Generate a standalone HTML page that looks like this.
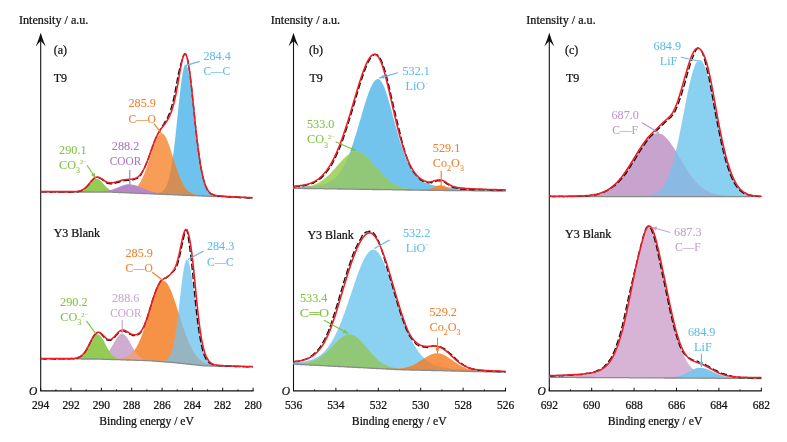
<!DOCTYPE html>
<html><head><meta charset="utf-8"><title>XPS spectra</title>
<style>
html,body{margin:0;padding:0;background:#fff;}
body{width:787px;height:442px;overflow:hidden;font-family:"Liberation Serif",serif;}
svg{display:block;}
svg text{filter:url(#gs);font-family:"Liberation Serif",serif;paint-order:stroke;stroke-linejoin:round;}
</style></head><body>
<svg width="787" height="442" viewBox="0 0 787 442">
<defs><filter id="gs" x="-20%" y="-60%" width="140%" height="220%"><feOffset dx="0" dy="0"/></filter></defs>
<rect width="787" height="442" fill="#fff"/>
<path d="M40.7 391.0 V36" stroke="#111" stroke-width="1.1" fill="none"/>
<path d="M40.7 32.7 Q42.9 40 45.7 46.6 Q43.1 43 40.7 40.9 Q38.3 43 35.7 46.6 Q38.5 40 40.7 32.7 Z" fill="#111"/>
<path d="M40.2 390.9 H253.6" stroke="#111" stroke-width="1.25" fill="none"/>
<path d="M40.7 391.0 v-3.3" stroke="#111" stroke-width="1"/>
<text x="40.7" y="408.6" fill="#111" stroke="#111" stroke-width="0.24" font-size="11.5" text-anchor="middle" >294</text>
<path d="M55.9 391.0 v-1.6" stroke="#111" stroke-width="1"/>
<path d="M71.0 391.0 v-3.3" stroke="#111" stroke-width="1"/>
<text x="71.0" y="408.6" fill="#111" stroke="#111" stroke-width="0.24" font-size="11.5" text-anchor="middle" >292</text>
<path d="M86.2 391.0 v-1.6" stroke="#111" stroke-width="1"/>
<path d="M101.4 391.0 v-3.3" stroke="#111" stroke-width="1"/>
<text x="101.4" y="408.6" fill="#111" stroke="#111" stroke-width="0.24" font-size="11.5" text-anchor="middle" >290</text>
<path d="M116.5 391.0 v-1.6" stroke="#111" stroke-width="1"/>
<path d="M131.7 391.0 v-3.3" stroke="#111" stroke-width="1"/>
<text x="131.7" y="408.6" fill="#111" stroke="#111" stroke-width="0.24" font-size="11.5" text-anchor="middle" >288</text>
<path d="M146.9 391.0 v-1.6" stroke="#111" stroke-width="1"/>
<path d="M162.1 391.0 v-3.3" stroke="#111" stroke-width="1"/>
<text x="162.1" y="408.6" fill="#111" stroke="#111" stroke-width="0.24" font-size="11.5" text-anchor="middle" >286</text>
<path d="M177.2 391.0 v-1.6" stroke="#111" stroke-width="1"/>
<path d="M192.4 391.0 v-3.3" stroke="#111" stroke-width="1"/>
<text x="192.4" y="408.6" fill="#111" stroke="#111" stroke-width="0.24" font-size="11.5" text-anchor="middle" >284</text>
<path d="M207.6 391.0 v-1.6" stroke="#111" stroke-width="1"/>
<path d="M222.7 391.0 v-3.3" stroke="#111" stroke-width="1"/>
<text x="222.7" y="408.6" fill="#111" stroke="#111" stroke-width="0.24" font-size="11.5" text-anchor="middle" >282</text>
<path d="M237.9 391.0 v-1.6" stroke="#111" stroke-width="1"/>
<path d="M253.1 391.0 v-3.3" stroke="#111" stroke-width="1"/>
<text x="253.1" y="408.6" fill="#111" stroke="#111" stroke-width="0.24" font-size="11.5" text-anchor="middle" >280</text>
<text x="37.2" y="395.3" fill="#111" stroke="#111" stroke-width="0.24" font-size="11.5" text-anchor="end" font-style="italic">O</text>
<text transform="translate(146.6 425.3) scale(1.015 1)" fill="#111" stroke="#111" stroke-width="0.24" font-size="11.5" text-anchor="middle" >Binding energy / eV</text>
<text transform="translate(19.0 23.5) scale(1.056 1)" fill="#111" stroke="#111" stroke-width="0.24" font-size="11.5" text-anchor="start" >Intensity / a.u.</text>
<path d="M124.7 192.3 L125.7 192.3 L126.7 192.4 L127.7 192.4 L128.7 192.4 L129.7 192.5 L130.7 192.5 L131.7 192.6 L132.7 192.6 L133.7 192.6 L134.7 192.7 L135.7 192.7 L136.7 192.7 L137.7 192.8 L138.7 192.8 L139.7 192.8 L140.7 192.9 L141.7 192.9 L142.7 192.9 L143.7 193.0 L144.7 193.0 L145.7 193.0 L146.7 193.0 L147.7 193.1 L148.7 193.1 L149.7 193.1 L150.7 193.1 L151.7 193.2 L152.7 193.2 L153.7 193.2 L154.7 193.2 L155.7 193.1 L156.7 193.1 L157.7 193.0 L158.7 192.8 L159.7 192.6 L160.7 192.3 L161.7 191.8 L162.7 191.2 L163.7 190.3 L164.7 189.1 L165.7 187.5 L166.7 185.4 L167.7 182.8 L168.7 179.6 L169.7 175.5 L170.7 170.7 L171.7 165.0 L172.7 158.4 L173.7 151.0 L174.7 142.7 L175.7 133.7 L176.7 124.3 L177.7 114.5 L178.7 104.8 L179.7 95.4 L180.7 86.7 L181.7 79.0 L182.7 72.6 L183.7 67.9 L184.7 65.1 L185.7 64.3 L186.7 65.4 L187.7 68.2 L188.7 72.6 L189.7 78.4 L190.7 85.4 L191.7 93.3 L192.7 101.8 L193.7 110.8 L194.7 119.8 L195.7 128.8 L196.7 137.4 L197.7 145.6 L198.7 153.2 L199.7 160.0 L200.7 166.1 L201.7 171.5 L202.7 176.1 L203.7 180.1 L204.7 183.3 L205.7 186.0 L206.7 188.2 L207.7 190.0 L208.7 191.4 L209.7 192.5 L210.7 193.3 L211.7 194.0 L212.7 194.5 L213.7 194.9 L214.7 195.2 L215.7 195.4 L216.7 195.6 L217.7 195.7 L218.7 195.8 L219.7 195.9 L220.7 196.0 L221.7 196.1 L222.7 196.1 L223.7 196.2 L224.7 196.3 L225.7 196.3 L226.7 196.4 L227.7 196.4 L228.7 196.5 L229.7 196.6 L230.7 196.6 L231.7 196.7 L232.7 196.7 L233.7 196.8 L234.7 196.8 L235.7 196.9 L236.7 196.9 L237.7 197.0 L238.7 197.0 L239.7 197.1 L240.7 197.1 L241.7 197.2 L242.7 197.2 L243.7 197.3 L244.7 197.3 L245.7 197.3 L245.7 197.8 L244.7 197.8 L243.7 197.7 L242.7 197.7 L241.7 197.6 L240.7 197.6 L239.7 197.5 L238.7 197.5 L237.7 197.5 L236.7 197.4 L235.7 197.4 L234.7 197.3 L233.7 197.3 L232.7 197.2 L231.7 197.2 L230.7 197.2 L229.7 197.1 L228.7 197.1 L227.7 197.0 L226.7 197.0 L225.7 197.0 L224.7 196.9 L223.7 196.9 L222.7 196.8 L221.7 196.8 L220.7 196.7 L219.7 196.7 L218.7 196.7 L217.7 196.6 L216.7 196.6 L215.7 196.5 L214.7 196.5 L213.7 196.5 L212.7 196.4 L211.7 196.4 L210.7 196.3 L209.7 196.3 L208.7 196.2 L207.7 196.2 L206.7 196.2 L205.7 196.1 L204.7 196.1 L203.7 196.0 L202.7 196.0 L201.7 195.9 L200.7 195.9 L199.7 195.9 L198.7 195.8 L197.7 195.8 L196.7 195.7 L195.7 195.7 L194.7 195.7 L193.7 195.6 L192.7 195.6 L191.7 195.5 L190.7 195.5 L189.7 195.4 L188.7 195.4 L187.7 195.4 L186.7 195.3 L185.7 195.3 L184.7 195.2 L183.7 195.2 L182.7 195.2 L181.7 195.1 L180.7 195.1 L179.7 195.0 L178.7 195.0 L177.7 194.9 L176.7 194.9 L175.7 194.9 L174.7 194.8 L173.7 194.8 L172.7 194.7 L171.7 194.7 L170.7 194.6 L169.7 194.6 L168.7 194.6 L167.7 194.5 L166.7 194.5 L165.7 194.4 L164.7 194.4 L163.7 194.4 L162.7 194.3 L161.7 194.3 L160.7 194.2 L159.7 194.2 L158.7 194.1 L157.7 194.1 L156.7 194.1 L155.7 194.0 L154.7 194.0 L153.7 193.9 L152.7 193.9 L151.7 193.8 L150.7 193.8 L149.7 193.8 L148.7 193.7 L147.7 193.7 L146.7 193.6 L145.7 193.6 L144.7 193.6 L143.7 193.5 L142.7 193.5 L141.7 193.4 L140.7 193.4 L139.7 193.3 L138.7 193.3 L137.7 193.3 L136.7 193.2 L135.7 193.2 L134.7 193.1 L133.7 193.1 L132.7 193.1 L131.7 193.0 L130.7 193.0 L129.7 192.9 L128.7 192.9 L127.7 192.8 L126.7 192.8 L125.7 192.8 L124.7 192.7 Z" fill="#6EC3EE"/>
<path d="M81.7 191.7 L82.7 191.7 L83.7 191.7 L84.7 191.7 L85.7 191.7 L86.7 191.7 L87.7 191.7 L88.7 191.7 L89.7 191.7 L90.7 191.7 L91.7 191.7 L92.7 191.8 L93.7 191.8 L94.7 191.8 L95.7 191.8 L96.7 191.8 L97.7 191.8 L98.7 191.8 L99.7 191.8 L100.7 191.8 L101.7 191.8 L102.7 191.8 L103.7 191.8 L104.7 191.8 L105.7 191.8 L106.7 191.8 L107.7 191.8 L108.7 191.8 L109.7 191.8 L110.7 191.8 L111.7 191.9 L112.7 191.9 L113.7 191.9 L114.7 192.0 L115.7 192.0 L116.7 192.1 L117.7 192.1 L118.7 192.1 L119.7 192.1 L120.7 192.1 L121.7 192.1 L122.7 192.1 L123.7 192.1 L124.7 192.1 L125.7 192.0 L126.7 191.9 L127.7 191.8 L128.7 191.6 L129.7 191.3 L130.7 191.0 L131.7 190.6 L132.7 190.2 L133.7 189.6 L134.7 188.9 L135.7 188.1 L136.7 187.1 L137.7 186.0 L138.7 184.6 L139.7 183.1 L140.7 181.4 L141.7 179.5 L142.7 177.4 L143.7 175.1 L144.7 172.6 L145.7 169.9 L146.7 167.1 L147.7 164.1 L148.7 161.0 L149.7 157.9 L150.7 154.7 L151.7 151.6 L152.7 148.6 L153.7 145.6 L154.7 142.9 L155.7 140.4 L156.7 138.3 L157.7 136.4 L158.7 135.0 L159.7 133.9 L160.7 133.3 L161.7 133.2 L162.7 133.5 L163.7 134.3 L164.7 135.5 L165.7 137.1 L166.7 139.1 L167.7 141.4 L168.7 144.0 L169.7 146.9 L170.7 149.9 L171.7 153.1 L172.7 156.3 L173.7 159.5 L174.7 162.8 L175.7 165.9 L176.7 168.9 L177.7 171.8 L178.7 174.6 L179.7 177.1 L180.7 179.5 L181.7 181.6 L182.7 183.6 L183.7 185.3 L184.7 186.9 L185.7 188.2 L186.7 189.4 L187.7 190.4 L188.7 191.3 L189.7 192.1 L190.7 192.7 L191.7 193.3 L192.7 193.7 L193.7 194.1 L194.7 194.4 L195.7 194.6 L196.7 194.9 L197.7 195.0 L198.7 195.2 L199.7 195.3 L200.7 195.4 L201.7 195.5 L202.7 195.6 L203.7 195.7 L204.7 195.7 L205.7 195.8 L206.7 195.8 L207.7 195.9 L208.7 195.9 L209.7 196.0 L210.7 196.0 L211.7 196.1 L212.7 196.1 L213.7 196.1 L214.7 196.2 L215.7 196.2 L216.7 196.3 L217.7 196.3 L218.7 196.4 L219.7 196.4 L220.7 196.4 L221.7 196.5 L222.7 196.5 L223.7 196.6 L224.7 196.6 L225.7 196.7 L226.7 196.7 L227.7 196.7 L228.7 196.8 L229.7 196.8 L230.7 196.9 L231.7 196.9 L232.7 196.9 L233.7 197.0 L234.7 197.0 L235.7 197.1 L236.7 197.1 L237.7 197.2 L238.7 197.2 L239.7 197.2 L240.7 197.3 L241.7 197.3 L241.7 197.6 L240.7 197.6 L239.7 197.5 L238.7 197.5 L237.7 197.5 L236.7 197.4 L235.7 197.4 L234.7 197.3 L233.7 197.3 L232.7 197.2 L231.7 197.2 L230.7 197.2 L229.7 197.1 L228.7 197.1 L227.7 197.0 L226.7 197.0 L225.7 197.0 L224.7 196.9 L223.7 196.9 L222.7 196.8 L221.7 196.8 L220.7 196.7 L219.7 196.7 L218.7 196.7 L217.7 196.6 L216.7 196.6 L215.7 196.5 L214.7 196.5 L213.7 196.5 L212.7 196.4 L211.7 196.4 L210.7 196.3 L209.7 196.3 L208.7 196.2 L207.7 196.2 L206.7 196.2 L205.7 196.1 L204.7 196.1 L203.7 196.0 L202.7 196.0 L201.7 195.9 L200.7 195.9 L199.7 195.9 L198.7 195.8 L197.7 195.8 L196.7 195.7 L195.7 195.7 L194.7 195.7 L193.7 195.6 L192.7 195.6 L191.7 195.5 L190.7 195.5 L189.7 195.4 L188.7 195.4 L187.7 195.4 L186.7 195.3 L185.7 195.3 L184.7 195.2 L183.7 195.2 L182.7 195.2 L181.7 195.1 L180.7 195.1 L179.7 195.0 L178.7 195.0 L177.7 194.9 L176.7 194.9 L175.7 194.9 L174.7 194.8 L173.7 194.8 L172.7 194.7 L171.7 194.7 L170.7 194.6 L169.7 194.6 L168.7 194.6 L167.7 194.5 L166.7 194.5 L165.7 194.4 L164.7 194.4 L163.7 194.4 L162.7 194.3 L161.7 194.3 L160.7 194.2 L159.7 194.2 L158.7 194.1 L157.7 194.1 L156.7 194.1 L155.7 194.0 L154.7 194.0 L153.7 193.9 L152.7 193.9 L151.7 193.8 L150.7 193.8 L149.7 193.8 L148.7 193.7 L147.7 193.7 L146.7 193.6 L145.7 193.6 L144.7 193.6 L143.7 193.5 L142.7 193.5 L141.7 193.4 L140.7 193.4 L139.7 193.3 L138.7 193.3 L137.7 193.3 L136.7 193.2 L135.7 193.2 L134.7 193.1 L133.7 193.1 L132.7 193.1 L131.7 193.0 L130.7 193.0 L129.7 192.9 L128.7 192.9 L127.7 192.8 L126.7 192.8 L125.7 192.8 L124.7 192.7 L123.7 192.7 L122.7 192.6 L121.7 192.6 L120.7 192.5 L119.7 192.5 L118.7 192.5 L117.7 192.4 L116.7 192.4 L115.7 192.3 L114.7 192.3 L113.7 192.3 L112.7 192.2 L111.7 192.2 L110.7 192.1 L109.7 192.1 L108.7 192.1 L107.7 192.1 L106.7 192.1 L105.7 192.1 L104.7 192.1 L103.7 192.1 L102.7 192.1 L101.7 192.1 L100.7 192.1 L99.7 192.1 L98.7 192.1 L97.7 192.1 L96.7 192.1 L95.7 192.1 L94.7 192.1 L93.7 192.1 L92.7 192.1 L91.7 192.0 L90.7 192.0 L89.7 192.0 L88.7 192.0 L87.7 192.0 L86.7 192.0 L85.7 192.0 L84.7 192.0 L83.7 192.0 L82.7 192.0 L81.7 192.0 Z" fill="#F79D58"/>
<path d="M118.7 192.1 L119.7 192.1 L120.7 192.1 L121.7 192.2 L122.7 192.2 L123.7 192.3 L124.7 192.3 L125.7 192.3 L126.7 192.4 L127.7 192.4 L128.7 192.4 L129.7 192.5 L130.7 192.5 L131.7 192.6 L132.7 192.6 L133.7 192.6 L134.7 192.7 L135.7 192.7 L136.7 192.7 L137.7 192.8 L138.7 192.8 L139.7 192.8 L140.7 192.9 L141.7 192.9 L142.7 192.9 L143.7 193.0 L144.7 193.0 L145.7 193.0 L146.7 193.0 L147.7 193.1 L148.7 193.1 L149.7 193.1 L150.7 193.1 L151.7 193.2 L152.7 193.2 L153.7 193.2 L154.7 193.2 L155.7 193.1 L156.7 193.1 L157.7 193.0 L158.7 192.8 L159.7 192.6 L160.7 192.3 L161.7 191.8 L162.7 191.2 L163.7 190.3 L164.7 189.1 L165.7 187.5 L166.7 185.4 L167.7 182.8 L168.7 179.6 L169.7 175.5 L170.7 170.7 L171.7 165.0 L172.7 158.4 L173.7 159.5 L174.7 162.8 L175.7 165.9 L176.7 168.9 L177.7 171.8 L178.7 174.6 L179.7 177.1 L180.7 179.5 L181.7 181.6 L182.7 183.6 L183.7 185.3 L184.7 186.9 L185.7 188.2 L186.7 189.4 L187.7 190.4 L188.7 191.3 L189.7 192.1 L190.7 192.7 L191.7 193.3 L192.7 193.7 L193.7 194.1 L194.7 194.4 L195.7 194.6 L196.7 194.9 L197.7 195.0 L198.7 195.2 L199.7 195.3 L200.7 195.4 L201.7 195.5 L202.7 195.6 L203.7 195.7 L204.7 195.7 L204.7 196.1 L203.7 196.0 L202.7 196.0 L201.7 195.9 L200.7 195.9 L199.7 195.9 L198.7 195.8 L197.7 195.8 L196.7 195.7 L195.7 195.7 L194.7 195.7 L193.7 195.6 L192.7 195.6 L191.7 195.5 L190.7 195.5 L189.7 195.4 L188.7 195.4 L187.7 195.4 L186.7 195.3 L185.7 195.3 L184.7 195.2 L183.7 195.2 L182.7 195.2 L181.7 195.1 L180.7 195.1 L179.7 195.0 L178.7 195.0 L177.7 194.9 L176.7 194.9 L175.7 194.9 L174.7 194.8 L173.7 194.8 L172.7 194.7 L171.7 194.7 L170.7 194.6 L169.7 194.6 L168.7 194.6 L167.7 194.5 L166.7 194.5 L165.7 194.4 L164.7 194.4 L163.7 194.4 L162.7 194.3 L161.7 194.3 L160.7 194.2 L159.7 194.2 L158.7 194.1 L157.7 194.1 L156.7 194.1 L155.7 194.0 L154.7 194.0 L153.7 193.9 L152.7 193.9 L151.7 193.8 L150.7 193.8 L149.7 193.8 L148.7 193.7 L147.7 193.7 L146.7 193.6 L145.7 193.6 L144.7 193.6 L143.7 193.5 L142.7 193.5 L141.7 193.4 L140.7 193.4 L139.7 193.3 L138.7 193.3 L137.7 193.3 L136.7 193.2 L135.7 193.2 L134.7 193.1 L133.7 193.1 L132.7 193.1 L131.7 193.0 L130.7 193.0 L129.7 192.9 L128.7 192.9 L127.7 192.8 L126.7 192.8 L125.7 192.8 L124.7 192.7 L123.7 192.7 L122.7 192.6 L121.7 192.6 L120.7 192.5 L119.7 192.5 L118.7 192.5 Z" fill="#D28F55"/>
<path d="M47.7 191.6 L48.7 191.6 L49.7 191.6 L50.7 191.6 L51.7 191.6 L52.7 191.6 L53.7 191.6 L54.7 191.6 L55.7 191.6 L56.7 191.6 L57.7 191.7 L58.7 191.7 L59.7 191.7 L60.7 191.7 L61.7 191.7 L62.7 191.7 L63.7 191.7 L64.7 191.7 L65.7 191.7 L66.7 191.7 L67.7 191.7 L68.7 191.7 L69.7 191.7 L70.7 191.7 L71.7 191.7 L72.7 191.7 L73.7 191.6 L74.7 191.6 L75.7 191.5 L76.7 191.5 L77.7 191.3 L78.7 191.2 L79.7 191.0 L80.7 190.7 L81.7 190.3 L82.7 189.8 L83.7 189.2 L84.7 188.5 L85.7 187.7 L86.7 186.7 L87.7 185.7 L88.7 184.6 L89.7 183.5 L90.7 182.4 L91.7 181.3 L92.7 180.4 L93.7 179.6 L94.7 179.1 L95.7 178.8 L96.7 178.7 L97.7 178.9 L98.7 179.4 L99.7 180.1 L100.7 181.0 L101.7 182.0 L102.7 183.1 L103.7 184.2 L104.7 185.3 L105.7 186.4 L106.7 187.4 L107.7 188.2 L108.7 189.0 L109.7 189.7 L110.7 190.2 L111.7 190.7 L112.7 191.0 L113.7 191.3 L114.7 191.6 L115.7 191.7 L116.7 191.9 L117.7 192.0 L118.7 192.1 L119.7 192.2 L120.7 192.2 L121.7 192.3 L122.7 192.3 L123.7 192.4 L124.7 192.4 L125.7 192.5 L126.7 192.5 L127.7 192.5 L128.7 192.6 L129.7 192.6 L130.7 192.7 L131.7 192.7 L132.7 192.8 L133.7 192.8 L134.7 192.8 L135.7 192.9 L136.7 192.9 L137.7 193.0 L138.7 193.0 L139.7 193.0 L140.7 193.1 L141.7 193.1 L142.7 193.2 L143.7 193.2 L144.7 193.3 L144.7 193.6 L143.7 193.5 L142.7 193.5 L141.7 193.4 L140.7 193.4 L139.7 193.3 L138.7 193.3 L137.7 193.3 L136.7 193.2 L135.7 193.2 L134.7 193.1 L133.7 193.1 L132.7 193.1 L131.7 193.0 L130.7 193.0 L129.7 192.9 L128.7 192.9 L127.7 192.8 L126.7 192.8 L125.7 192.8 L124.7 192.7 L123.7 192.7 L122.7 192.6 L121.7 192.6 L120.7 192.5 L119.7 192.5 L118.7 192.5 L117.7 192.4 L116.7 192.4 L115.7 192.3 L114.7 192.3 L113.7 192.3 L112.7 192.2 L111.7 192.2 L110.7 192.1 L109.7 192.1 L108.7 192.1 L107.7 192.1 L106.7 192.1 L105.7 192.1 L104.7 192.1 L103.7 192.1 L102.7 192.1 L101.7 192.1 L100.7 192.1 L99.7 192.1 L98.7 192.1 L97.7 192.1 L96.7 192.1 L95.7 192.1 L94.7 192.1 L93.7 192.1 L92.7 192.1 L91.7 192.0 L90.7 192.0 L89.7 192.0 L88.7 192.0 L87.7 192.0 L86.7 192.0 L85.7 192.0 L84.7 192.0 L83.7 192.0 L82.7 192.0 L81.7 192.0 L80.7 192.0 L79.7 192.0 L78.7 192.0 L77.7 192.0 L76.7 192.0 L75.7 192.0 L74.7 192.0 L73.7 192.0 L72.7 192.0 L71.7 192.0 L70.7 192.0 L69.7 192.0 L68.7 192.0 L67.7 192.0 L66.7 192.0 L65.7 192.0 L64.7 192.0 L63.7 192.0 L62.7 192.0 L61.7 192.0 L60.7 192.0 L59.7 192.0 L58.7 192.0 L57.7 192.0 L56.7 191.9 L55.7 191.9 L54.7 191.9 L53.7 191.9 L52.7 191.9 L51.7 191.9 L50.7 191.9 L49.7 191.9 L48.7 191.9 L47.7 191.9 Z" fill="#93CB55"/>
<path d="M40.7 191.6 L41.7 191.6 L42.7 191.6 L43.7 191.6 L44.7 191.6 L45.7 191.6 L46.7 191.6 L47.7 191.6 L48.7 191.6 L49.7 191.6 L50.7 191.6 L51.7 191.6 L52.7 191.6 L53.7 191.6 L54.7 191.6 L55.7 191.6 L56.7 191.6 L57.7 191.7 L58.7 191.7 L59.7 191.7 L60.7 191.7 L61.7 191.7 L62.7 191.7 L63.7 191.7 L64.7 191.7 L65.7 191.7 L66.7 191.7 L67.7 191.7 L68.7 191.7 L69.7 191.7 L70.7 191.7 L71.7 191.7 L72.7 191.7 L73.7 191.7 L74.7 191.7 L75.7 191.7 L76.7 191.7 L77.7 191.7 L78.7 191.7 L79.7 191.7 L80.7 191.7 L81.7 191.7 L82.7 191.7 L83.7 191.7 L84.7 191.7 L85.7 191.7 L86.7 191.7 L87.7 191.7 L88.7 191.7 L89.7 191.7 L90.7 191.7 L91.7 191.7 L92.7 191.7 L93.7 191.7 L94.7 191.7 L95.7 191.7 L96.7 191.7 L97.7 191.6 L98.7 191.6 L99.7 191.6 L100.7 191.5 L101.7 191.4 L102.7 191.4 L103.7 191.3 L104.7 191.1 L105.7 191.0 L106.7 190.8 L107.7 190.6 L108.7 190.4 L109.7 190.2 L110.7 189.9 L111.7 189.7 L112.7 189.4 L113.7 189.0 L114.7 188.7 L115.7 188.3 L116.7 187.9 L117.7 187.5 L118.7 187.1 L119.7 186.7 L120.7 186.2 L121.7 185.9 L122.7 185.5 L123.7 185.2 L124.7 184.9 L125.7 184.6 L126.7 184.5 L127.7 184.3 L128.7 184.3 L129.7 184.3 L130.7 184.4 L131.7 184.5 L132.7 184.7 L133.7 184.9 L134.7 185.1 L135.7 185.4 L136.7 185.8 L137.7 186.1 L138.7 186.5 L139.7 186.9 L140.7 187.3 L141.7 187.7 L142.7 188.2 L143.7 188.6 L144.7 189.0 L145.7 189.4 L146.7 189.8 L147.7 190.2 L148.7 190.6 L149.7 190.9 L150.7 191.3 L151.7 191.6 L152.7 191.9 L153.7 192.1 L154.7 192.4 L155.7 192.6 L156.7 192.8 L157.7 193.0 L158.7 193.2 L159.7 193.3 L160.7 193.5 L161.7 193.6 L162.7 193.7 L163.7 193.8 L164.7 193.9 L165.7 194.0 L166.7 194.0 L167.7 194.1 L168.7 194.2 L169.7 194.2 L170.7 194.3 L171.7 194.3 L172.7 194.4 L173.7 194.4 L174.7 194.5 L175.7 194.5 L176.7 194.6 L177.7 194.6 L178.7 194.7 L179.7 194.7 L180.7 194.8 L181.7 194.8 L182.7 194.8 L183.7 194.9 L184.7 194.9 L185.7 195.0 L186.7 195.0 L187.7 195.1 L188.7 195.1 L189.7 195.1 L190.7 195.2 L191.7 195.2 L192.7 195.3 L193.7 195.3 L194.7 195.4 L195.7 195.4 L196.7 195.4 L197.7 195.5 L198.7 195.5 L199.7 195.6 L200.7 195.6 L201.7 195.6 L202.7 195.7 L203.7 195.7 L204.7 195.8 L205.7 195.8 L206.7 195.9 L207.7 195.9 L208.7 195.9 L209.7 196.0 L210.7 196.0 L211.7 196.1 L212.7 196.1 L213.7 196.2 L214.7 196.2 L215.7 196.2 L216.7 196.3 L217.7 196.3 L218.7 196.4 L219.7 196.4 L219.7 196.7 L218.7 196.7 L217.7 196.6 L216.7 196.6 L215.7 196.5 L214.7 196.5 L213.7 196.5 L212.7 196.4 L211.7 196.4 L210.7 196.3 L209.7 196.3 L208.7 196.2 L207.7 196.2 L206.7 196.2 L205.7 196.1 L204.7 196.1 L203.7 196.0 L202.7 196.0 L201.7 195.9 L200.7 195.9 L199.7 195.9 L198.7 195.8 L197.7 195.8 L196.7 195.7 L195.7 195.7 L194.7 195.7 L193.7 195.6 L192.7 195.6 L191.7 195.5 L190.7 195.5 L189.7 195.4 L188.7 195.4 L187.7 195.4 L186.7 195.3 L185.7 195.3 L184.7 195.2 L183.7 195.2 L182.7 195.2 L181.7 195.1 L180.7 195.1 L179.7 195.0 L178.7 195.0 L177.7 194.9 L176.7 194.9 L175.7 194.9 L174.7 194.8 L173.7 194.8 L172.7 194.7 L171.7 194.7 L170.7 194.6 L169.7 194.6 L168.7 194.6 L167.7 194.5 L166.7 194.5 L165.7 194.4 L164.7 194.4 L163.7 194.4 L162.7 194.3 L161.7 194.3 L160.7 194.2 L159.7 194.2 L158.7 194.1 L157.7 194.1 L156.7 194.1 L155.7 194.0 L154.7 194.0 L153.7 193.9 L152.7 193.9 L151.7 193.8 L150.7 193.8 L149.7 193.8 L148.7 193.7 L147.7 193.7 L146.7 193.6 L145.7 193.6 L144.7 193.6 L143.7 193.5 L142.7 193.5 L141.7 193.4 L140.7 193.4 L139.7 193.3 L138.7 193.3 L137.7 193.3 L136.7 193.2 L135.7 193.2 L134.7 193.1 L133.7 193.1 L132.7 193.1 L131.7 193.0 L130.7 193.0 L129.7 192.9 L128.7 192.9 L127.7 192.8 L126.7 192.8 L125.7 192.8 L124.7 192.7 L123.7 192.7 L122.7 192.6 L121.7 192.6 L120.7 192.5 L119.7 192.5 L118.7 192.5 L117.7 192.4 L116.7 192.4 L115.7 192.3 L114.7 192.3 L113.7 192.3 L112.7 192.2 L111.7 192.2 L110.7 192.1 L109.7 192.1 L108.7 192.1 L107.7 192.1 L106.7 192.1 L105.7 192.1 L104.7 192.1 L103.7 192.1 L102.7 192.1 L101.7 192.1 L100.7 192.1 L99.7 192.1 L98.7 192.1 L97.7 192.1 L96.7 192.1 L95.7 192.1 L94.7 192.1 L93.7 192.1 L92.7 192.1 L91.7 192.0 L90.7 192.0 L89.7 192.0 L88.7 192.0 L87.7 192.0 L86.7 192.0 L85.7 192.0 L84.7 192.0 L83.7 192.0 L82.7 192.0 L81.7 192.0 L80.7 192.0 L79.7 192.0 L78.7 192.0 L77.7 192.0 L76.7 192.0 L75.7 192.0 L74.7 192.0 L73.7 192.0 L72.7 192.0 L71.7 192.0 L70.7 192.0 L69.7 192.0 L68.7 192.0 L67.7 192.0 L66.7 192.0 L65.7 192.0 L64.7 192.0 L63.7 192.0 L62.7 192.0 L61.7 192.0 L60.7 192.0 L59.7 192.0 L58.7 192.0 L57.7 192.0 L56.7 191.9 L55.7 191.9 L54.7 191.9 L53.7 191.9 L52.7 191.9 L51.7 191.9 L50.7 191.9 L49.7 191.9 L48.7 191.9 L47.7 191.9 L46.7 191.9 L45.7 191.9 L44.7 191.9 L43.7 191.9 L42.7 191.9 L41.7 191.9 L40.7 191.9 Z" fill="#B787C8"/>
<path d="M40.7 191.9 L41.7 191.9 L42.7 191.9 L43.7 191.9 L44.7 191.9 L45.7 191.9 L46.7 191.9 L47.7 191.9 L48.7 191.9 L49.7 191.9 L50.7 191.9 L51.7 191.9 L52.7 191.9 L53.7 191.9 L54.7 191.9 L55.7 191.9 L56.7 191.9 L57.7 192.0 L58.7 192.0 L59.7 192.0 L60.7 192.0 L61.7 192.0 L62.7 192.0 L63.7 192.0 L64.7 192.0 L65.7 192.0 L66.7 192.0 L67.7 192.0 L68.7 192.0 L69.7 192.0 L70.7 192.0 L71.7 192.0 L72.7 192.0 L73.7 192.0 L74.7 192.0 L75.7 192.0 L76.7 192.0 L77.7 192.0 L78.7 192.0 L79.7 192.0 L80.7 192.0 L81.7 192.0 L82.7 192.0 L83.7 192.0 L84.7 192.0 L85.7 192.0 L86.7 192.0 L87.7 192.0 L88.7 192.0 L89.7 192.0 L90.7 192.0 L91.7 192.0 L92.7 192.1 L93.7 192.1 L94.7 192.1 L95.7 192.1 L96.7 192.1 L97.7 192.1 L98.7 192.1 L99.7 192.1 L100.7 192.1 L101.7 192.1 L102.7 192.1 L103.7 192.1 L104.7 192.1 L105.7 192.1 L106.7 192.1 L107.7 192.1 L108.7 192.1 L109.7 192.1 L110.7 192.1 L111.7 192.2 L112.7 192.2 L113.7 192.3 L114.7 192.3 L115.7 192.3 L116.7 192.4 L117.7 192.4 L118.7 192.5 L119.7 192.5 L120.7 192.5 L121.7 192.6 L122.7 192.6 L123.7 192.7 L124.7 192.7 L125.7 192.8 L126.7 192.8 L127.7 192.8 L128.7 192.9 L129.7 192.9 L130.7 193.0 L131.7 193.0 L132.7 193.1 L133.7 193.1 L134.7 193.1 L135.7 193.2 L136.7 193.2 L137.7 193.3 L138.7 193.3 L139.7 193.3 L140.7 193.4 L141.7 193.4 L142.7 193.5 L143.7 193.5 L144.7 193.6 L145.7 193.6 L146.7 193.6 L147.7 193.7 L148.7 193.7 L149.7 193.8 L150.7 193.8 L151.7 193.8 L152.7 193.9 L153.7 193.9 L154.7 194.0 L155.7 194.0 L156.7 194.1 L157.7 194.1 L158.7 194.1 L159.7 194.2 L160.7 194.2 L161.7 194.3 L162.7 194.3 L163.7 194.4 L164.7 194.4 L165.7 194.4 L166.7 194.5 L167.7 194.5 L168.7 194.6 L169.7 194.6 L170.7 194.6 L171.7 194.7 L172.7 194.7 L173.7 194.8 L174.7 194.8 L175.7 194.9 L176.7 194.9 L177.7 194.9 L178.7 195.0 L179.7 195.0 L180.7 195.1 L181.7 195.1 L182.7 195.2 L183.7 195.2 L184.7 195.2 L185.7 195.3 L186.7 195.3 L187.7 195.4 L188.7 195.4 L189.7 195.4 L190.7 195.5 L191.7 195.5 L192.7 195.6 L193.7 195.6 L194.7 195.7 L195.7 195.7 L196.7 195.7 L197.7 195.8 L198.7 195.8 L199.7 195.9 L200.7 195.9 L201.7 195.9 L202.7 196.0 L203.7 196.0 L204.7 196.1 L205.7 196.1 L206.7 196.2 L207.7 196.2 L208.7 196.2 L209.7 196.3 L210.7 196.3 L211.7 196.4 L212.7 196.4 L213.7 196.5 L214.7 196.5 L215.7 196.5 L216.7 196.6 L217.7 196.6 L218.7 196.7 L219.7 196.7 L220.7 196.7 L221.7 196.8 L222.7 196.8 L223.7 196.9 L224.7 196.9 L225.7 197.0 L226.7 197.0 L227.7 197.0 L228.7 197.1 L229.7 197.1 L230.7 197.2 L231.7 197.2 L232.7 197.2 L233.7 197.3 L234.7 197.3 L235.7 197.4 L236.7 197.4 L237.7 197.5 L238.7 197.5 L239.7 197.5 L240.7 197.6 L241.7 197.6 L242.7 197.7 L243.7 197.7 L244.7 197.8 L245.7 197.8 L246.7 197.8 L247.7 197.9 L248.7 197.9 L249.7 198.0 L250.7 198.0 L251.7 198.0 L252.7 198.1" fill="none" stroke="#8A8A8A" stroke-width="1.3"/>
<path d="M40.7 192.1 L41.7 191.9 L42.7 191.7 L43.7 191.7 L44.7 191.9 L45.7 191.8 L46.7 191.8 L47.7 192.0 L48.7 192.2 L49.7 192.0 L50.7 191.9 L51.7 192.0 L52.7 191.9 L53.7 191.6 L54.7 191.7 L55.7 192.0 L56.7 191.9 L57.7 191.9 L58.7 192.1 L59.7 192.2 L60.7 191.9 L61.7 191.8 L62.7 191.9 L63.7 191.9 L64.7 191.7 L65.7 191.8 L66.7 192.1 L67.7 192.1 L68.7 191.9 L69.7 192.1 L70.7 192.2 L71.7 191.9 L72.7 191.7 L73.7 191.8 L74.7 191.8 L75.7 191.6 L76.7 191.6 L77.7 191.8 L78.7 191.6 L79.7 191.2 L80.7 190.9 L81.7 190.6 L82.7 189.8 L83.7 189.1 L84.7 188.5 L85.7 187.8 L86.7 186.7 L87.7 185.7 L88.7 184.8 L89.7 183.5 L90.7 182.0 L91.7 180.9 L92.7 179.9 L93.7 178.8 L94.7 177.9 L95.7 177.7 L96.7 177.6 L97.7 177.4 L98.7 177.6 L99.7 178.2 L100.7 178.7 L101.7 179.1 L102.7 179.9 L103.7 180.9 L104.7 181.5 L105.7 182.1 L106.7 182.9 L107.7 183.5 L108.7 183.6 L109.7 183.7 L110.7 183.9 L111.7 183.8 L112.7 183.4 L113.7 183.2 L114.7 183.2 L115.7 183.0 L116.7 182.6 L117.7 182.5 L118.7 182.4 L119.7 181.9 L120.7 181.4 L121.7 181.3 L122.7 181.0 L123.7 180.5 L124.7 180.4 L125.7 180.5 L126.7 180.4 L127.7 180.2 L128.7 180.3 L129.7 180.5 L130.7 180.2 L131.7 179.9 L132.7 179.9 L133.7 179.7 L134.7 179.2 L135.7 178.9 L136.7 178.7 L137.7 178.1 L138.7 177.2 L139.7 176.3 L140.7 175.1 L141.7 173.3 L142.7 171.4 L143.7 169.5 L144.7 167.5 L145.7 165.0 L146.7 162.6 L147.7 160.3 L148.7 157.7 L149.7 154.6 L150.7 151.8 L151.7 149.1 L152.7 146.1 L153.7 143.1 L154.7 140.7 L155.7 138.5 L156.7 136.2 L157.7 134.2 L158.7 132.6 L159.7 131.0 L160.7 129.0 L161.7 127.3 L162.7 125.9 L163.7 124.1 L164.7 122.2 L165.7 120.8 L166.7 119.3 L167.7 117.3 L168.7 115.1 L169.7 112.8 L170.7 110.0 L171.7 106.4 L172.7 102.6 L173.7 98.6 L174.7 93.8 L175.7 88.4 L176.7 83.0 L177.7 77.5 L178.7 72.6 L179.7 68.3 L180.7 64.5 L181.7 61.1 L182.7 57.9 L183.7 55.1 L184.7 53.9 L185.7 54.3 L186.7 56.2 L187.7 60.1 L188.7 65.7 L189.7 72.3 L190.7 80.1 L191.7 89.1 L192.7 98.7 L193.7 108.2 L194.7 117.9 L195.7 127.7 L196.7 136.8 L197.7 145.1 L198.7 153.0 L199.7 160.1 L200.7 166.2 L201.7 171.3 L202.7 176.1 L203.7 180.1 L204.7 183.3 L205.7 186.0 L206.7 188.5 L207.7 190.4 L208.7 191.6 L209.7 192.7 L210.7 193.7 L211.7 194.2 L212.7 194.4 L213.7 194.9 L214.7 195.4 L215.7 195.5 L216.7 195.7 L217.7 196.1 L218.7 196.3 L219.7 196.2 L220.7 196.1 L221.7 196.4 L222.7 196.3 L223.7 196.1 L224.7 196.3 L225.7 196.7 L226.7 196.7 L227.7 196.6 L228.7 196.9 L229.7 197.1 L230.7 196.8 L231.7 196.7 L232.7 196.9 L233.7 197.0 L234.7 196.8 L235.7 197.0 L236.7 197.4 L237.7 197.4 L238.7 197.3 L239.7 197.5 L240.7 197.6 L241.7 197.3 L242.7 197.2 L243.7 197.5 L244.7 197.6 L245.7 197.5 L246.7 197.6 L247.7 198.0 L248.7 198.0 L249.7 197.8 L250.7 197.9 L251.7 198.0 L252.7 197.8" fill="none" stroke="#111" stroke-width="1.35" stroke-dasharray="6.5 2.6" stroke-linejoin="round"/>
<path d="M40.7 191.6 L41.7 191.6 L42.7 191.6 L43.7 191.6 L44.7 191.6 L45.7 191.6 L46.7 191.6 L47.7 191.6 L48.7 191.6 L49.7 191.6 L50.7 191.6 L51.7 191.6 L52.7 191.6 L53.7 191.6 L54.7 191.6 L55.7 191.6 L56.7 191.6 L57.7 191.6 L58.7 191.6 L59.7 191.6 L60.7 191.6 L61.7 191.6 L62.7 191.6 L63.7 191.6 L64.7 191.6 L65.7 191.6 L66.7 191.6 L67.7 191.6 L68.7 191.6 L69.7 191.6 L70.7 191.6 L71.7 191.6 L72.7 191.6 L73.7 191.6 L74.7 191.5 L75.7 191.5 L76.7 191.4 L77.7 191.3 L78.7 191.1 L79.7 190.9 L80.7 190.6 L81.7 190.2 L82.7 189.7 L83.7 189.1 L84.7 188.3 L85.7 187.5 L86.7 186.5 L87.7 185.4 L88.7 184.2 L89.7 183.0 L90.7 181.8 L91.7 180.6 L92.7 179.6 L93.7 178.6 L94.7 177.9 L95.7 177.4 L96.7 177.1 L97.7 177.1 L98.7 177.2 L99.7 177.6 L100.7 178.1 L101.7 178.8 L102.7 179.5 L103.7 180.2 L104.7 180.9 L105.7 181.5 L106.7 182.0 L107.7 182.4 L108.7 182.6 L109.7 182.8 L110.7 182.8 L111.7 182.8 L112.7 182.7 L113.7 182.6 L114.7 182.3 L115.7 182.1 L116.7 181.8 L117.7 181.5 L118.7 181.2 L119.7 180.9 L120.7 180.6 L121.7 180.3 L122.7 180.1 L123.7 179.9 L124.7 179.7 L125.7 179.6 L126.7 179.4 L127.7 179.4 L128.7 179.3 L129.7 179.3 L130.7 179.2 L131.7 179.2 L132.7 179.0 L133.7 178.8 L134.7 178.6 L135.7 178.2 L136.7 177.7 L137.7 177.1 L138.7 176.3 L139.7 175.3 L140.7 174.1 L141.7 172.7 L142.7 171.1 L143.7 169.3 L144.7 167.3 L145.7 165.1 L146.7 162.7 L147.7 160.1 L148.7 157.4 L149.7 154.6 L150.7 151.8 L151.7 148.9 L152.7 146.1 L153.7 143.4 L154.7 140.8 L155.7 138.4 L156.7 136.2 L157.7 134.1 L158.7 132.3 L159.7 130.7 L160.7 129.3 L161.7 128.0 L162.7 126.7 L163.7 125.5 L164.7 124.2 L165.7 122.8 L166.7 121.3 L167.7 119.7 L168.7 117.8 L169.7 115.7 L170.7 113.4 L171.7 110.7 L172.7 107.6 L173.7 104.0 L174.7 99.9 L175.7 95.3 L176.7 90.2 L177.7 84.7 L178.7 78.9 L179.7 73.1 L180.7 67.5 L181.7 62.4 L182.7 58.2 L183.7 55.2 L184.7 53.8 L185.7 54.1 L186.7 56.2 L187.7 59.9 L188.7 65.3 L189.7 72.1 L190.7 80.1 L191.7 89.0 L192.7 98.5 L193.7 108.3 L194.7 118.0 L195.7 127.5 L196.7 136.5 L197.7 145.0 L198.7 152.7 L199.7 159.7 L200.7 165.9 L201.7 171.4 L202.7 176.0 L203.7 180.0 L204.7 183.3 L205.7 186.0 L206.7 188.2 L207.7 190.0 L208.7 191.4 L209.7 192.5 L210.7 193.3 L211.7 194.0 L212.7 194.5 L213.7 194.9 L214.7 195.1 L215.7 195.4 L216.7 195.6 L217.7 195.7 L218.7 195.8 L219.7 195.9 L220.7 196.0 L221.7 196.1 L222.7 196.1 L223.7 196.2 L224.7 196.3 L225.7 196.3 L226.7 196.4 L227.7 196.4 L228.7 196.5 L229.7 196.6 L230.7 196.6 L231.7 196.7 L232.7 196.7 L233.7 196.8 L234.7 196.8 L235.7 196.9 L236.7 196.9 L237.7 197.0 L238.7 197.0 L239.7 197.1 L240.7 197.1 L241.7 197.2 L242.7 197.2 L243.7 197.3 L244.7 197.3 L245.7 197.3 L246.7 197.4 L247.7 197.4 L248.7 197.5 L249.7 197.5 L250.7 197.6 L251.7 197.6 L252.7 197.7" fill="none" stroke="#EE1C25" stroke-width="1.55" stroke-linejoin="round"/>
<path d="M129.7 359.7 L130.7 359.7 L131.7 359.7 L132.7 359.8 L133.7 359.8 L134.7 359.8 L135.7 359.8 L136.7 359.9 L137.7 359.9 L138.7 359.9 L139.7 360.0 L140.7 360.0 L141.7 360.0 L142.7 360.0 L143.7 360.1 L144.7 360.1 L145.7 360.1 L146.7 360.1 L147.7 360.2 L148.7 360.2 L149.7 360.3 L150.7 360.4 L151.7 360.4 L152.7 360.5 L153.7 360.6 L154.7 360.6 L155.7 360.7 L156.7 360.7 L157.7 360.8 L158.7 360.8 L159.7 360.9 L160.7 360.9 L161.7 360.9 L162.7 360.8 L163.7 360.7 L164.7 360.4 L165.7 360.1 L166.7 359.5 L167.7 358.7 L168.7 357.6 L169.7 356.0 L170.7 353.9 L171.7 351.2 L172.7 347.7 L173.7 343.5 L174.7 338.3 L175.7 332.2 L176.7 325.3 L177.7 317.6 L178.7 309.3 L179.7 300.7 L180.7 292.0 L181.7 283.6 L182.7 275.9 L183.7 269.3 L184.7 264.2 L185.7 260.9 L186.7 259.5 L187.7 260.1 L188.7 262.1 L189.7 265.6 L190.7 270.4 L191.7 276.2 L192.7 282.8 L193.7 290.1 L194.7 297.6 L195.7 305.3 L196.7 312.8 L197.7 320.1 L198.7 326.9 L199.7 333.1 L200.7 338.7 L201.7 343.7 L202.7 348.0 L203.7 351.6 L204.7 354.7 L205.7 357.1 L206.7 359.1 L207.7 360.6 L208.7 361.9 L209.7 362.8 L210.7 363.5 L211.7 364.1 L212.7 364.5 L213.7 364.8 L214.7 365.0 L215.7 365.2 L216.7 365.3 L217.7 365.4 L218.7 365.5 L219.7 365.6 L220.7 365.6 L221.7 365.7 L222.7 365.7 L223.7 365.7 L224.7 365.8 L225.7 365.8 L226.7 365.8 L227.7 365.9 L228.7 365.9 L229.7 365.9 L230.7 366.0 L231.7 366.0 L232.7 366.0 L233.7 366.0 L234.7 366.1 L235.7 366.1 L236.7 366.1 L237.7 366.1 L238.7 366.2 L239.7 366.2 L240.7 366.2 L241.7 366.3 L242.7 366.3 L243.7 366.3 L244.7 366.3 L244.7 366.7 L243.7 366.7 L242.7 366.7 L241.7 366.6 L240.7 366.6 L239.7 366.6 L238.7 366.6 L237.7 366.6 L236.7 366.5 L235.7 366.5 L234.7 366.5 L233.7 366.5 L232.7 366.4 L231.7 366.4 L230.7 366.4 L229.7 366.4 L228.7 366.4 L227.7 366.3 L226.7 366.3 L225.7 366.3 L224.7 366.3 L223.7 366.2 L222.7 366.2 L221.7 366.2 L220.7 366.2 L219.7 366.2 L218.7 366.1 L217.7 366.1 L216.7 366.1 L215.7 366.1 L214.7 366.0 L213.7 366.0 L212.7 366.0 L211.7 366.0 L210.7 366.0 L209.7 365.9 L208.7 365.9 L207.7 365.9 L206.7 365.9 L205.7 365.8 L204.7 365.8 L203.7 365.8 L202.7 365.7 L201.7 365.6 L200.7 365.4 L199.7 365.3 L198.7 365.2 L197.7 365.1 L196.7 365.0 L195.7 364.9 L194.7 364.8 L193.7 364.7 L192.7 364.6 L191.7 364.5 L190.7 364.4 L189.7 364.3 L188.7 364.2 L187.7 364.1 L186.7 364.0 L185.7 363.8 L184.7 363.7 L183.7 363.6 L182.7 363.5 L181.7 363.4 L180.7 363.3 L179.7 363.2 L178.7 363.1 L177.7 363.0 L176.7 362.9 L175.7 362.8 L174.7 362.7 L173.7 362.6 L172.7 362.5 L171.7 362.4 L170.7 362.4 L169.7 362.3 L168.7 362.2 L167.7 362.1 L166.7 362.1 L165.7 362.0 L164.7 361.9 L163.7 361.8 L162.7 361.7 L161.7 361.7 L160.7 361.6 L159.7 361.5 L158.7 361.4 L157.7 361.4 L156.7 361.3 L155.7 361.2 L154.7 361.1 L153.7 361.0 L152.7 361.0 L151.7 360.9 L150.7 360.8 L149.7 360.7 L148.7 360.7 L147.7 360.6 L146.7 360.6 L145.7 360.5 L144.7 360.5 L143.7 360.5 L142.7 360.4 L141.7 360.4 L140.7 360.4 L139.7 360.3 L138.7 360.3 L137.7 360.3 L136.7 360.3 L135.7 360.2 L134.7 360.2 L133.7 360.2 L132.7 360.1 L131.7 360.1 L130.7 360.1 L129.7 360.0 Z" fill="#8ED0F3"/>
<path d="M61.7 358.6 L62.7 358.6 L63.7 358.6 L64.7 358.6 L65.7 358.6 L66.7 358.6 L67.7 358.6 L68.7 358.6 L69.7 358.6 L70.7 358.6 L71.7 358.6 L72.7 358.6 L73.7 358.6 L74.7 358.6 L75.7 358.6 L76.7 358.6 L77.7 358.6 L78.7 358.6 L79.7 358.6 L80.7 358.6 L81.7 358.7 L82.7 358.7 L83.7 358.7 L84.7 358.7 L85.7 358.7 L86.7 358.7 L87.7 358.7 L88.7 358.7 L89.7 358.7 L90.7 358.6 L91.7 358.6 L92.7 358.6 L93.7 358.6 L94.7 358.5 L95.7 358.5 L96.7 358.4 L97.7 358.3 L98.7 358.1 L99.7 357.9 L100.7 357.7 L101.7 357.3 L102.7 356.8 L103.7 356.3 L104.7 355.6 L105.7 354.8 L106.7 353.8 L107.7 352.7 L108.7 351.4 L109.7 350.0 L110.7 348.4 L111.7 346.8 L112.7 345.1 L113.7 343.3 L114.7 341.6 L115.7 339.9 L116.7 338.3 L117.7 336.9 L118.7 335.7 L119.7 334.8 L120.7 334.1 L121.7 333.8 L122.7 333.9 L123.7 334.2 L124.7 334.9 L125.7 335.9 L126.7 337.2 L127.7 338.6 L128.7 340.3 L129.7 342.0 L130.7 343.8 L131.7 345.6 L132.7 347.4 L133.7 349.1 L134.7 350.7 L135.7 352.2 L136.7 353.5 L137.7 354.7 L138.7 355.8 L139.7 356.6 L140.7 357.4 L141.7 358.0 L142.7 358.5 L143.7 359.0 L144.7 359.3 L145.7 359.6 L146.7 359.8 L147.7 359.9 L148.7 360.1 L149.7 360.3 L150.7 360.4 L151.7 360.5 L152.7 360.6 L153.7 360.7 L154.7 360.8 L155.7 360.9 L156.7 361.0 L157.7 361.0 L158.7 361.1 L159.7 361.2 L160.7 361.3 L161.7 361.4 L162.7 361.4 L163.7 361.5 L164.7 361.6 L165.7 361.7 L166.7 361.8 L167.7 361.8 L168.7 361.9 L169.7 362.0 L170.7 362.1 L171.7 362.1 L172.7 362.2 L173.7 362.3 L174.7 362.4 L175.7 362.5 L176.7 362.6 L177.7 362.7 L178.7 362.8 L179.7 362.9 L180.7 363.0 L181.7 363.1 L182.7 363.2 L182.7 363.5 L181.7 363.4 L180.7 363.3 L179.7 363.2 L178.7 363.1 L177.7 363.0 L176.7 362.9 L175.7 362.8 L174.7 362.7 L173.7 362.6 L172.7 362.5 L171.7 362.4 L170.7 362.4 L169.7 362.3 L168.7 362.2 L167.7 362.1 L166.7 362.1 L165.7 362.0 L164.7 361.9 L163.7 361.8 L162.7 361.7 L161.7 361.7 L160.7 361.6 L159.7 361.5 L158.7 361.4 L157.7 361.4 L156.7 361.3 L155.7 361.2 L154.7 361.1 L153.7 361.0 L152.7 361.0 L151.7 360.9 L150.7 360.8 L149.7 360.7 L148.7 360.7 L147.7 360.6 L146.7 360.6 L145.7 360.5 L144.7 360.5 L143.7 360.5 L142.7 360.4 L141.7 360.4 L140.7 360.4 L139.7 360.3 L138.7 360.3 L137.7 360.3 L136.7 360.3 L135.7 360.2 L134.7 360.2 L133.7 360.2 L132.7 360.1 L131.7 360.1 L130.7 360.1 L129.7 360.0 L128.7 360.0 L127.7 360.0 L126.7 360.0 L125.7 359.9 L124.7 359.9 L123.7 359.9 L122.7 359.8 L121.7 359.8 L120.7 359.8 L119.7 359.7 L118.7 359.7 L117.7 359.7 L116.7 359.7 L115.7 359.6 L114.7 359.6 L113.7 359.6 L112.7 359.5 L111.7 359.5 L110.7 359.5 L109.7 359.4 L108.7 359.4 L107.7 359.4 L106.7 359.4 L105.7 359.3 L104.7 359.3 L103.7 359.3 L102.7 359.2 L101.7 359.2 L100.7 359.2 L99.7 359.1 L98.7 359.1 L97.7 359.1 L96.7 359.1 L95.7 359.0 L94.7 359.0 L93.7 359.0 L92.7 359.0 L91.7 359.0 L90.7 359.0 L89.7 359.0 L88.7 359.0 L87.7 359.0 L86.7 359.0 L85.7 359.0 L84.7 359.0 L83.7 359.0 L82.7 359.0 L81.7 359.0 L80.7 358.9 L79.7 358.9 L78.7 358.9 L77.7 358.9 L76.7 358.9 L75.7 358.9 L74.7 358.9 L73.7 358.9 L72.7 358.9 L71.7 358.9 L70.7 358.9 L69.7 358.9 L68.7 358.9 L67.7 358.9 L66.7 358.9 L65.7 358.9 L64.7 358.9 L63.7 358.9 L62.7 358.9 L61.7 358.9 Z" fill="#CEADD0"/>
<path d="M55.7 358.6 L56.7 358.6 L57.7 358.6 L58.7 358.6 L59.7 358.6 L60.7 358.6 L61.7 358.6 L62.7 358.6 L63.7 358.6 L64.7 358.6 L65.7 358.6 L66.7 358.6 L67.7 358.6 L68.7 358.6 L69.7 358.6 L70.7 358.6 L71.7 358.6 L72.7 358.6 L73.7 358.6 L74.7 358.6 L75.7 358.6 L76.7 358.6 L77.7 358.6 L78.7 358.6 L79.7 358.6 L80.7 358.6 L81.7 358.7 L82.7 358.7 L83.7 358.7 L84.7 358.7 L85.7 358.7 L86.7 358.7 L87.7 358.7 L88.7 358.7 L89.7 358.7 L90.7 358.7 L91.7 358.7 L92.7 358.7 L93.7 358.7 L94.7 358.7 L95.7 358.7 L96.7 358.8 L97.7 358.8 L98.7 358.8 L99.7 358.8 L100.7 358.9 L101.7 358.9 L102.7 358.9 L103.7 359.0 L104.7 359.0 L105.7 359.0 L106.7 359.0 L107.7 359.1 L108.7 359.1 L109.7 359.1 L110.7 359.1 L111.7 359.1 L112.7 359.1 L113.7 359.1 L114.7 359.1 L115.7 359.1 L116.7 359.0 L117.7 359.0 L118.7 358.9 L119.7 358.8 L120.7 358.7 L121.7 358.5 L122.7 358.3 L123.7 358.1 L124.7 357.8 L125.7 357.4 L126.7 357.0 L127.7 356.5 L128.7 355.9 L129.7 355.2 L130.7 354.4 L131.7 353.5 L132.7 352.4 L133.7 351.2 L134.7 349.9 L135.7 348.4 L136.7 346.7 L137.7 344.8 L138.7 342.8 L139.7 340.6 L140.7 338.2 L141.7 335.6 L142.7 332.8 L143.7 329.9 L144.7 326.8 L145.7 323.6 L146.7 320.3 L147.7 316.9 L148.7 313.5 L149.7 310.1 L150.7 306.7 L151.7 303.3 L152.7 300.1 L153.7 297.0 L154.7 294.0 L155.7 291.3 L156.7 288.8 L157.7 286.6 L158.7 284.7 L159.7 283.1 L160.7 282.0 L161.7 281.2 L162.7 280.8 L163.7 280.9 L164.7 281.2 L165.7 281.9 L166.7 283.0 L167.7 284.3 L168.7 286.0 L169.7 287.9 L170.7 290.1 L171.7 292.5 L172.7 295.1 L173.7 297.9 L174.7 300.8 L175.7 303.9 L176.7 307.1 L177.7 310.3 L178.7 313.5 L179.7 316.8 L180.7 320.0 L181.7 323.2 L182.7 326.4 L183.7 329.4 L184.7 332.3 L185.7 335.1 L186.7 337.8 L187.7 340.4 L188.7 342.8 L189.7 345.1 L190.7 347.2 L191.7 349.1 L192.7 350.9 L193.7 352.6 L194.7 354.1 L195.7 355.5 L196.7 356.8 L197.7 358.0 L198.7 359.0 L199.7 359.9 L200.7 360.8 L201.7 361.5 L202.7 362.2 L203.7 362.8 L204.7 363.2 L205.7 363.6 L206.7 364.0 L207.7 364.2 L208.7 364.5 L209.7 364.7 L210.7 364.9 L211.7 365.1 L212.7 365.2 L213.7 365.3 L214.7 365.4 L215.7 365.5 L216.7 365.6 L217.7 365.6 L218.7 365.7 L219.7 365.7 L220.7 365.8 L221.7 365.8 L222.7 365.9 L223.7 365.9 L224.7 365.9 L225.7 366.0 L226.7 366.0 L227.7 366.0 L228.7 366.0 L229.7 366.1 L230.7 366.1 L231.7 366.1 L232.7 366.1 L233.7 366.2 L234.7 366.2 L235.7 366.2 L236.7 366.2 L237.7 366.3 L238.7 366.3 L239.7 366.3 L240.7 366.3 L241.7 366.3 L242.7 366.4 L243.7 366.4 L244.7 366.4 L245.7 366.4 L246.7 366.5 L247.7 366.5 L248.7 366.5 L249.7 366.5 L250.7 366.5 L251.7 366.6 L252.7 366.6 L252.7 366.9 L251.7 366.9 L250.7 366.8 L249.7 366.8 L248.7 366.8 L247.7 366.8 L246.7 366.8 L245.7 366.7 L244.7 366.7 L243.7 366.7 L242.7 366.7 L241.7 366.6 L240.7 366.6 L239.7 366.6 L238.7 366.6 L237.7 366.6 L236.7 366.5 L235.7 366.5 L234.7 366.5 L233.7 366.5 L232.7 366.4 L231.7 366.4 L230.7 366.4 L229.7 366.4 L228.7 366.4 L227.7 366.3 L226.7 366.3 L225.7 366.3 L224.7 366.3 L223.7 366.2 L222.7 366.2 L221.7 366.2 L220.7 366.2 L219.7 366.2 L218.7 366.1 L217.7 366.1 L216.7 366.1 L215.7 366.1 L214.7 366.0 L213.7 366.0 L212.7 366.0 L211.7 366.0 L210.7 366.0 L209.7 365.9 L208.7 365.9 L207.7 365.9 L206.7 365.9 L205.7 365.8 L204.7 365.8 L203.7 365.8 L202.7 365.7 L201.7 365.6 L200.7 365.4 L199.7 365.3 L198.7 365.2 L197.7 365.1 L196.7 365.0 L195.7 364.9 L194.7 364.8 L193.7 364.7 L192.7 364.6 L191.7 364.5 L190.7 364.4 L189.7 364.3 L188.7 364.2 L187.7 364.1 L186.7 364.0 L185.7 363.8 L184.7 363.7 L183.7 363.6 L182.7 363.5 L181.7 363.4 L180.7 363.3 L179.7 363.2 L178.7 363.1 L177.7 363.0 L176.7 362.9 L175.7 362.8 L174.7 362.7 L173.7 362.6 L172.7 362.5 L171.7 362.4 L170.7 362.4 L169.7 362.3 L168.7 362.2 L167.7 362.1 L166.7 362.1 L165.7 362.0 L164.7 361.9 L163.7 361.8 L162.7 361.7 L161.7 361.7 L160.7 361.6 L159.7 361.5 L158.7 361.4 L157.7 361.4 L156.7 361.3 L155.7 361.2 L154.7 361.1 L153.7 361.0 L152.7 361.0 L151.7 360.9 L150.7 360.8 L149.7 360.7 L148.7 360.7 L147.7 360.6 L146.7 360.6 L145.7 360.5 L144.7 360.5 L143.7 360.5 L142.7 360.4 L141.7 360.4 L140.7 360.4 L139.7 360.3 L138.7 360.3 L137.7 360.3 L136.7 360.3 L135.7 360.2 L134.7 360.2 L133.7 360.2 L132.7 360.1 L131.7 360.1 L130.7 360.1 L129.7 360.0 L128.7 360.0 L127.7 360.0 L126.7 360.0 L125.7 359.9 L124.7 359.9 L123.7 359.9 L122.7 359.8 L121.7 359.8 L120.7 359.8 L119.7 359.7 L118.7 359.7 L117.7 359.7 L116.7 359.7 L115.7 359.6 L114.7 359.6 L113.7 359.6 L112.7 359.5 L111.7 359.5 L110.7 359.5 L109.7 359.4 L108.7 359.4 L107.7 359.4 L106.7 359.4 L105.7 359.3 L104.7 359.3 L103.7 359.3 L102.7 359.2 L101.7 359.2 L100.7 359.2 L99.7 359.1 L98.7 359.1 L97.7 359.1 L96.7 359.1 L95.7 359.0 L94.7 359.0 L93.7 359.0 L92.7 359.0 L91.7 359.0 L90.7 359.0 L89.7 359.0 L88.7 359.0 L87.7 359.0 L86.7 359.0 L85.7 359.0 L84.7 359.0 L83.7 359.0 L82.7 359.0 L81.7 359.0 L80.7 358.9 L79.7 358.9 L78.7 358.9 L77.7 358.9 L76.7 358.9 L75.7 358.9 L74.7 358.9 L73.7 358.9 L72.7 358.9 L71.7 358.9 L70.7 358.9 L69.7 358.9 L68.7 358.9 L67.7 358.9 L66.7 358.9 L65.7 358.9 L64.7 358.9 L63.7 358.9 L62.7 358.9 L61.7 358.9 L60.7 358.9 L59.7 358.9 L58.7 358.9 L57.7 358.9 L56.7 358.9 L55.7 358.9 Z" fill="#F69246"/>
<path d="M121.7 359.5 L122.7 359.5 L123.7 359.5 L124.7 359.5 L125.7 359.6 L126.7 359.6 L127.7 359.6 L128.7 359.7 L129.7 359.7 L130.7 359.7 L131.7 359.7 L132.7 359.8 L133.7 359.8 L134.7 359.8 L135.7 359.8 L136.7 359.9 L137.7 359.9 L138.7 359.9 L139.7 360.0 L140.7 360.0 L141.7 360.0 L142.7 360.0 L143.7 360.1 L144.7 360.1 L145.7 360.1 L146.7 360.1 L147.7 360.2 L148.7 360.2 L149.7 360.3 L150.7 360.4 L151.7 360.4 L152.7 360.5 L153.7 360.6 L154.7 360.6 L155.7 360.7 L156.7 360.7 L157.7 360.8 L158.7 360.8 L159.7 360.9 L160.7 360.9 L161.7 360.9 L162.7 360.8 L163.7 360.7 L164.7 360.4 L165.7 360.1 L166.7 359.5 L167.7 358.7 L168.7 357.6 L169.7 356.0 L170.7 353.9 L171.7 351.2 L172.7 347.7 L173.7 343.5 L174.7 338.3 L175.7 332.2 L176.7 325.3 L177.7 317.6 L178.7 313.5 L179.7 316.8 L180.7 320.0 L181.7 323.2 L182.7 326.4 L183.7 329.4 L184.7 332.3 L185.7 335.1 L186.7 337.8 L187.7 340.4 L188.7 342.8 L189.7 345.1 L190.7 347.2 L191.7 349.1 L192.7 350.9 L193.7 352.6 L194.7 354.1 L195.7 355.5 L196.7 356.8 L197.7 358.0 L198.7 359.0 L199.7 359.9 L200.7 360.8 L201.7 361.5 L202.7 362.2 L203.7 362.8 L204.7 363.2 L205.7 363.6 L206.7 364.0 L207.7 364.2 L208.7 364.5 L209.7 364.7 L210.7 364.9 L211.7 365.1 L212.7 365.2 L213.7 365.3 L214.7 365.4 L215.7 365.5 L216.7 365.6 L217.7 365.6 L218.7 365.7 L219.7 365.7 L220.7 365.8 L221.7 365.8 L222.7 365.9 L222.7 366.2 L221.7 366.2 L220.7 366.2 L219.7 366.2 L218.7 366.1 L217.7 366.1 L216.7 366.1 L215.7 366.1 L214.7 366.0 L213.7 366.0 L212.7 366.0 L211.7 366.0 L210.7 366.0 L209.7 365.9 L208.7 365.9 L207.7 365.9 L206.7 365.9 L205.7 365.8 L204.7 365.8 L203.7 365.8 L202.7 365.7 L201.7 365.6 L200.7 365.4 L199.7 365.3 L198.7 365.2 L197.7 365.1 L196.7 365.0 L195.7 364.9 L194.7 364.8 L193.7 364.7 L192.7 364.6 L191.7 364.5 L190.7 364.4 L189.7 364.3 L188.7 364.2 L187.7 364.1 L186.7 364.0 L185.7 363.8 L184.7 363.7 L183.7 363.6 L182.7 363.5 L181.7 363.4 L180.7 363.3 L179.7 363.2 L178.7 363.1 L177.7 363.0 L176.7 362.9 L175.7 362.8 L174.7 362.7 L173.7 362.6 L172.7 362.5 L171.7 362.4 L170.7 362.4 L169.7 362.3 L168.7 362.2 L167.7 362.1 L166.7 362.1 L165.7 362.0 L164.7 361.9 L163.7 361.8 L162.7 361.7 L161.7 361.7 L160.7 361.6 L159.7 361.5 L158.7 361.4 L157.7 361.4 L156.7 361.3 L155.7 361.2 L154.7 361.1 L153.7 361.0 L152.7 361.0 L151.7 360.9 L150.7 360.8 L149.7 360.7 L148.7 360.7 L147.7 360.6 L146.7 360.6 L145.7 360.5 L144.7 360.5 L143.7 360.5 L142.7 360.4 L141.7 360.4 L140.7 360.4 L139.7 360.3 L138.7 360.3 L137.7 360.3 L136.7 360.3 L135.7 360.2 L134.7 360.2 L133.7 360.2 L132.7 360.1 L131.7 360.1 L130.7 360.1 L129.7 360.0 L128.7 360.0 L127.7 360.0 L126.7 360.0 L125.7 359.9 L124.7 359.9 L123.7 359.9 L122.7 359.8 L121.7 359.8 Z" fill="#96B5C0"/>
<path d="M109.7 359.1 L110.7 359.1 L111.7 359.1 L112.7 359.1 L113.7 359.1 L114.7 359.1 L115.7 359.1 L116.7 359.0 L117.7 359.0 L118.7 358.9 L119.7 358.8 L120.7 358.7 L121.7 358.5 L122.7 358.3 L123.7 358.1 L124.7 357.8 L125.7 357.4 L126.7 357.0 L127.7 356.5 L128.7 355.9 L129.7 355.2 L130.7 354.4 L131.7 353.5 L132.7 352.4 L133.7 351.2 L134.7 350.7 L135.7 352.2 L136.7 353.5 L137.7 354.7 L138.7 355.8 L139.7 356.6 L140.7 357.4 L141.7 358.0 L142.7 358.5 L143.7 359.0 L144.7 359.3 L145.7 359.6 L146.7 359.8 L147.7 359.9 L148.7 360.1 L149.7 360.3 L150.7 360.4 L151.7 360.5 L152.7 360.6 L152.7 361.0 L151.7 360.9 L150.7 360.8 L149.7 360.7 L148.7 360.7 L147.7 360.6 L146.7 360.6 L145.7 360.5 L144.7 360.5 L143.7 360.5 L142.7 360.4 L141.7 360.4 L140.7 360.4 L139.7 360.3 L138.7 360.3 L137.7 360.3 L136.7 360.3 L135.7 360.2 L134.7 360.2 L133.7 360.2 L132.7 360.1 L131.7 360.1 L130.7 360.1 L129.7 360.0 L128.7 360.0 L127.7 360.0 L126.7 360.0 L125.7 359.9 L124.7 359.9 L123.7 359.9 L122.7 359.8 L121.7 359.8 L120.7 359.8 L119.7 359.7 L118.7 359.7 L117.7 359.7 L116.7 359.7 L115.7 359.6 L114.7 359.6 L113.7 359.6 L112.7 359.5 L111.7 359.5 L110.7 359.5 L109.7 359.4 Z" fill="#EBA283"/>
<path d="M43.7 358.5 L44.7 358.5 L45.7 358.5 L46.7 358.5 L47.7 358.5 L48.7 358.5 L49.7 358.5 L50.7 358.5 L51.7 358.5 L52.7 358.5 L53.7 358.5 L54.7 358.6 L55.7 358.6 L56.7 358.6 L57.7 358.6 L58.7 358.6 L59.7 358.6 L60.7 358.6 L61.7 358.6 L62.7 358.6 L63.7 358.6 L64.7 358.6 L65.7 358.6 L66.7 358.6 L67.7 358.6 L68.7 358.6 L69.7 358.6 L70.7 358.5 L71.7 358.5 L72.7 358.5 L73.7 358.4 L74.7 358.3 L75.7 358.2 L76.7 358.0 L77.7 357.7 L78.7 357.3 L79.7 356.9 L80.7 356.3 L81.7 355.6 L82.7 354.7 L83.7 353.7 L84.7 352.4 L85.7 351.0 L86.7 349.4 L87.7 347.7 L88.7 345.9 L89.7 344.0 L90.7 342.1 L91.7 340.3 L92.7 338.6 L93.7 337.1 L94.7 335.9 L95.7 335.0 L96.7 334.4 L97.7 334.3 L98.7 334.6 L99.7 335.2 L100.7 336.3 L101.7 337.6 L102.7 339.2 L103.7 340.9 L104.7 342.8 L105.7 344.7 L106.7 346.7 L107.7 348.5 L108.7 350.2 L109.7 351.8 L110.7 353.2 L111.7 354.4 L112.7 355.5 L113.7 356.4 L114.7 357.1 L115.7 357.7 L116.7 358.1 L117.7 358.5 L118.7 358.8 L119.7 359.0 L120.7 359.2 L121.7 359.3 L122.7 359.4 L123.7 359.5 L124.7 359.5 L125.7 359.6 L126.7 359.6 L127.7 359.7 L128.7 359.7 L129.7 359.7 L130.7 359.8 L131.7 359.8 L132.7 359.8 L133.7 359.9 L134.7 359.9 L135.7 359.9 L136.7 360.0 L137.7 360.0 L138.7 360.0 L139.7 360.0 L140.7 360.1 L141.7 360.1 L142.7 360.1 L143.7 360.2 L144.7 360.2 L145.7 360.2 L146.7 360.3 L147.7 360.3 L148.7 360.4 L149.7 360.4 L150.7 360.5 L151.7 360.6 L151.7 360.9 L150.7 360.8 L149.7 360.7 L148.7 360.7 L147.7 360.6 L146.7 360.6 L145.7 360.5 L144.7 360.5 L143.7 360.5 L142.7 360.4 L141.7 360.4 L140.7 360.4 L139.7 360.3 L138.7 360.3 L137.7 360.3 L136.7 360.3 L135.7 360.2 L134.7 360.2 L133.7 360.2 L132.7 360.1 L131.7 360.1 L130.7 360.1 L129.7 360.0 L128.7 360.0 L127.7 360.0 L126.7 360.0 L125.7 359.9 L124.7 359.9 L123.7 359.9 L122.7 359.8 L121.7 359.8 L120.7 359.8 L119.7 359.7 L118.7 359.7 L117.7 359.7 L116.7 359.7 L115.7 359.6 L114.7 359.6 L113.7 359.6 L112.7 359.5 L111.7 359.5 L110.7 359.5 L109.7 359.4 L108.7 359.4 L107.7 359.4 L106.7 359.4 L105.7 359.3 L104.7 359.3 L103.7 359.3 L102.7 359.2 L101.7 359.2 L100.7 359.2 L99.7 359.1 L98.7 359.1 L97.7 359.1 L96.7 359.1 L95.7 359.0 L94.7 359.0 L93.7 359.0 L92.7 359.0 L91.7 359.0 L90.7 359.0 L89.7 359.0 L88.7 359.0 L87.7 359.0 L86.7 359.0 L85.7 359.0 L84.7 359.0 L83.7 359.0 L82.7 359.0 L81.7 359.0 L80.7 358.9 L79.7 358.9 L78.7 358.9 L77.7 358.9 L76.7 358.9 L75.7 358.9 L74.7 358.9 L73.7 358.9 L72.7 358.9 L71.7 358.9 L70.7 358.9 L69.7 358.9 L68.7 358.9 L67.7 358.9 L66.7 358.9 L65.7 358.9 L64.7 358.9 L63.7 358.9 L62.7 358.9 L61.7 358.9 L60.7 358.9 L59.7 358.9 L58.7 358.9 L57.7 358.9 L56.7 358.9 L55.7 358.9 L54.7 358.9 L53.7 358.8 L52.7 358.8 L51.7 358.8 L50.7 358.8 L49.7 358.8 L48.7 358.8 L47.7 358.8 L46.7 358.8 L45.7 358.8 L44.7 358.8 L43.7 358.8 Z" fill="#93CB55"/>
<path d="M40.7 358.8 L41.7 358.8 L42.7 358.8 L43.7 358.8 L44.7 358.8 L45.7 358.8 L46.7 358.8 L47.7 358.8 L48.7 358.8 L49.7 358.8 L50.7 358.8 L51.7 358.8 L52.7 358.8 L53.7 358.8 L54.7 358.9 L55.7 358.9 L56.7 358.9 L57.7 358.9 L58.7 358.9 L59.7 358.9 L60.7 358.9 L61.7 358.9 L62.7 358.9 L63.7 358.9 L64.7 358.9 L65.7 358.9 L66.7 358.9 L67.7 358.9 L68.7 358.9 L69.7 358.9 L70.7 358.9 L71.7 358.9 L72.7 358.9 L73.7 358.9 L74.7 358.9 L75.7 358.9 L76.7 358.9 L77.7 358.9 L78.7 358.9 L79.7 358.9 L80.7 358.9 L81.7 359.0 L82.7 359.0 L83.7 359.0 L84.7 359.0 L85.7 359.0 L86.7 359.0 L87.7 359.0 L88.7 359.0 L89.7 359.0 L90.7 359.0 L91.7 359.0 L92.7 359.0 L93.7 359.0 L94.7 359.0 L95.7 359.0 L96.7 359.1 L97.7 359.1 L98.7 359.1 L99.7 359.1 L100.7 359.2 L101.7 359.2 L102.7 359.2 L103.7 359.3 L104.7 359.3 L105.7 359.3 L106.7 359.4 L107.7 359.4 L108.7 359.4 L109.7 359.4 L110.7 359.5 L111.7 359.5 L112.7 359.5 L113.7 359.6 L114.7 359.6 L115.7 359.6 L116.7 359.7 L117.7 359.7 L118.7 359.7 L119.7 359.7 L120.7 359.8 L121.7 359.8 L122.7 359.8 L123.7 359.9 L124.7 359.9 L125.7 359.9 L126.7 360.0 L127.7 360.0 L128.7 360.0 L129.7 360.0 L130.7 360.1 L131.7 360.1 L132.7 360.1 L133.7 360.2 L134.7 360.2 L135.7 360.2 L136.7 360.3 L137.7 360.3 L138.7 360.3 L139.7 360.3 L140.7 360.4 L141.7 360.4 L142.7 360.4 L143.7 360.5 L144.7 360.5 L145.7 360.5 L146.7 360.6 L147.7 360.6 L148.7 360.7 L149.7 360.7 L150.7 360.8 L151.7 360.9 L152.7 361.0 L153.7 361.0 L154.7 361.1 L155.7 361.2 L156.7 361.3 L157.7 361.4 L158.7 361.4 L159.7 361.5 L160.7 361.6 L161.7 361.7 L162.7 361.7 L163.7 361.8 L164.7 361.9 L165.7 362.0 L166.7 362.1 L167.7 362.1 L168.7 362.2 L169.7 362.3 L170.7 362.4 L171.7 362.4 L172.7 362.5 L173.7 362.6 L174.7 362.7 L175.7 362.8 L176.7 362.9 L177.7 363.0 L178.7 363.1 L179.7 363.2 L180.7 363.3 L181.7 363.4 L182.7 363.5 L183.7 363.6 L184.7 363.7 L185.7 363.8 L186.7 364.0 L187.7 364.1 L188.7 364.2 L189.7 364.3 L190.7 364.4 L191.7 364.5 L192.7 364.6 L193.7 364.7 L194.7 364.8 L195.7 364.9 L196.7 365.0 L197.7 365.1 L198.7 365.2 L199.7 365.3 L200.7 365.4 L201.7 365.6 L202.7 365.7 L203.7 365.8 L204.7 365.8 L205.7 365.8 L206.7 365.9 L207.7 365.9 L208.7 365.9 L209.7 365.9 L210.7 366.0 L211.7 366.0 L212.7 366.0 L213.7 366.0 L214.7 366.0 L215.7 366.1 L216.7 366.1 L217.7 366.1 L218.7 366.1 L219.7 366.2 L220.7 366.2 L221.7 366.2 L222.7 366.2 L223.7 366.2 L224.7 366.3 L225.7 366.3 L226.7 366.3 L227.7 366.3 L228.7 366.4 L229.7 366.4 L230.7 366.4 L231.7 366.4 L232.7 366.4 L233.7 366.5 L234.7 366.5 L235.7 366.5 L236.7 366.5 L237.7 366.6 L238.7 366.6 L239.7 366.6 L240.7 366.6 L241.7 366.6 L242.7 366.7 L243.7 366.7 L244.7 366.7 L245.7 366.7 L246.7 366.8 L247.7 366.8 L248.7 366.8 L249.7 366.8 L250.7 366.8 L251.7 366.9 L252.7 366.9" fill="none" stroke="#8A8A8A" stroke-width="1.3"/>
<path d="M40.7 358.8 L41.7 358.6 L42.7 358.6 L43.7 358.9 L44.7 359.0 L45.7 358.8 L46.7 358.9 L47.7 359.0 L48.7 358.8 L49.7 358.6 L50.7 358.7 L51.7 358.8 L52.7 358.7 L53.7 358.7 L54.7 359.0 L55.7 359.1 L56.7 358.9 L57.7 358.9 L58.7 359.0 L59.7 358.8 L60.7 358.6 L61.7 358.7 L62.7 358.9 L63.7 358.8 L64.7 358.8 L65.7 359.1 L66.7 359.1 L67.7 358.8 L68.7 358.8 L69.7 358.9 L70.7 358.7 L71.7 358.5 L72.7 358.7 L73.7 358.8 L74.7 358.6 L75.7 358.4 L76.7 358.4 L77.7 358.1 L78.7 357.4 L79.7 356.9 L80.7 356.5 L81.7 355.7 L82.7 354.6 L83.7 353.7 L84.7 352.7 L85.7 351.2 L86.7 349.4 L87.7 347.7 L88.7 345.8 L89.7 343.6 L90.7 341.5 L91.7 339.8 L92.7 338.0 L93.7 336.2 L94.7 334.9 L95.7 334.1 L96.7 333.2 L97.7 332.7 L98.7 332.8 L99.7 333.2 L100.7 333.6 L101.7 334.5 L102.7 335.8 L103.7 336.9 L104.7 337.8 L105.7 338.8 L106.7 339.8 L107.7 340.2 L108.7 340.3 L109.7 340.4 L110.7 340.3 L111.7 339.6 L112.7 338.9 L113.7 338.2 L114.7 337.3 L115.7 336.0 L116.7 334.8 L117.7 333.9 L118.7 332.8 L119.7 331.7 L120.7 331.2 L121.7 331.0 L122.7 330.8 L123.7 330.9 L124.7 331.4 L125.7 332.0 L126.7 332.3 L127.7 332.8 L128.7 333.6 L129.7 334.1 L130.7 334.4 L131.7 334.9 L132.7 335.5 L133.7 335.7 L134.7 335.6 L135.7 335.7 L136.7 335.5 L137.7 334.9 L138.7 334.2 L139.7 333.6 L140.7 332.4 L141.7 330.8 L142.7 329.1 L143.7 327.3 L144.7 324.9 L145.7 322.0 L146.7 319.2 L147.7 316.2 L148.7 312.8 L149.7 309.4 L150.7 306.3 L151.7 303.0 L152.7 299.7 L153.7 296.7 L154.7 294.0 L155.7 291.2 L156.7 288.5 L157.7 286.3 L158.7 284.5 L159.7 282.6 L160.7 281.1 L161.7 280.2 L162.7 279.6 L163.7 278.8 L164.7 278.4 L165.7 278.1 L166.7 277.5 L167.7 276.6 L168.7 275.8 L169.7 275.1 L170.7 273.9 L171.7 272.7 L172.7 271.9 L173.7 271.1 L174.7 269.8 L175.7 268.4 L176.7 266.5 L177.7 263.7 L178.7 260.0 L179.7 256.0 L180.7 251.7 L181.7 246.7 L182.7 241.8 L183.7 237.6 L184.7 233.2 L185.7 230.1 L186.7 229.7 L187.7 233.2 L188.7 240.3 L189.7 247.6 L190.7 255.2 L191.7 264.1 L192.7 273.7 L193.7 283.9 L194.7 294.5 L195.7 304.8 L196.7 313.9 L197.7 322.2 L198.7 329.8 L199.7 336.2 L200.7 341.5 L201.7 346.2 L202.7 350.5 L203.7 353.8 L204.7 356.3 L205.7 358.5 L206.7 360.3 L207.7 361.4 L208.7 362.2 L209.7 363.2 L210.7 363.7 L211.7 364.0 L212.7 364.3 L213.7 364.9 L214.7 365.2 L215.7 365.2 L216.7 365.4 L217.7 365.6 L218.7 365.5 L219.7 365.4 L220.7 365.6 L221.7 365.8 L222.7 365.8 L223.7 365.8 L224.7 366.2 L225.7 366.2 L226.7 366.0 L227.7 366.0 L228.7 366.2 L229.7 366.0 L230.7 365.9 L231.7 366.1 L232.7 366.4 L233.7 366.3 L234.7 366.3 L235.7 366.6 L236.7 366.6 L237.7 366.3 L238.7 366.3 L239.7 366.5 L240.7 366.4 L241.7 366.3 L242.7 366.5 L243.7 366.8 L244.7 366.7 L245.7 366.6 L246.7 366.8 L247.7 366.8 L248.7 366.6 L249.7 366.5 L250.7 366.7 L251.7 366.8 L252.7 366.7" fill="none" stroke="#111" stroke-width="1.35" stroke-dasharray="6.5 2.6" stroke-linejoin="round"/>
<path d="M40.7 358.5 L41.7 358.5 L42.7 358.5 L43.7 358.5 L44.7 358.5 L45.7 358.5 L46.7 358.5 L47.7 358.5 L48.7 358.5 L49.7 358.5 L50.7 358.5 L51.7 358.5 L52.7 358.5 L53.7 358.5 L54.7 358.5 L55.7 358.5 L56.7 358.5 L57.7 358.6 L58.7 358.6 L59.7 358.6 L60.7 358.6 L61.7 358.6 L62.7 358.6 L63.7 358.6 L64.7 358.6 L65.7 358.6 L66.7 358.6 L67.7 358.6 L68.7 358.6 L69.7 358.5 L70.7 358.5 L71.7 358.5 L72.7 358.4 L73.7 358.4 L74.7 358.3 L75.7 358.1 L76.7 357.9 L77.7 357.6 L78.7 357.3 L79.7 356.8 L80.7 356.2 L81.7 355.4 L82.7 354.5 L83.7 353.4 L84.7 352.2 L85.7 350.7 L86.7 349.1 L87.7 347.3 L88.7 345.4 L89.7 343.4 L90.7 341.5 L91.7 339.5 L92.7 337.7 L93.7 336.0 L94.7 334.6 L95.7 333.5 L96.7 332.7 L97.7 332.3 L98.7 332.3 L99.7 332.5 L100.7 333.1 L101.7 333.9 L102.7 334.8 L103.7 335.8 L104.7 336.9 L105.7 337.8 L106.7 338.6 L107.7 339.2 L108.7 339.5 L109.7 339.6 L110.7 339.4 L111.7 338.9 L112.7 338.2 L113.7 337.2 L114.7 336.2 L115.7 335.0 L116.7 333.9 L117.7 332.8 L118.7 331.9 L119.7 331.1 L120.7 330.5 L121.7 330.1 L122.7 330.0 L123.7 330.1 L124.7 330.4 L125.7 330.8 L126.7 331.4 L127.7 332.0 L128.7 332.6 L129.7 333.2 L130.7 333.8 L131.7 334.2 L132.7 334.5 L133.7 334.7 L134.7 334.8 L135.7 334.7 L136.7 334.4 L137.7 334.0 L138.7 333.4 L139.7 332.7 L140.7 331.7 L141.7 330.4 L142.7 328.7 L143.7 326.8 L144.7 324.5 L145.7 321.9 L146.7 319.1 L147.7 316.0 L148.7 312.9 L149.7 309.6 L150.7 306.3 L151.7 303.0 L152.7 299.8 L153.7 296.7 L154.7 293.8 L155.7 291.0 L156.7 288.5 L157.7 286.3 L158.7 284.3 L159.7 282.7 L160.7 281.3 L161.7 280.3 L162.7 279.5 L163.7 278.8 L164.7 278.3 L165.7 277.8 L166.7 277.2 L167.7 276.6 L168.7 275.8 L169.7 275.0 L170.7 274.0 L171.7 272.9 L172.7 271.6 L173.7 270.1 L174.7 268.3 L175.7 266.1 L176.7 263.4 L177.7 260.0 L178.7 256.0 L179.7 251.5 L180.7 246.6 L181.7 241.8 L182.7 237.3 L183.7 233.5 L184.7 230.8 L185.7 229.4 L186.7 229.7 L187.7 231.6 L188.7 234.8 L189.7 239.3 L190.7 245.1 L191.7 252.3 L192.7 260.5 L193.7 269.8 L194.7 279.9 L195.7 290.3 L196.7 300.5 L197.7 310.2 L198.7 319.1 L199.7 326.9 L200.7 333.8 L201.7 339.7 L202.7 344.7 L203.7 348.9 L204.7 352.4 L205.7 355.2 L206.7 357.5 L207.7 359.3 L208.7 360.8 L209.7 361.9 L210.7 362.8 L211.7 363.5 L212.7 364.0 L213.7 364.4 L214.7 364.7 L215.7 364.9 L216.7 365.1 L217.7 365.2 L218.7 365.4 L219.7 365.4 L220.7 365.5 L221.7 365.6 L222.7 365.6 L223.7 365.7 L224.7 365.7 L225.7 365.8 L226.7 365.8 L227.7 365.8 L228.7 365.9 L229.7 365.9 L230.7 365.9 L231.7 366.0 L232.7 366.0 L233.7 366.0 L234.7 366.1 L235.7 366.1 L236.7 366.1 L237.7 366.1 L238.7 366.2 L239.7 366.2 L240.7 366.2 L241.7 366.2 L242.7 366.3 L243.7 366.3 L244.7 366.3 L245.7 366.4 L246.7 366.4 L247.7 366.4 L248.7 366.4 L249.7 366.5 L250.7 366.5 L251.7 366.5 L252.7 366.5" fill="none" stroke="#EE1C25" stroke-width="1.55" stroke-linejoin="round"/>
<text x="53.7" y="54.0" fill="#111" stroke="#111" stroke-width="0.24" font-size="12.0" text-anchor="start" >(a)</text>
<text x="53.7" y="81.5" fill="#111" stroke="#111" stroke-width="0.24" font-size="12.0" text-anchor="start" >T9</text>
<text x="53.7" y="237.3" fill="#111" stroke="#111" stroke-width="0.24" font-size="12.0" text-anchor="start" >Y3 Blank</text>
<text x="203.4" y="59.6" fill="#5FBBEA" stroke="#5FBBEA" stroke-width="0.06" font-size="12.2" text-anchor="start" >284.4</text>
<text transform="translate(203.4 75.0) scale(0.945 1)" fill="#5FBBEA" stroke="#5FBBEA" stroke-width="0.06" font-size="12.2" text-anchor="start" >C—C</text>
<path d="M199.7 61.4 L186.2 65.4" stroke="#5FBBEA" stroke-width="1.15" fill="none"/>
<text x="128.5" y="107.4" fill="#F0812F" stroke="#F0812F" stroke-width="0.06" font-size="12.2" text-anchor="start" >285.9</text>
<text transform="translate(128.5 123.2) scale(0.940 1)" fill="#F0812F" stroke="#F0812F" stroke-width="0.06" font-size="12.2" text-anchor="start" >C—O</text>
<path d="M154.0 123.7 L161.1 132.9" stroke="#F0812F" stroke-width="1.15" fill="none"/>
<text x="59.1" y="153.7" fill="#7FC241" stroke="#7FC241" stroke-width="0.06" font-size="12.2" text-anchor="start" >290.1</text>
<text x="59.1" y="168.7" fill="#7FC241" stroke="#7FC241" stroke-width="0.06" font-size="12.2" text-anchor="start" >CO<tspan dy="4.2" font-size="8.0">3</tspan><tspan dy="-4.2" font-size="0.1"> </tspan><tspan dy="-4.3" font-size="6.4">2−</tspan><tspan dy="4.3" font-size="0.1"> </tspan></text>
<path d="M87.0 165.2 L95.6 178.0" stroke="#7FC241" stroke-width="1.15" fill="none"/><path d="M95.6 178.0 L91.2 175.0 L94.5 172.7 Z" fill="#7FC241"/>
<text x="111.8" y="149.8" fill="#A476C4" stroke="#A476C4" stroke-width="0.06" font-size="12.2" text-anchor="start" >288.2</text>
<text transform="translate(109.8 165.0) scale(0.930 1)" fill="#A476C4" stroke="#A476C4" stroke-width="0.06" font-size="12.2" text-anchor="start" >COOR</text>
<path d="M129.8 170.0 L129.8 184.8" stroke="#A476C4" stroke-width="1.15" fill="none"/>
<text x="206.9" y="250.4" fill="#5FBBEA" stroke="#5FBBEA" stroke-width="0.06" font-size="12.2" text-anchor="start" >284.3</text>
<text transform="translate(206.9 265.7) scale(0.945 1)" fill="#5FBBEA" stroke="#5FBBEA" stroke-width="0.06" font-size="12.2" text-anchor="start" >C—C</text>
<path d="M203.7 251.0 L187.9 259.5" stroke="#5FBBEA" stroke-width="1.15" fill="none"/>
<text x="125.5" y="256.8" fill="#F0812F" stroke="#F0812F" stroke-width="0.06" font-size="12.2" text-anchor="start" >285.9</text>
<text transform="translate(125.5 271.8) scale(0.940 1)" fill="#F0812F" stroke="#F0812F" stroke-width="0.06" font-size="12.2" text-anchor="start" >C—O</text>
<path d="M152.2 272.2 L163.0 280.5" stroke="#F0812F" stroke-width="1.15" fill="none"/>
<text x="60.1" y="306.3" fill="#7FC241" stroke="#7FC241" stroke-width="0.06" font-size="12.2" text-anchor="start" >290.2</text>
<text x="60.3" y="321.1" fill="#7FC241" stroke="#7FC241" stroke-width="0.06" font-size="12.2" text-anchor="start" >CO<tspan dy="4.2" font-size="8.0">3</tspan><tspan dy="-4.2" font-size="0.1"> </tspan><tspan dy="-4.3" font-size="6.4">2−</tspan><tspan dy="4.3" font-size="0.1"> </tspan></text>
<path d="M86.4 320.9 L95.9 333.8" stroke="#7FC241" stroke-width="1.15" fill="none"/>
<text x="112.0" y="301.7" fill="#C9A5D0" stroke="#C9A5D0" stroke-width="0.06" font-size="12.2" text-anchor="start" >288.6</text>
<text transform="translate(110.2 316.8) scale(0.925 1)" fill="#C9A5D0" stroke="#C9A5D0" stroke-width="0.06" font-size="12.2" text-anchor="start" >COOR</text>
<path d="M122.2 319.9 L122.2 333.8" stroke="#C9A5D0" stroke-width="1.15" fill="none"/>
<path d="M293.5 391.0 V36" stroke="#111" stroke-width="1.1" fill="none"/>
<path d="M293.5 32.7 Q295.7 40 298.5 46.6 Q295.9 43 293.5 40.9 Q291.1 43 288.5 46.6 Q291.3 40 293.5 32.7 Z" fill="#111"/>
<path d="M293.0 390.9 H506.0" stroke="#111" stroke-width="1.25" fill="none"/>
<path d="M293.5 391.0 v-3.3" stroke="#111" stroke-width="1"/>
<text x="293.5" y="408.6" fill="#111" stroke="#111" stroke-width="0.24" font-size="11.5" text-anchor="middle" >536</text>
<path d="M314.7 391.0 v-1.6" stroke="#111" stroke-width="1"/>
<path d="M335.9 391.0 v-3.3" stroke="#111" stroke-width="1"/>
<text x="335.9" y="408.6" fill="#111" stroke="#111" stroke-width="0.24" font-size="11.5" text-anchor="middle" >534</text>
<path d="M357.1 391.0 v-1.6" stroke="#111" stroke-width="1"/>
<path d="M378.3 391.0 v-3.3" stroke="#111" stroke-width="1"/>
<text x="378.3" y="408.6" fill="#111" stroke="#111" stroke-width="0.24" font-size="11.5" text-anchor="middle" >532</text>
<path d="M399.5 391.0 v-1.6" stroke="#111" stroke-width="1"/>
<path d="M420.7 391.0 v-3.3" stroke="#111" stroke-width="1"/>
<text x="420.7" y="408.6" fill="#111" stroke="#111" stroke-width="0.24" font-size="11.5" text-anchor="middle" >530</text>
<path d="M441.9 391.0 v-1.6" stroke="#111" stroke-width="1"/>
<path d="M463.1 391.0 v-3.3" stroke="#111" stroke-width="1"/>
<text x="463.1" y="408.6" fill="#111" stroke="#111" stroke-width="0.24" font-size="11.5" text-anchor="middle" >528</text>
<path d="M484.3 391.0 v-1.6" stroke="#111" stroke-width="1"/>
<path d="M505.5 391.0 v-3.3" stroke="#111" stroke-width="1"/>
<text x="505.5" y="408.6" fill="#111" stroke="#111" stroke-width="0.24" font-size="11.5" text-anchor="middle" >526</text>
<text x="290.0" y="395.3" fill="#111" stroke="#111" stroke-width="0.24" font-size="11.5" text-anchor="end" font-style="italic">O</text>
<text transform="translate(399.2 425.3) scale(1.015 1)" fill="#111" stroke="#111" stroke-width="0.24" font-size="11.5" text-anchor="middle" >Binding energy / eV</text>
<text transform="translate(270.7 23.5) scale(1.056 1)" fill="#111" stroke="#111" stroke-width="0.24" font-size="11.5" text-anchor="start" >Intensity / a.u.</text>
<path d="M293.5 186.6 L294.5 186.6 L295.5 186.6 L296.5 186.6 L297.5 186.5 L298.5 186.5 L299.5 186.5 L300.5 186.5 L301.5 186.4 L302.5 186.4 L303.5 186.4 L304.5 186.3 L305.5 186.3 L306.5 186.3 L307.5 186.2 L308.5 186.2 L309.5 186.1 L310.5 186.0 L311.5 186.0 L312.5 185.9 L313.5 185.8 L314.5 185.7 L315.5 185.6 L316.5 185.5 L317.5 185.4 L318.5 185.2 L319.5 185.0 L320.5 184.9 L321.5 184.7 L322.5 184.4 L323.5 184.2 L324.5 183.9 L325.5 183.6 L326.5 183.2 L327.5 182.8 L328.5 182.4 L329.5 181.9 L330.5 181.3 L331.5 180.7 L332.5 180.0 L333.5 179.3 L334.5 178.4 L335.5 177.5 L336.5 176.5 L337.5 175.4 L338.5 174.2 L339.5 172.9 L340.5 171.5 L341.5 170.0 L342.5 168.4 L343.5 166.6 L344.5 164.7 L345.5 162.7 L346.5 160.6 L347.5 158.3 L348.5 155.9 L349.5 153.4 L350.5 150.7 L351.5 147.9 L352.5 145.1 L353.5 142.1 L354.5 138.9 L355.5 135.8 L356.5 132.5 L357.5 129.1 L358.5 125.8 L359.5 122.3 L360.5 118.9 L361.5 115.4 L362.5 112.0 L363.5 108.6 L364.5 105.3 L365.5 102.1 L366.5 98.9 L367.5 96.0 L368.5 93.1 L369.5 90.5 L370.5 88.1 L371.5 85.9 L372.5 84.0 L373.5 82.4 L374.5 81.0 L375.5 80.0 L376.5 79.4 L377.5 79.0 L378.5 79.1 L379.5 79.5 L380.5 80.4 L381.5 81.7 L382.5 83.4 L383.5 85.4 L384.5 87.8 L385.5 90.5 L386.5 93.4 L387.5 96.6 L388.5 99.9 L389.5 103.4 L390.5 107.0 L391.5 110.6 L392.5 114.3 L393.5 118.1 L394.5 121.8 L395.5 125.4 L396.5 129.1 L397.5 132.6 L398.5 136.1 L399.5 139.4 L400.5 142.7 L401.5 145.8 L402.5 148.8 L403.5 151.6 L404.5 154.3 L405.5 156.9 L406.5 159.3 L407.5 161.6 L408.5 163.7 L409.5 165.7 L410.5 167.6 L411.5 169.3 L412.5 170.9 L413.5 172.4 L414.5 173.7 L415.5 174.9 L416.5 176.1 L417.5 177.1 L418.5 178.1 L419.5 178.9 L420.5 179.7 L421.5 180.4 L422.5 181.1 L423.5 181.7 L424.5 182.2 L425.5 182.7 L426.5 183.1 L427.5 183.5 L428.5 183.9 L429.5 184.2 L430.5 184.5 L431.5 184.8 L432.5 185.0 L433.5 185.2 L434.5 185.5 L435.5 185.7 L436.5 185.8 L437.5 186.0 L438.5 186.2 L439.5 186.3 L440.5 186.4 L441.5 186.6 L442.5 186.7 L443.5 186.8 L444.5 186.9 L445.5 187.0 L446.5 187.1 L447.5 187.2 L448.5 187.3 L449.5 187.4 L450.5 187.5 L451.5 187.6 L452.5 187.6 L453.5 187.7 L454.5 187.8 L455.5 187.9 L456.5 187.9 L457.5 188.0 L458.5 188.1 L459.5 188.1 L460.5 188.2 L461.5 188.2 L462.5 188.3 L463.5 188.3 L464.5 188.4 L465.5 188.5 L466.5 188.5 L467.5 188.6 L468.5 188.6 L469.5 188.7 L470.5 188.7 L471.5 188.7 L472.5 188.8 L473.5 188.8 L474.5 188.9 L475.5 188.9 L476.5 189.0 L477.5 189.0 L478.5 189.0 L479.5 189.1 L480.5 189.1 L481.5 189.2 L482.5 189.2 L483.5 189.2 L484.5 189.3 L485.5 189.3 L486.5 189.3 L487.5 189.4 L488.5 189.4 L489.5 189.4 L490.5 189.5 L491.5 189.5 L492.5 189.5 L493.5 189.5 L494.5 189.6 L495.5 189.6 L496.5 189.6 L497.5 189.7 L498.5 189.7 L499.5 189.7 L500.5 189.7 L501.5 189.8 L502.5 189.8 L503.5 189.8 L504.5 189.8 L505.5 189.9 L505.5 191.1 L504.5 191.1 L503.5 191.1 L502.5 191.1 L501.5 191.1 L500.5 191.0 L499.5 191.0 L498.5 191.0 L497.5 191.0 L496.5 191.0 L495.5 191.0 L494.5 191.0 L493.5 191.0 L492.5 191.0 L491.5 190.9 L490.5 190.9 L489.5 190.9 L488.5 190.9 L487.5 190.9 L486.5 190.9 L485.5 190.9 L484.5 190.9 L483.5 190.9 L482.5 190.9 L481.5 190.8 L480.5 190.8 L479.5 190.8 L478.5 190.8 L477.5 190.8 L476.5 190.8 L475.5 190.8 L474.5 190.8 L473.5 190.8 L472.5 190.7 L471.5 190.7 L470.5 190.7 L469.5 190.7 L468.5 190.7 L467.5 190.7 L466.5 190.7 L465.5 190.7 L464.5 190.7 L463.5 190.7 L462.5 190.6 L461.5 190.6 L460.5 190.6 L459.5 190.6 L458.5 190.6 L457.5 190.6 L456.5 190.6 L455.5 190.6 L454.5 190.6 L453.5 190.5 L452.5 190.5 L451.5 190.5 L450.5 190.5 L449.5 190.5 L448.5 190.5 L447.5 190.5 L446.5 190.5 L445.5 190.5 L444.5 190.5 L443.5 190.4 L442.5 190.4 L441.5 190.4 L440.5 190.4 L439.5 190.4 L438.5 190.4 L437.5 190.4 L436.5 190.4 L435.5 190.4 L434.5 190.3 L433.5 190.3 L432.5 190.3 L431.5 190.3 L430.5 190.3 L429.5 190.3 L428.5 190.3 L427.5 190.3 L426.5 190.2 L425.5 190.2 L424.5 190.2 L423.5 190.2 L422.5 190.2 L421.5 190.2 L420.5 190.2 L419.5 190.1 L418.5 190.1 L417.5 190.1 L416.5 190.1 L415.5 190.1 L414.5 190.1 L413.5 190.1 L412.5 190.0 L411.5 190.0 L410.5 190.0 L409.5 190.0 L408.5 190.0 L407.5 190.0 L406.5 190.0 L405.5 189.9 L404.5 189.9 L403.5 189.9 L402.5 189.9 L401.5 189.9 L400.5 189.9 L399.5 189.9 L398.5 189.8 L397.5 189.8 L396.5 189.8 L395.5 189.8 L394.5 189.8 L393.5 189.8 L392.5 189.8 L391.5 189.7 L390.5 189.7 L389.5 189.7 L388.5 189.7 L387.5 189.7 L386.5 189.7 L385.5 189.7 L384.5 189.6 L383.5 189.6 L382.5 189.6 L381.5 189.6 L380.5 189.6 L379.5 189.6 L378.5 189.5 L377.5 189.5 L376.5 189.5 L375.5 189.5 L374.5 189.5 L373.5 189.5 L372.5 189.5 L371.5 189.4 L370.5 189.4 L369.5 189.4 L368.5 189.4 L367.5 189.4 L366.5 189.4 L365.5 189.4 L364.5 189.3 L363.5 189.3 L362.5 189.3 L361.5 189.3 L360.5 189.3 L359.5 189.3 L358.5 189.3 L357.5 189.2 L356.5 189.2 L355.5 189.2 L354.5 189.2 L353.5 189.2 L352.5 189.2 L351.5 189.2 L350.5 189.1 L349.5 189.1 L348.5 189.1 L347.5 189.1 L346.5 189.1 L345.5 189.1 L344.5 189.1 L343.5 189.0 L342.5 189.0 L341.5 189.0 L340.5 189.0 L339.5 189.0 L338.5 189.0 L337.5 188.9 L336.5 188.9 L335.5 188.9 L334.5 188.9 L333.5 188.9 L332.5 188.9 L331.5 188.9 L330.5 188.8 L329.5 188.8 L328.5 188.8 L327.5 188.8 L326.5 188.8 L325.5 188.8 L324.5 188.8 L323.5 188.7 L322.5 188.7 L321.5 188.7 L320.5 188.7 L319.5 188.7 L318.5 188.7 L317.5 188.7 L316.5 188.6 L315.5 188.6 L314.5 188.6 L313.5 188.6 L312.5 188.6 L311.5 188.6 L310.5 188.6 L309.5 188.5 L308.5 188.5 L307.5 188.5 L306.5 188.5 L305.5 188.5 L304.5 188.5 L303.5 188.5 L302.5 188.4 L301.5 188.4 L300.5 188.4 L299.5 188.4 L298.5 188.4 L297.5 188.4 L296.5 188.4 L295.5 188.3 L294.5 188.3 L293.5 188.3 Z" fill="#73C4EC"/>
<path d="M293.5 187.8 L294.5 187.8 L295.5 187.8 L296.5 187.7 L297.5 187.7 L298.5 187.6 L299.5 187.6 L300.5 187.5 L301.5 187.4 L302.5 187.3 L303.5 187.2 L304.5 187.1 L305.5 187.0 L306.5 186.8 L307.5 186.6 L308.5 186.4 L309.5 186.2 L310.5 185.9 L311.5 185.7 L312.5 185.4 L313.5 185.0 L314.5 184.6 L315.5 184.2 L316.5 183.8 L317.5 183.3 L318.5 182.8 L319.5 182.2 L320.5 181.6 L321.5 181.0 L322.5 180.3 L323.5 179.5 L324.5 178.7 L325.5 177.9 L326.5 177.1 L327.5 176.2 L328.5 175.2 L329.5 174.2 L330.5 173.2 L331.5 172.2 L332.5 171.1 L333.5 170.0 L334.5 168.9 L335.5 167.7 L336.5 166.6 L337.5 165.4 L338.5 164.3 L339.5 163.2 L340.5 162.0 L341.5 160.9 L342.5 159.9 L343.5 158.8 L344.5 157.9 L345.5 156.9 L346.5 156.1 L347.5 155.2 L348.5 154.5 L349.5 153.8 L350.5 153.2 L351.5 152.7 L352.5 152.3 L353.5 152.0 L354.5 151.8 L355.5 151.6 L356.5 151.6 L357.5 151.7 L358.5 151.8 L359.5 152.1 L360.5 152.5 L361.5 152.9 L362.5 153.5 L363.5 154.2 L364.5 154.9 L365.5 155.7 L366.5 156.6 L367.5 157.5 L368.5 158.5 L369.5 159.6 L370.5 160.7 L371.5 161.8 L372.5 163.0 L373.5 164.2 L374.5 165.4 L375.5 166.6 L376.5 167.8 L377.5 169.0 L378.5 170.2 L379.5 171.3 L380.5 172.5 L381.5 173.6 L382.5 174.7 L383.5 175.7 L384.5 176.7 L385.5 177.7 L386.5 178.6 L387.5 179.5 L388.5 180.4 L389.5 181.1 L390.5 181.9 L391.5 182.6 L392.5 183.3 L393.5 183.9 L394.5 184.4 L395.5 185.0 L396.5 185.4 L397.5 185.9 L398.5 186.3 L399.5 186.7 L400.5 187.0 L401.5 187.3 L402.5 187.6 L403.5 187.9 L404.5 188.1 L405.5 188.3 L406.5 188.5 L407.5 188.7 L408.5 188.8 L409.5 188.9 L410.5 189.1 L411.5 189.2 L412.5 189.3 L413.5 189.3 L414.5 189.4 L415.5 189.5 L416.5 189.5 L417.5 189.6 L418.5 189.7 L419.5 189.7 L420.5 189.7 L421.5 189.8 L422.5 189.8 L423.5 189.8 L424.5 189.9 L425.5 189.9 L426.5 189.9 L427.5 189.9 L428.5 189.9 L429.5 190.0 L430.5 190.0 L431.5 190.0 L432.5 190.0 L433.5 190.0 L434.5 190.0 L435.5 190.1 L436.5 190.1 L437.5 190.1 L438.5 190.1 L439.5 190.1 L440.5 190.1 L441.5 190.1 L442.5 190.1 L443.5 190.1 L444.5 190.2 L445.5 190.2 L446.5 190.2 L447.5 190.2 L448.5 190.2 L449.5 190.2 L450.5 190.2 L451.5 190.2 L452.5 190.2 L453.5 190.2 L454.5 190.3 L455.5 190.3 L456.5 190.3 L457.5 190.3 L458.5 190.3 L459.5 190.3 L460.5 190.3 L461.5 190.3 L462.5 190.3 L463.5 190.4 L464.5 190.4 L465.5 190.4 L466.5 190.4 L467.5 190.4 L468.5 190.4 L469.5 190.4 L470.5 190.4 L471.5 190.4 L472.5 190.4 L473.5 190.5 L474.5 190.5 L475.5 190.5 L476.5 190.5 L477.5 190.5 L478.5 190.5 L479.5 190.5 L480.5 190.5 L481.5 190.5 L482.5 190.6 L483.5 190.6 L484.5 190.6 L485.5 190.6 L486.5 190.6 L487.5 190.6 L488.5 190.6 L489.5 190.6 L490.5 190.6 L491.5 190.6 L492.5 190.7 L492.5 191.0 L491.5 190.9 L490.5 190.9 L489.5 190.9 L488.5 190.9 L487.5 190.9 L486.5 190.9 L485.5 190.9 L484.5 190.9 L483.5 190.9 L482.5 190.9 L481.5 190.8 L480.5 190.8 L479.5 190.8 L478.5 190.8 L477.5 190.8 L476.5 190.8 L475.5 190.8 L474.5 190.8 L473.5 190.8 L472.5 190.7 L471.5 190.7 L470.5 190.7 L469.5 190.7 L468.5 190.7 L467.5 190.7 L466.5 190.7 L465.5 190.7 L464.5 190.7 L463.5 190.7 L462.5 190.6 L461.5 190.6 L460.5 190.6 L459.5 190.6 L458.5 190.6 L457.5 190.6 L456.5 190.6 L455.5 190.6 L454.5 190.6 L453.5 190.5 L452.5 190.5 L451.5 190.5 L450.5 190.5 L449.5 190.5 L448.5 190.5 L447.5 190.5 L446.5 190.5 L445.5 190.5 L444.5 190.5 L443.5 190.4 L442.5 190.4 L441.5 190.4 L440.5 190.4 L439.5 190.4 L438.5 190.4 L437.5 190.4 L436.5 190.4 L435.5 190.4 L434.5 190.3 L433.5 190.3 L432.5 190.3 L431.5 190.3 L430.5 190.3 L429.5 190.3 L428.5 190.3 L427.5 190.3 L426.5 190.2 L425.5 190.2 L424.5 190.2 L423.5 190.2 L422.5 190.2 L421.5 190.2 L420.5 190.2 L419.5 190.1 L418.5 190.1 L417.5 190.1 L416.5 190.1 L415.5 190.1 L414.5 190.1 L413.5 190.1 L412.5 190.0 L411.5 190.0 L410.5 190.0 L409.5 190.0 L408.5 190.0 L407.5 190.0 L406.5 190.0 L405.5 189.9 L404.5 189.9 L403.5 189.9 L402.5 189.9 L401.5 189.9 L400.5 189.9 L399.5 189.9 L398.5 189.8 L397.5 189.8 L396.5 189.8 L395.5 189.8 L394.5 189.8 L393.5 189.8 L392.5 189.8 L391.5 189.7 L390.5 189.7 L389.5 189.7 L388.5 189.7 L387.5 189.7 L386.5 189.7 L385.5 189.7 L384.5 189.6 L383.5 189.6 L382.5 189.6 L381.5 189.6 L380.5 189.6 L379.5 189.6 L378.5 189.5 L377.5 189.5 L376.5 189.5 L375.5 189.5 L374.5 189.5 L373.5 189.5 L372.5 189.5 L371.5 189.4 L370.5 189.4 L369.5 189.4 L368.5 189.4 L367.5 189.4 L366.5 189.4 L365.5 189.4 L364.5 189.3 L363.5 189.3 L362.5 189.3 L361.5 189.3 L360.5 189.3 L359.5 189.3 L358.5 189.3 L357.5 189.2 L356.5 189.2 L355.5 189.2 L354.5 189.2 L353.5 189.2 L352.5 189.2 L351.5 189.2 L350.5 189.1 L349.5 189.1 L348.5 189.1 L347.5 189.1 L346.5 189.1 L345.5 189.1 L344.5 189.1 L343.5 189.0 L342.5 189.0 L341.5 189.0 L340.5 189.0 L339.5 189.0 L338.5 189.0 L337.5 188.9 L336.5 188.9 L335.5 188.9 L334.5 188.9 L333.5 188.9 L332.5 188.9 L331.5 188.9 L330.5 188.8 L329.5 188.8 L328.5 188.8 L327.5 188.8 L326.5 188.8 L325.5 188.8 L324.5 188.8 L323.5 188.7 L322.5 188.7 L321.5 188.7 L320.5 188.7 L319.5 188.7 L318.5 188.7 L317.5 188.7 L316.5 188.6 L315.5 188.6 L314.5 188.6 L313.5 188.6 L312.5 188.6 L311.5 188.6 L310.5 188.6 L309.5 188.5 L308.5 188.5 L307.5 188.5 L306.5 188.5 L305.5 188.5 L304.5 188.5 L303.5 188.5 L302.5 188.4 L301.5 188.4 L300.5 188.4 L299.5 188.4 L298.5 188.4 L297.5 188.4 L296.5 188.4 L295.5 188.3 L294.5 188.3 L293.5 188.3 Z" fill="#A8D46A"/>
<path d="M293.5 187.8 L294.5 187.8 L295.5 187.8 L296.5 187.7 L297.5 187.7 L298.5 187.6 L299.5 187.6 L300.5 187.5 L301.5 187.4 L302.5 187.3 L303.5 187.2 L304.5 187.1 L305.5 187.0 L306.5 186.8 L307.5 186.6 L308.5 186.4 L309.5 186.2 L310.5 186.0 L311.5 186.0 L312.5 185.9 L313.5 185.8 L314.5 185.7 L315.5 185.6 L316.5 185.5 L317.5 185.4 L318.5 185.2 L319.5 185.0 L320.5 184.9 L321.5 184.7 L322.5 184.4 L323.5 184.2 L324.5 183.9 L325.5 183.6 L326.5 183.2 L327.5 182.8 L328.5 182.4 L329.5 181.9 L330.5 181.3 L331.5 180.7 L332.5 180.0 L333.5 179.3 L334.5 178.4 L335.5 177.5 L336.5 176.5 L337.5 175.4 L338.5 174.2 L339.5 172.9 L340.5 171.5 L341.5 170.0 L342.5 168.4 L343.5 166.6 L344.5 164.7 L345.5 162.7 L346.5 160.6 L347.5 158.3 L348.5 155.9 L349.5 153.8 L350.5 153.2 L351.5 152.7 L352.5 152.3 L353.5 152.0 L354.5 151.8 L355.5 151.6 L356.5 151.6 L357.5 151.7 L358.5 151.8 L359.5 152.1 L360.5 152.5 L361.5 152.9 L362.5 153.5 L363.5 154.2 L364.5 154.9 L365.5 155.7 L366.5 156.6 L367.5 157.5 L368.5 158.5 L369.5 159.6 L370.5 160.7 L371.5 161.8 L372.5 163.0 L373.5 164.2 L374.5 165.4 L375.5 166.6 L376.5 167.8 L377.5 169.0 L378.5 170.2 L379.5 171.3 L380.5 172.5 L381.5 173.6 L382.5 174.7 L383.5 175.7 L384.5 176.7 L385.5 177.7 L386.5 178.6 L387.5 179.5 L388.5 180.4 L389.5 181.1 L390.5 181.9 L391.5 182.6 L392.5 183.3 L393.5 183.9 L394.5 184.4 L395.5 185.0 L396.5 185.4 L397.5 185.9 L398.5 186.3 L399.5 186.7 L400.5 187.0 L401.5 187.3 L402.5 187.6 L403.5 187.9 L404.5 188.1 L405.5 188.3 L406.5 188.5 L407.5 188.7 L408.5 188.8 L409.5 188.9 L410.5 189.1 L411.5 189.2 L412.5 189.3 L413.5 189.3 L414.5 189.4 L415.5 189.5 L416.5 189.5 L417.5 189.6 L418.5 189.7 L419.5 189.7 L420.5 189.7 L421.5 189.8 L422.5 189.8 L423.5 189.8 L424.5 189.9 L425.5 189.9 L425.5 190.2 L424.5 190.2 L423.5 190.2 L422.5 190.2 L421.5 190.2 L420.5 190.2 L419.5 190.1 L418.5 190.1 L417.5 190.1 L416.5 190.1 L415.5 190.1 L414.5 190.1 L413.5 190.1 L412.5 190.0 L411.5 190.0 L410.5 190.0 L409.5 190.0 L408.5 190.0 L407.5 190.0 L406.5 190.0 L405.5 189.9 L404.5 189.9 L403.5 189.9 L402.5 189.9 L401.5 189.9 L400.5 189.9 L399.5 189.9 L398.5 189.8 L397.5 189.8 L396.5 189.8 L395.5 189.8 L394.5 189.8 L393.5 189.8 L392.5 189.8 L391.5 189.7 L390.5 189.7 L389.5 189.7 L388.5 189.7 L387.5 189.7 L386.5 189.7 L385.5 189.7 L384.5 189.6 L383.5 189.6 L382.5 189.6 L381.5 189.6 L380.5 189.6 L379.5 189.6 L378.5 189.5 L377.5 189.5 L376.5 189.5 L375.5 189.5 L374.5 189.5 L373.5 189.5 L372.5 189.5 L371.5 189.4 L370.5 189.4 L369.5 189.4 L368.5 189.4 L367.5 189.4 L366.5 189.4 L365.5 189.4 L364.5 189.3 L363.5 189.3 L362.5 189.3 L361.5 189.3 L360.5 189.3 L359.5 189.3 L358.5 189.3 L357.5 189.2 L356.5 189.2 L355.5 189.2 L354.5 189.2 L353.5 189.2 L352.5 189.2 L351.5 189.2 L350.5 189.1 L349.5 189.1 L348.5 189.1 L347.5 189.1 L346.5 189.1 L345.5 189.1 L344.5 189.1 L343.5 189.0 L342.5 189.0 L341.5 189.0 L340.5 189.0 L339.5 189.0 L338.5 189.0 L337.5 188.9 L336.5 188.9 L335.5 188.9 L334.5 188.9 L333.5 188.9 L332.5 188.9 L331.5 188.9 L330.5 188.8 L329.5 188.8 L328.5 188.8 L327.5 188.8 L326.5 188.8 L325.5 188.8 L324.5 188.8 L323.5 188.7 L322.5 188.7 L321.5 188.7 L320.5 188.7 L319.5 188.7 L318.5 188.7 L317.5 188.7 L316.5 188.6 L315.5 188.6 L314.5 188.6 L313.5 188.6 L312.5 188.6 L311.5 188.6 L310.5 188.6 L309.5 188.5 L308.5 188.5 L307.5 188.5 L306.5 188.5 L305.5 188.5 L304.5 188.5 L303.5 188.5 L302.5 188.4 L301.5 188.4 L300.5 188.4 L299.5 188.4 L298.5 188.4 L297.5 188.4 L296.5 188.4 L295.5 188.3 L294.5 188.3 L293.5 188.3 Z" fill="#91C878"/>
<path d="M395.5 189.5 L396.5 189.5 L397.5 189.5 L398.5 189.5 L399.5 189.6 L400.5 189.6 L401.5 189.6 L402.5 189.6 L403.5 189.6 L404.5 189.6 L405.5 189.6 L406.5 189.7 L407.5 189.7 L408.5 189.7 L409.5 189.7 L410.5 189.7 L411.5 189.7 L412.5 189.7 L413.5 189.8 L414.5 189.8 L415.5 189.8 L416.5 189.8 L417.5 189.8 L418.5 189.8 L419.5 189.8 L420.5 189.8 L421.5 189.8 L422.5 189.8 L423.5 189.8 L424.5 189.7 L425.5 189.6 L426.5 189.5 L427.5 189.4 L428.5 189.2 L429.5 188.9 L430.5 188.6 L431.5 188.3 L432.5 187.9 L433.5 187.4 L434.5 187.0 L435.5 186.5 L436.5 186.1 L437.5 185.8 L438.5 185.5 L439.5 185.3 L440.5 185.2 L441.5 185.2 L442.5 185.4 L443.5 185.7 L444.5 186.1 L445.5 186.5 L446.5 187.0 L447.5 187.6 L448.5 188.0 L449.5 188.5 L450.5 188.9 L451.5 189.2 L452.5 189.5 L453.5 189.7 L454.5 189.9 L455.5 190.0 L456.5 190.1 L457.5 190.2 L458.5 190.2 L459.5 190.3 L460.5 190.3 L461.5 190.3 L462.5 190.3 L463.5 190.3 L464.5 190.4 L465.5 190.4 L466.5 190.4 L467.5 190.4 L468.5 190.4 L469.5 190.4 L470.5 190.4 L471.5 190.4 L472.5 190.4 L473.5 190.5 L474.5 190.5 L475.5 190.5 L476.5 190.5 L477.5 190.5 L478.5 190.5 L479.5 190.5 L480.5 190.5 L481.5 190.5 L482.5 190.6 L483.5 190.6 L484.5 190.6 L485.5 190.6 L485.5 190.9 L484.5 190.9 L483.5 190.9 L482.5 190.9 L481.5 190.8 L480.5 190.8 L479.5 190.8 L478.5 190.8 L477.5 190.8 L476.5 190.8 L475.5 190.8 L474.5 190.8 L473.5 190.8 L472.5 190.7 L471.5 190.7 L470.5 190.7 L469.5 190.7 L468.5 190.7 L467.5 190.7 L466.5 190.7 L465.5 190.7 L464.5 190.7 L463.5 190.7 L462.5 190.6 L461.5 190.6 L460.5 190.6 L459.5 190.6 L458.5 190.6 L457.5 190.6 L456.5 190.6 L455.5 190.6 L454.5 190.6 L453.5 190.5 L452.5 190.5 L451.5 190.5 L450.5 190.5 L449.5 190.5 L448.5 190.5 L447.5 190.5 L446.5 190.5 L445.5 190.5 L444.5 190.5 L443.5 190.4 L442.5 190.4 L441.5 190.4 L440.5 190.4 L439.5 190.4 L438.5 190.4 L437.5 190.4 L436.5 190.4 L435.5 190.4 L434.5 190.3 L433.5 190.3 L432.5 190.3 L431.5 190.3 L430.5 190.3 L429.5 190.3 L428.5 190.3 L427.5 190.3 L426.5 190.2 L425.5 190.2 L424.5 190.2 L423.5 190.2 L422.5 190.2 L421.5 190.2 L420.5 190.2 L419.5 190.1 L418.5 190.1 L417.5 190.1 L416.5 190.1 L415.5 190.1 L414.5 190.1 L413.5 190.1 L412.5 190.0 L411.5 190.0 L410.5 190.0 L409.5 190.0 L408.5 190.0 L407.5 190.0 L406.5 190.0 L405.5 189.9 L404.5 189.9 L403.5 189.9 L402.5 189.9 L401.5 189.9 L400.5 189.9 L399.5 189.9 L398.5 189.8 L397.5 189.8 L396.5 189.8 L395.5 189.8 Z" fill="#F58A3C"/>
<path d="M293.5 188.3 L294.5 188.3 L295.5 188.3 L296.5 188.4 L297.5 188.4 L298.5 188.4 L299.5 188.4 L300.5 188.4 L301.5 188.4 L302.5 188.4 L303.5 188.5 L304.5 188.5 L305.5 188.5 L306.5 188.5 L307.5 188.5 L308.5 188.5 L309.5 188.5 L310.5 188.6 L311.5 188.6 L312.5 188.6 L313.5 188.6 L314.5 188.6 L315.5 188.6 L316.5 188.6 L317.5 188.7 L318.5 188.7 L319.5 188.7 L320.5 188.7 L321.5 188.7 L322.5 188.7 L323.5 188.7 L324.5 188.8 L325.5 188.8 L326.5 188.8 L327.5 188.8 L328.5 188.8 L329.5 188.8 L330.5 188.8 L331.5 188.9 L332.5 188.9 L333.5 188.9 L334.5 188.9 L335.5 188.9 L336.5 188.9 L337.5 188.9 L338.5 189.0 L339.5 189.0 L340.5 189.0 L341.5 189.0 L342.5 189.0 L343.5 189.0 L344.5 189.1 L345.5 189.1 L346.5 189.1 L347.5 189.1 L348.5 189.1 L349.5 189.1 L350.5 189.1 L351.5 189.2 L352.5 189.2 L353.5 189.2 L354.5 189.2 L355.5 189.2 L356.5 189.2 L357.5 189.2 L358.5 189.3 L359.5 189.3 L360.5 189.3 L361.5 189.3 L362.5 189.3 L363.5 189.3 L364.5 189.3 L365.5 189.4 L366.5 189.4 L367.5 189.4 L368.5 189.4 L369.5 189.4 L370.5 189.4 L371.5 189.4 L372.5 189.5 L373.5 189.5 L374.5 189.5 L375.5 189.5 L376.5 189.5 L377.5 189.5 L378.5 189.5 L379.5 189.6 L380.5 189.6 L381.5 189.6 L382.5 189.6 L383.5 189.6 L384.5 189.6 L385.5 189.7 L386.5 189.7 L387.5 189.7 L388.5 189.7 L389.5 189.7 L390.5 189.7 L391.5 189.7 L392.5 189.8 L393.5 189.8 L394.5 189.8 L395.5 189.8 L396.5 189.8 L397.5 189.8 L398.5 189.8 L399.5 189.9 L400.5 189.9 L401.5 189.9 L402.5 189.9 L403.5 189.9 L404.5 189.9 L405.5 189.9 L406.5 190.0 L407.5 190.0 L408.5 190.0 L409.5 190.0 L410.5 190.0 L411.5 190.0 L412.5 190.0 L413.5 190.1 L414.5 190.1 L415.5 190.1 L416.5 190.1 L417.5 190.1 L418.5 190.1 L419.5 190.1 L420.5 190.2 L421.5 190.2 L422.5 190.2 L423.5 190.2 L424.5 190.2 L425.5 190.2 L426.5 190.2 L427.5 190.3 L428.5 190.3 L429.5 190.3 L430.5 190.3 L431.5 190.3 L432.5 190.3 L433.5 190.3 L434.5 190.3 L435.5 190.4 L436.5 190.4 L437.5 190.4 L438.5 190.4 L439.5 190.4 L440.5 190.4 L441.5 190.4 L442.5 190.4 L443.5 190.4 L444.5 190.5 L445.5 190.5 L446.5 190.5 L447.5 190.5 L448.5 190.5 L449.5 190.5 L450.5 190.5 L451.5 190.5 L452.5 190.5 L453.5 190.5 L454.5 190.6 L455.5 190.6 L456.5 190.6 L457.5 190.6 L458.5 190.6 L459.5 190.6 L460.5 190.6 L461.5 190.6 L462.5 190.6 L463.5 190.7 L464.5 190.7 L465.5 190.7 L466.5 190.7 L467.5 190.7 L468.5 190.7 L469.5 190.7 L470.5 190.7 L471.5 190.7 L472.5 190.7 L473.5 190.8 L474.5 190.8 L475.5 190.8 L476.5 190.8 L477.5 190.8 L478.5 190.8 L479.5 190.8 L480.5 190.8 L481.5 190.8 L482.5 190.9 L483.5 190.9 L484.5 190.9 L485.5 190.9 L486.5 190.9 L487.5 190.9 L488.5 190.9 L489.5 190.9 L490.5 190.9 L491.5 190.9 L492.5 191.0 L493.5 191.0 L494.5 191.0 L495.5 191.0 L496.5 191.0 L497.5 191.0 L498.5 191.0 L499.5 191.0 L500.5 191.0 L501.5 191.1 L502.5 191.1 L503.5 191.1 L504.5 191.1 L505.5 191.1" fill="none" stroke="#8A8A8A" stroke-width="1.3"/>
<path d="M293.5 186.9 L294.5 186.9 L295.5 186.7 L296.5 186.4 L297.5 186.4 L298.5 186.5 L299.5 186.3 L300.5 186.2 L301.5 186.3 L302.5 186.2 L303.5 185.8 L304.5 185.5 L305.5 185.4 L306.5 185.1 L307.5 184.7 L308.5 184.5 L309.5 184.5 L310.5 184.1 L311.5 183.7 L312.5 183.4 L313.5 183.1 L314.5 182.3 L315.5 181.6 L316.5 181.2 L317.5 180.6 L318.5 179.8 L319.5 179.2 L320.5 178.7 L321.5 177.8 L322.5 176.7 L323.5 175.8 L324.5 174.8 L325.5 173.4 L326.5 172.0 L327.5 170.9 L328.5 169.6 L329.5 168.0 L330.5 166.6 L331.5 165.2 L332.5 163.4 L333.5 161.3 L334.5 159.4 L335.5 157.4 L336.5 155.1 L337.5 152.7 L338.5 150.7 L339.5 148.4 L340.5 145.8 L341.5 143.2 L342.5 140.8 L343.5 137.9 L344.5 134.7 L345.5 131.8 L346.5 128.9 L347.5 125.6 L348.5 122.4 L349.5 119.4 L350.5 116.4 L351.5 112.9 L352.5 109.5 L353.5 106.3 L354.5 102.8 L355.5 99.1 L356.5 95.7 L357.5 92.6 L358.5 89.2 L359.5 85.8 L360.5 82.9 L361.5 79.9 L362.5 76.7 L363.5 73.7 L364.5 71.0 L365.5 68.4 L366.5 65.6 L367.5 63.4 L368.5 61.6 L369.5 59.8 L370.5 58.1 L371.5 56.9 L372.5 56.0 L373.5 55.0 L374.5 54.4 L375.5 54.4 L376.5 54.6 L377.5 54.9 L378.5 55.9 L379.5 57.4 L380.5 59.1 L381.5 60.9 L382.5 63.5 L383.5 66.4 L384.5 69.3 L385.5 72.5 L386.5 76.3 L387.5 80.3 L388.5 84.2 L389.5 88.5 L390.5 93.1 L391.5 97.5 L392.5 101.6 L393.5 106.1 L394.5 110.5 L395.5 114.6 L396.5 118.7 L397.5 123.0 L398.5 127.2 L399.5 131.0 L400.5 135.0 L401.5 139.4 L402.5 143.3 L403.5 146.6 L404.5 150.1 L405.5 153.5 L406.5 156.4 L407.5 159.1 L408.5 162.0 L409.5 164.7 L410.5 166.8 L411.5 168.6 L412.5 170.5 L413.5 172.0 L414.5 173.2 L415.5 174.4 L416.5 175.8 L417.5 176.8 L418.5 177.7 L419.5 178.8 L420.5 179.8 L421.5 180.4 L422.5 180.9 L423.5 181.5 L424.5 182.0 L425.5 182.0 L426.5 182.2 L427.5 182.6 L428.5 182.8 L429.5 182.6 L430.5 182.7 L431.5 182.8 L432.5 182.4 L433.5 182.0 L434.5 181.7 L435.5 181.5 L436.5 180.9 L437.5 180.7 L438.5 180.8 L439.5 180.8 L440.5 180.7 L441.5 181.0 L442.5 181.6 L443.5 181.8 L444.5 182.1 L445.5 182.8 L446.5 183.6 L447.5 184.1 L448.5 184.7 L449.5 185.7 L450.5 186.3 L451.5 186.7 L452.5 187.1 L453.5 187.6 L454.5 187.8 L455.5 187.8 L456.5 188.1 L457.5 188.4 L458.5 188.5 L459.5 188.6 L460.5 189.0 L461.5 189.2 L462.5 189.1 L463.5 189.1 L464.5 189.3 L465.5 189.2 L466.5 189.1 L467.5 189.2 L468.5 189.6 L469.5 189.5 L470.5 189.5 L471.5 189.7 L472.5 189.8 L473.5 189.5 L474.5 189.4 L475.5 189.5 L476.5 189.5 L477.5 189.3 L478.5 189.4 L479.5 189.7 L480.5 189.6 L481.5 189.5 L482.5 189.7 L483.5 189.8 L484.5 189.6 L485.5 189.4 L486.5 189.7 L487.5 189.7 L488.5 189.6 L489.5 189.8 L490.5 190.1 L491.5 190.1 L492.5 189.9 L493.5 190.0 L494.5 190.1 L495.5 189.8 L496.5 189.7 L497.5 190.0 L498.5 190.1 L499.5 190.0 L500.5 190.2 L501.5 190.4 L502.5 190.4 L503.5 190.1 L504.5 190.2 L505.5 190.3" fill="none" stroke="#111" stroke-width="1.35" stroke-dasharray="6.5 2.6" stroke-linejoin="round"/>
<path d="M293.5 186.3 L294.5 186.2 L295.5 186.1 L296.5 186.1 L297.5 186.0 L298.5 185.9 L299.5 185.7 L300.5 185.6 L301.5 185.5 L302.5 185.3 L303.5 185.1 L304.5 184.9 L305.5 184.7 L306.5 184.5 L307.5 184.2 L308.5 183.9 L309.5 183.6 L310.5 183.2 L311.5 182.9 L312.5 182.4 L313.5 181.9 L314.5 181.4 L315.5 180.9 L316.5 180.2 L317.5 179.6 L318.5 178.9 L319.5 178.1 L320.5 177.2 L321.5 176.3 L322.5 175.3 L323.5 174.3 L324.5 173.1 L325.5 171.9 L326.5 170.6 L327.5 169.2 L328.5 167.8 L329.5 166.2 L330.5 164.6 L331.5 162.8 L332.5 161.0 L333.5 159.1 L334.5 157.1 L335.5 154.9 L336.5 152.7 L337.5 150.4 L338.5 148.0 L339.5 145.5 L340.5 142.9 L341.5 140.2 L342.5 137.4 L343.5 134.6 L344.5 131.6 L345.5 128.6 L346.5 125.5 L347.5 122.4 L348.5 119.2 L349.5 115.9 L350.5 112.6 L351.5 109.2 L352.5 105.9 L353.5 102.5 L354.5 99.1 L355.5 95.7 L356.5 92.4 L357.5 89.0 L358.5 85.8 L359.5 82.6 L360.5 79.5 L361.5 76.4 L362.5 73.5 L363.5 70.8 L364.5 68.2 L365.5 65.7 L366.5 63.4 L367.5 61.4 L368.5 59.6 L369.5 58.0 L370.5 56.6 L371.5 55.6 L372.5 54.9 L373.5 54.4 L374.5 54.3 L375.5 54.5 L376.5 55.0 L377.5 55.9 L378.5 57.1 L379.5 58.8 L380.5 60.8 L381.5 63.3 L382.5 66.1 L383.5 69.2 L384.5 72.6 L385.5 76.3 L386.5 80.2 L387.5 84.3 L388.5 88.5 L389.5 92.8 L390.5 97.2 L391.5 101.6 L392.5 106.0 L393.5 110.4 L394.5 114.7 L395.5 118.9 L396.5 123.1 L397.5 127.1 L398.5 131.0 L399.5 134.8 L400.5 138.5 L401.5 141.9 L402.5 145.2 L403.5 148.4 L404.5 151.4 L405.5 154.2 L406.5 156.8 L407.5 159.3 L408.5 161.6 L409.5 163.8 L410.5 165.8 L411.5 167.7 L412.5 169.4 L413.5 170.9 L414.5 172.4 L415.5 173.7 L416.5 174.9 L417.5 176.0 L418.5 177.0 L419.5 177.9 L420.5 178.7 L421.5 179.4 L422.5 180.0 L423.5 180.5 L424.5 181.0 L425.5 181.3 L426.5 181.6 L427.5 181.8 L428.5 181.9 L429.5 181.9 L430.5 181.8 L431.5 181.6 L432.5 181.4 L433.5 181.1 L434.5 180.8 L435.5 180.5 L436.5 180.2 L437.5 180.0 L438.5 179.9 L439.5 179.8 L440.5 179.9 L441.5 180.1 L442.5 180.4 L443.5 180.8 L444.5 181.4 L445.5 182.0 L446.5 182.7 L447.5 183.4 L448.5 184.0 L449.5 184.6 L450.5 185.2 L451.5 185.7 L452.5 186.2 L453.5 186.5 L454.5 186.8 L455.5 187.1 L456.5 187.3 L457.5 187.5 L458.5 187.7 L459.5 187.8 L460.5 187.9 L461.5 188.0 L462.5 188.1 L463.5 188.2 L464.5 188.3 L465.5 188.4 L466.5 188.4 L467.5 188.5 L468.5 188.6 L469.5 188.6 L470.5 188.7 L471.5 188.7 L472.5 188.8 L473.5 188.8 L474.5 188.9 L475.5 188.9 L476.5 189.0 L477.5 189.0 L478.5 189.0 L479.5 189.1 L480.5 189.1 L481.5 189.1 L482.5 189.2 L483.5 189.2 L484.5 189.3 L485.5 189.3 L486.5 189.3 L487.5 189.4 L488.5 189.4 L489.5 189.4 L490.5 189.5 L491.5 189.5 L492.5 189.5 L493.5 189.5 L494.5 189.6 L495.5 189.6 L496.5 189.6 L497.5 189.7 L498.5 189.7 L499.5 189.7 L500.5 189.7 L501.5 189.8 L502.5 189.8 L503.5 189.8 L504.5 189.8 L505.5 189.9" fill="none" stroke="#EE1C25" stroke-width="1.55" stroke-linejoin="round"/>
<path d="M293.5 362.1 L294.5 362.1 L295.5 362.1 L296.5 362.0 L297.5 362.0 L298.5 361.9 L299.5 361.9 L300.5 361.8 L301.5 361.7 L302.5 361.6 L303.5 361.5 L304.5 361.4 L305.5 361.2 L306.5 361.0 L307.5 360.8 L308.5 360.6 L309.5 360.3 L310.5 360.1 L311.5 359.7 L312.5 359.4 L313.5 359.0 L314.5 358.6 L315.5 358.1 L316.5 357.6 L317.5 357.0 L318.5 356.4 L319.5 355.7 L320.5 355.0 L321.5 354.2 L322.5 353.3 L323.5 352.4 L324.5 351.4 L325.5 350.3 L326.5 349.1 L327.5 347.9 L328.5 346.5 L329.5 345.1 L330.5 343.6 L331.5 342.0 L332.5 340.3 L333.5 338.5 L334.5 336.6 L335.5 334.6 L336.5 332.6 L337.5 330.4 L338.5 328.2 L339.5 325.8 L340.5 323.4 L341.5 320.9 L342.5 318.3 L343.5 315.6 L344.5 312.9 L345.5 310.1 L346.5 307.2 L347.5 304.3 L348.5 301.4 L349.5 298.4 L350.5 295.4 L351.5 292.4 L352.5 289.4 L353.5 286.4 L354.5 283.5 L355.5 280.6 L356.5 277.7 L357.5 274.9 L358.5 272.2 L359.5 269.6 L360.5 267.0 L361.5 264.7 L362.5 262.4 L363.5 260.3 L364.5 258.3 L365.5 256.5 L366.5 254.9 L367.5 253.5 L368.5 252.3 L369.5 251.4 L370.5 250.6 L371.5 250.1 L372.5 249.8 L373.5 249.7 L374.5 249.9 L375.5 250.3 L376.5 251.0 L377.5 251.9 L378.5 253.0 L379.5 254.4 L380.5 256.0 L381.5 257.8 L382.5 259.7 L383.5 261.9 L384.5 264.2 L385.5 266.7 L386.5 269.3 L387.5 272.0 L388.5 274.8 L389.5 277.7 L390.5 280.7 L391.5 283.8 L392.5 286.9 L393.5 290.0 L394.5 293.2 L395.5 296.3 L396.5 299.5 L397.5 302.6 L398.5 305.7 L399.5 308.8 L400.5 311.8 L401.5 314.7 L402.5 317.6 L403.5 320.4 L404.5 323.1 L405.5 325.7 L406.5 328.3 L407.5 330.8 L408.5 333.2 L409.5 335.4 L410.5 337.6 L411.5 339.7 L412.5 341.7 L413.5 343.6 L414.5 345.4 L415.5 347.1 L416.5 348.7 L417.5 350.2 L418.5 351.7 L419.5 353.0 L420.5 354.3 L421.5 355.5 L422.5 356.5 L423.5 357.6 L424.5 358.5 L425.5 359.4 L426.5 360.2 L427.5 361.0 L428.5 361.7 L429.5 362.3 L430.5 362.9 L431.5 363.5 L432.5 364.0 L433.5 364.5 L434.5 364.9 L435.5 365.3 L436.5 365.6 L437.5 366.0 L438.5 366.3 L439.5 366.5 L440.5 366.8 L441.5 367.0 L442.5 367.2 L443.5 367.4 L444.5 367.6 L445.5 367.8 L446.5 368.0 L447.5 368.1 L448.5 368.2 L449.5 368.4 L450.5 368.5 L451.5 368.6 L452.5 368.7 L453.5 368.8 L454.5 368.9 L455.5 369.0 L456.5 369.0 L457.5 369.1 L458.5 369.2 L459.5 369.3 L460.5 369.3 L461.5 369.4 L462.5 369.4 L463.5 369.5 L464.5 369.6 L465.5 369.6 L466.5 369.7 L467.5 369.7 L468.5 369.8 L469.5 369.8 L470.5 369.9 L471.5 369.9 L472.5 370.0 L473.5 370.0 L474.5 370.1 L475.5 370.1 L476.5 370.2 L477.5 370.2 L478.5 370.3 L479.5 370.3 L480.5 370.3 L481.5 370.4 L482.5 370.4 L483.5 370.5 L484.5 370.5 L485.5 370.6 L486.5 370.6 L487.5 370.6 L488.5 370.7 L489.5 370.7 L490.5 370.8 L491.5 370.8 L492.5 370.8 L493.5 370.9 L494.5 370.9 L495.5 370.9 L496.5 371.0 L497.5 371.0 L498.5 371.1 L499.5 371.1 L500.5 371.1 L501.5 371.2 L502.5 371.2 L503.5 371.2 L504.5 371.3 L505.5 371.3 L505.5 372.3 L504.5 372.3 L503.5 372.2 L502.5 372.2 L501.5 372.2 L500.5 372.2 L499.5 372.1 L498.5 372.1 L497.5 372.1 L496.5 372.1 L495.5 372.0 L494.5 372.0 L493.5 372.0 L492.5 372.0 L491.5 371.9 L490.5 371.9 L489.5 371.9 L488.5 371.9 L487.5 371.8 L486.5 371.8 L485.5 371.8 L484.5 371.8 L483.5 371.7 L482.5 371.7 L481.5 371.7 L480.5 371.7 L479.5 371.7 L478.5 371.6 L477.5 371.6 L476.5 371.6 L475.5 371.6 L474.5 371.5 L473.5 371.5 L472.5 371.5 L471.5 371.5 L470.5 371.4 L469.5 371.4 L468.5 371.4 L467.5 371.4 L466.5 371.3 L465.5 371.3 L464.5 371.3 L463.5 371.3 L462.5 371.2 L461.5 371.2 L460.5 371.2 L459.5 371.2 L458.5 371.1 L457.5 371.1 L456.5 371.1 L455.5 371.1 L454.5 371.0 L453.5 371.0 L452.5 371.0 L451.5 371.0 L450.5 370.9 L449.5 370.9 L448.5 370.9 L447.5 370.9 L446.5 370.8 L445.5 370.8 L444.5 370.8 L443.5 370.8 L442.5 370.7 L441.5 370.7 L440.5 370.7 L439.5 370.7 L438.5 370.6 L437.5 370.6 L436.5 370.6 L435.5 370.6 L434.5 370.5 L433.5 370.5 L432.5 370.5 L431.5 370.5 L430.5 370.4 L429.5 370.4 L428.5 370.4 L427.5 370.4 L426.5 370.3 L425.5 370.3 L424.5 370.3 L423.5 370.3 L422.5 370.3 L421.5 370.2 L420.5 370.2 L419.5 370.2 L418.5 370.2 L417.5 370.1 L416.5 370.1 L415.5 370.1 L414.5 370.1 L413.5 370.0 L412.5 370.0 L411.5 370.0 L410.5 370.0 L409.5 369.9 L408.5 369.9 L407.5 369.9 L406.5 369.9 L405.5 369.8 L404.5 369.8 L403.5 369.8 L402.5 369.8 L401.5 369.7 L400.5 369.7 L399.5 369.7 L398.5 369.6 L397.5 369.6 L396.5 369.5 L395.5 369.5 L394.5 369.4 L393.5 369.4 L392.5 369.3 L391.5 369.3 L390.5 369.2 L389.5 369.2 L388.5 369.1 L387.5 369.0 L386.5 369.0 L385.5 368.9 L384.5 368.9 L383.5 368.8 L382.5 368.8 L381.5 368.7 L380.5 368.7 L379.5 368.6 L378.5 368.6 L377.5 368.5 L376.5 368.5 L375.5 368.4 L374.5 368.4 L373.5 368.3 L372.5 368.3 L371.5 368.2 L370.5 368.2 L369.5 368.1 L368.5 368.1 L367.5 368.0 L366.5 367.9 L365.5 367.9 L364.5 367.8 L363.5 367.8 L362.5 367.7 L361.5 367.7 L360.5 367.6 L359.5 367.6 L358.5 367.5 L357.5 367.5 L356.5 367.4 L355.5 367.4 L354.5 367.3 L353.5 367.3 L352.5 367.2 L351.5 367.2 L350.5 367.1 L349.5 367.1 L348.5 367.0 L347.5 367.0 L346.5 366.9 L345.5 366.8 L344.5 366.8 L343.5 366.7 L342.5 366.7 L341.5 366.6 L340.5 366.6 L339.5 366.5 L338.5 366.5 L337.5 366.4 L336.5 366.4 L335.5 366.3 L334.5 366.3 L333.5 366.2 L332.5 366.2 L331.5 366.1 L330.5 366.1 L329.5 366.0 L328.5 366.0 L327.5 365.9 L326.5 365.9 L325.5 365.8 L324.5 365.7 L323.5 365.7 L322.5 365.6 L321.5 365.6 L320.5 365.5 L319.5 365.5 L318.5 365.4 L317.5 365.4 L316.5 365.3 L315.5 365.3 L314.5 365.2 L313.5 365.2 L312.5 365.1 L311.5 365.1 L310.5 365.0 L309.5 365.0 L308.5 364.9 L307.5 364.9 L306.5 364.8 L305.5 364.8 L304.5 364.7 L303.5 364.6 L302.5 364.6 L301.5 364.5 L300.5 364.5 L299.5 364.4 L298.5 364.4 L297.5 364.3 L296.5 364.3 L295.5 364.2 L294.5 364.2 L293.5 364.1 Z" fill="#8BD1F1"/>
<path d="M293.5 363.3 L294.5 363.3 L295.5 363.3 L296.5 363.3 L297.5 363.3 L298.5 363.3 L299.5 363.2 L300.5 363.2 L301.5 363.1 L302.5 363.1 L303.5 363.0 L304.5 362.9 L305.5 362.7 L306.5 362.6 L307.5 362.4 L308.5 362.2 L309.5 362.0 L310.5 361.8 L311.5 361.5 L312.5 361.1 L313.5 360.8 L314.5 360.4 L315.5 360.0 L316.5 359.5 L317.5 359.0 L318.5 358.4 L319.5 357.8 L320.5 357.2 L321.5 356.5 L322.5 355.7 L323.5 354.9 L324.5 354.1 L325.5 353.3 L326.5 352.4 L327.5 351.4 L328.5 350.5 L329.5 349.5 L330.5 348.4 L331.5 347.4 L332.5 346.4 L333.5 345.3 L334.5 344.3 L335.5 343.3 L336.5 342.2 L337.5 341.3 L338.5 340.3 L339.5 339.4 L340.5 338.5 L341.5 337.8 L342.5 337.0 L343.5 336.4 L344.5 335.8 L345.5 335.4 L346.5 335.0 L347.5 334.7 L348.5 334.5 L349.5 334.5 L350.5 334.5 L351.5 334.7 L352.5 335.0 L353.5 335.4 L354.5 335.8 L355.5 336.4 L356.5 337.1 L357.5 337.9 L358.5 338.7 L359.5 339.7 L360.5 340.7 L361.5 341.7 L362.5 342.8 L363.5 343.9 L364.5 345.1 L365.5 346.3 L366.5 347.5 L367.5 348.7 L368.5 349.9 L369.5 351.1 L370.5 352.3 L371.5 353.4 L372.5 354.5 L373.5 355.6 L374.5 356.6 L375.5 357.6 L376.5 358.6 L377.5 359.5 L378.5 360.4 L379.5 361.2 L380.5 361.9 L381.5 362.6 L382.5 363.3 L383.5 363.9 L384.5 364.5 L385.5 365.0 L386.5 365.5 L387.5 365.9 L388.5 366.3 L389.5 366.7 L390.5 367.0 L391.5 367.3 L392.5 367.6 L393.5 367.8 L394.5 368.1 L395.5 368.3 L396.5 368.5 L397.5 368.6 L398.5 368.8 L399.5 368.9 L400.5 369.0 L401.5 369.1 L402.5 369.2 L403.5 369.3 L404.5 369.3 L405.5 369.4 L406.5 369.4 L407.5 369.5 L408.5 369.5 L409.5 369.6 L410.5 369.6 L411.5 369.6 L412.5 369.7 L413.5 369.7 L414.5 369.7 L415.5 369.8 L416.5 369.8 L417.5 369.8 L418.5 369.8 L419.5 369.9 L420.5 369.9 L421.5 369.9 L422.5 369.9 L423.5 370.0 L424.5 370.0 L425.5 370.0 L426.5 370.0 L427.5 370.1 L428.5 370.1 L429.5 370.1 L430.5 370.1 L431.5 370.2 L432.5 370.2 L433.5 370.2 L434.5 370.2 L435.5 370.3 L436.5 370.3 L437.5 370.3 L438.5 370.3 L439.5 370.4 L440.5 370.4 L441.5 370.4 L442.5 370.4 L443.5 370.5 L444.5 370.5 L445.5 370.5 L446.5 370.5 L447.5 370.6 L448.5 370.6 L449.5 370.6 L450.5 370.6 L451.5 370.7 L452.5 370.7 L453.5 370.7 L454.5 370.7 L455.5 370.8 L456.5 370.8 L457.5 370.8 L458.5 370.8 L459.5 370.9 L460.5 370.9 L461.5 370.9 L462.5 370.9 L463.5 371.0 L464.5 371.0 L465.5 371.0 L466.5 371.0 L467.5 371.1 L468.5 371.1 L469.5 371.1 L470.5 371.1 L471.5 371.2 L472.5 371.2 L472.5 371.5 L471.5 371.5 L470.5 371.4 L469.5 371.4 L468.5 371.4 L467.5 371.4 L466.5 371.3 L465.5 371.3 L464.5 371.3 L463.5 371.3 L462.5 371.2 L461.5 371.2 L460.5 371.2 L459.5 371.2 L458.5 371.1 L457.5 371.1 L456.5 371.1 L455.5 371.1 L454.5 371.0 L453.5 371.0 L452.5 371.0 L451.5 371.0 L450.5 370.9 L449.5 370.9 L448.5 370.9 L447.5 370.9 L446.5 370.8 L445.5 370.8 L444.5 370.8 L443.5 370.8 L442.5 370.7 L441.5 370.7 L440.5 370.7 L439.5 370.7 L438.5 370.6 L437.5 370.6 L436.5 370.6 L435.5 370.6 L434.5 370.5 L433.5 370.5 L432.5 370.5 L431.5 370.5 L430.5 370.4 L429.5 370.4 L428.5 370.4 L427.5 370.4 L426.5 370.3 L425.5 370.3 L424.5 370.3 L423.5 370.3 L422.5 370.3 L421.5 370.2 L420.5 370.2 L419.5 370.2 L418.5 370.2 L417.5 370.1 L416.5 370.1 L415.5 370.1 L414.5 370.1 L413.5 370.0 L412.5 370.0 L411.5 370.0 L410.5 370.0 L409.5 369.9 L408.5 369.9 L407.5 369.9 L406.5 369.9 L405.5 369.8 L404.5 369.8 L403.5 369.8 L402.5 369.8 L401.5 369.7 L400.5 369.7 L399.5 369.7 L398.5 369.6 L397.5 369.6 L396.5 369.5 L395.5 369.5 L394.5 369.4 L393.5 369.4 L392.5 369.3 L391.5 369.3 L390.5 369.2 L389.5 369.2 L388.5 369.1 L387.5 369.0 L386.5 369.0 L385.5 368.9 L384.5 368.9 L383.5 368.8 L382.5 368.8 L381.5 368.7 L380.5 368.7 L379.5 368.6 L378.5 368.6 L377.5 368.5 L376.5 368.5 L375.5 368.4 L374.5 368.4 L373.5 368.3 L372.5 368.3 L371.5 368.2 L370.5 368.2 L369.5 368.1 L368.5 368.1 L367.5 368.0 L366.5 367.9 L365.5 367.9 L364.5 367.8 L363.5 367.8 L362.5 367.7 L361.5 367.7 L360.5 367.6 L359.5 367.6 L358.5 367.5 L357.5 367.5 L356.5 367.4 L355.5 367.4 L354.5 367.3 L353.5 367.3 L352.5 367.2 L351.5 367.2 L350.5 367.1 L349.5 367.1 L348.5 367.0 L347.5 367.0 L346.5 366.9 L345.5 366.8 L344.5 366.8 L343.5 366.7 L342.5 366.7 L341.5 366.6 L340.5 366.6 L339.5 366.5 L338.5 366.5 L337.5 366.4 L336.5 366.4 L335.5 366.3 L334.5 366.3 L333.5 366.2 L332.5 366.2 L331.5 366.1 L330.5 366.1 L329.5 366.0 L328.5 366.0 L327.5 365.9 L326.5 365.9 L325.5 365.8 L324.5 365.7 L323.5 365.7 L322.5 365.6 L321.5 365.6 L320.5 365.5 L319.5 365.5 L318.5 365.4 L317.5 365.4 L316.5 365.3 L315.5 365.3 L314.5 365.2 L313.5 365.2 L312.5 365.1 L311.5 365.1 L310.5 365.0 L309.5 365.0 L308.5 364.9 L307.5 364.9 L306.5 364.8 L305.5 364.8 L304.5 364.7 L303.5 364.6 L302.5 364.6 L301.5 364.5 L300.5 364.5 L299.5 364.4 L298.5 364.4 L297.5 364.3 L296.5 364.3 L295.5 364.2 L294.5 364.2 L293.5 364.1 Z" fill="#A8D46A"/>
<path d="M293.5 363.3 L294.5 363.3 L295.5 363.3 L296.5 363.3 L297.5 363.3 L298.5 363.3 L299.5 363.2 L300.5 363.2 L301.5 363.1 L302.5 363.1 L303.5 363.0 L304.5 362.9 L305.5 362.7 L306.5 362.6 L307.5 362.4 L308.5 362.2 L309.5 362.0 L310.5 361.8 L311.5 361.5 L312.5 361.1 L313.5 360.8 L314.5 360.4 L315.5 360.0 L316.5 359.5 L317.5 359.0 L318.5 358.4 L319.5 357.8 L320.5 357.2 L321.5 356.5 L322.5 355.7 L323.5 354.9 L324.5 354.1 L325.5 353.3 L326.5 352.4 L327.5 351.4 L328.5 350.5 L329.5 349.5 L330.5 348.4 L331.5 347.4 L332.5 346.4 L333.5 345.3 L334.5 344.3 L335.5 343.3 L336.5 342.2 L337.5 341.3 L338.5 340.3 L339.5 339.4 L340.5 338.5 L341.5 337.8 L342.5 337.0 L343.5 336.4 L344.5 335.8 L345.5 335.4 L346.5 335.0 L347.5 334.7 L348.5 334.5 L349.5 334.5 L350.5 334.5 L351.5 334.7 L352.5 335.0 L353.5 335.4 L354.5 335.8 L355.5 336.4 L356.5 337.1 L357.5 337.9 L358.5 338.7 L359.5 339.7 L360.5 340.7 L361.5 341.7 L362.5 342.8 L363.5 343.9 L364.5 345.1 L365.5 346.3 L366.5 347.5 L367.5 348.7 L368.5 349.9 L369.5 351.1 L370.5 352.3 L371.5 353.4 L372.5 354.5 L373.5 355.6 L374.5 356.6 L375.5 357.6 L376.5 358.6 L377.5 359.5 L378.5 360.4 L379.5 361.2 L380.5 361.9 L381.5 362.6 L382.5 363.3 L383.5 363.9 L384.5 364.5 L385.5 365.0 L386.5 365.5 L387.5 365.9 L388.5 366.3 L389.5 366.7 L390.5 367.0 L391.5 367.3 L392.5 367.6 L393.5 367.8 L394.5 368.1 L395.5 368.3 L396.5 368.5 L397.5 368.6 L398.5 368.8 L399.5 368.9 L400.5 369.0 L401.5 369.1 L402.5 369.2 L403.5 369.3 L404.5 369.3 L405.5 369.4 L406.5 369.4 L407.5 369.5 L408.5 369.5 L409.5 369.6 L410.5 369.6 L410.5 370.0 L409.5 369.9 L408.5 369.9 L407.5 369.9 L406.5 369.9 L405.5 369.8 L404.5 369.8 L403.5 369.8 L402.5 369.8 L401.5 369.7 L400.5 369.7 L399.5 369.7 L398.5 369.6 L397.5 369.6 L396.5 369.5 L395.5 369.5 L394.5 369.4 L393.5 369.4 L392.5 369.3 L391.5 369.3 L390.5 369.2 L389.5 369.2 L388.5 369.1 L387.5 369.0 L386.5 369.0 L385.5 368.9 L384.5 368.9 L383.5 368.8 L382.5 368.8 L381.5 368.7 L380.5 368.7 L379.5 368.6 L378.5 368.6 L377.5 368.5 L376.5 368.5 L375.5 368.4 L374.5 368.4 L373.5 368.3 L372.5 368.3 L371.5 368.2 L370.5 368.2 L369.5 368.1 L368.5 368.1 L367.5 368.0 L366.5 367.9 L365.5 367.9 L364.5 367.8 L363.5 367.8 L362.5 367.7 L361.5 367.7 L360.5 367.6 L359.5 367.6 L358.5 367.5 L357.5 367.5 L356.5 367.4 L355.5 367.4 L354.5 367.3 L353.5 367.3 L352.5 367.2 L351.5 367.2 L350.5 367.1 L349.5 367.1 L348.5 367.0 L347.5 367.0 L346.5 366.9 L345.5 366.8 L344.5 366.8 L343.5 366.7 L342.5 366.7 L341.5 366.6 L340.5 366.6 L339.5 366.5 L338.5 366.5 L337.5 366.4 L336.5 366.4 L335.5 366.3 L334.5 366.3 L333.5 366.2 L332.5 366.2 L331.5 366.1 L330.5 366.1 L329.5 366.0 L328.5 366.0 L327.5 365.9 L326.5 365.9 L325.5 365.8 L324.5 365.7 L323.5 365.7 L322.5 365.6 L321.5 365.6 L320.5 365.5 L319.5 365.5 L318.5 365.4 L317.5 365.4 L316.5 365.3 L315.5 365.3 L314.5 365.2 L313.5 365.2 L312.5 365.1 L311.5 365.1 L310.5 365.0 L309.5 365.0 L308.5 364.9 L307.5 364.9 L306.5 364.8 L305.5 364.8 L304.5 364.7 L303.5 364.6 L302.5 364.6 L301.5 364.5 L300.5 364.5 L299.5 364.4 L298.5 364.4 L297.5 364.3 L296.5 364.3 L295.5 364.2 L294.5 364.2 L293.5 364.1 Z" fill="#91C878"/>
<path d="M332.5 365.9 L333.5 365.9 L334.5 366.0 L335.5 366.0 L336.5 366.1 L337.5 366.1 L338.5 366.2 L339.5 366.2 L340.5 366.3 L341.5 366.3 L342.5 366.4 L343.5 366.4 L344.5 366.5 L345.5 366.5 L346.5 366.6 L347.5 366.7 L348.5 366.7 L349.5 366.8 L350.5 366.8 L351.5 366.9 L352.5 366.9 L353.5 367.0 L354.5 367.0 L355.5 367.1 L356.5 367.1 L357.5 367.2 L358.5 367.2 L359.5 367.3 L360.5 367.3 L361.5 367.4 L362.5 367.4 L363.5 367.5 L364.5 367.5 L365.5 367.6 L366.5 367.6 L367.5 367.7 L368.5 367.8 L369.5 367.8 L370.5 367.9 L371.5 367.9 L372.5 368.0 L373.5 368.0 L374.5 368.1 L375.5 368.1 L376.5 368.2 L377.5 368.2 L378.5 368.3 L379.5 368.3 L380.5 368.4 L381.5 368.4 L382.5 368.5 L383.5 368.5 L384.5 368.6 L385.5 368.6 L386.5 368.6 L387.5 368.7 L388.5 368.7 L389.5 368.7 L390.5 368.8 L391.5 368.8 L392.5 368.8 L393.5 368.8 L394.5 368.8 L395.5 368.8 L396.5 368.8 L397.5 368.8 L398.5 368.7 L399.5 368.7 L400.5 368.6 L401.5 368.5 L402.5 368.3 L403.5 368.2 L404.5 368.0 L405.5 367.8 L406.5 367.5 L407.5 367.3 L408.5 367.0 L409.5 366.6 L410.5 366.3 L411.5 365.9 L412.5 365.4 L413.5 365.0 L414.5 364.5 L415.5 363.9 L416.5 363.4 L417.5 362.8 L418.5 362.2 L419.5 361.5 L420.5 360.9 L421.5 360.2 L422.5 359.6 L423.5 358.9 L424.5 358.2 L425.5 357.6 L426.5 357.0 L427.5 356.4 L428.5 355.8 L429.5 355.3 L430.5 354.8 L431.5 354.4 L432.5 354.0 L433.5 353.7 L434.5 353.5 L435.5 353.3 L436.5 353.2 L437.5 353.2 L438.5 353.3 L439.5 353.4 L440.5 353.6 L441.5 353.9 L442.5 354.2 L443.5 354.7 L444.5 355.1 L445.5 355.7 L446.5 356.2 L447.5 356.9 L448.5 357.5 L449.5 358.2 L450.5 358.9 L451.5 359.6 L452.5 360.3 L453.5 361.0 L454.5 361.7 L455.5 362.4 L456.5 363.1 L457.5 363.8 L458.5 364.4 L459.5 365.0 L460.5 365.6 L461.5 366.1 L462.5 366.7 L463.5 367.1 L464.5 367.6 L465.5 368.0 L466.5 368.4 L467.5 368.7 L468.5 369.1 L469.5 369.3 L470.5 369.6 L471.5 369.8 L472.5 370.1 L473.5 370.2 L474.5 370.4 L475.5 370.6 L476.5 370.7 L477.5 370.8 L478.5 370.9 L479.5 371.0 L480.5 371.1 L481.5 371.2 L482.5 371.2 L483.5 371.3 L484.5 371.3 L485.5 371.4 L486.5 371.4 L487.5 371.5 L488.5 371.5 L489.5 371.6 L490.5 371.6 L491.5 371.6 L492.5 371.6 L493.5 371.7 L494.5 371.7 L495.5 371.7 L496.5 371.8 L497.5 371.8 L498.5 371.8 L499.5 371.8 L500.5 371.9 L501.5 371.9 L502.5 371.9 L503.5 371.9 L504.5 372.0 L505.5 372.0 L505.5 372.3 L504.5 372.3 L503.5 372.2 L502.5 372.2 L501.5 372.2 L500.5 372.2 L499.5 372.1 L498.5 372.1 L497.5 372.1 L496.5 372.1 L495.5 372.0 L494.5 372.0 L493.5 372.0 L492.5 372.0 L491.5 371.9 L490.5 371.9 L489.5 371.9 L488.5 371.9 L487.5 371.8 L486.5 371.8 L485.5 371.8 L484.5 371.8 L483.5 371.7 L482.5 371.7 L481.5 371.7 L480.5 371.7 L479.5 371.7 L478.5 371.6 L477.5 371.6 L476.5 371.6 L475.5 371.6 L474.5 371.5 L473.5 371.5 L472.5 371.5 L471.5 371.5 L470.5 371.4 L469.5 371.4 L468.5 371.4 L467.5 371.4 L466.5 371.3 L465.5 371.3 L464.5 371.3 L463.5 371.3 L462.5 371.2 L461.5 371.2 L460.5 371.2 L459.5 371.2 L458.5 371.1 L457.5 371.1 L456.5 371.1 L455.5 371.1 L454.5 371.0 L453.5 371.0 L452.5 371.0 L451.5 371.0 L450.5 370.9 L449.5 370.9 L448.5 370.9 L447.5 370.9 L446.5 370.8 L445.5 370.8 L444.5 370.8 L443.5 370.8 L442.5 370.7 L441.5 370.7 L440.5 370.7 L439.5 370.7 L438.5 370.6 L437.5 370.6 L436.5 370.6 L435.5 370.6 L434.5 370.5 L433.5 370.5 L432.5 370.5 L431.5 370.5 L430.5 370.4 L429.5 370.4 L428.5 370.4 L427.5 370.4 L426.5 370.3 L425.5 370.3 L424.5 370.3 L423.5 370.3 L422.5 370.3 L421.5 370.2 L420.5 370.2 L419.5 370.2 L418.5 370.2 L417.5 370.1 L416.5 370.1 L415.5 370.1 L414.5 370.1 L413.5 370.0 L412.5 370.0 L411.5 370.0 L410.5 370.0 L409.5 369.9 L408.5 369.9 L407.5 369.9 L406.5 369.9 L405.5 369.8 L404.5 369.8 L403.5 369.8 L402.5 369.8 L401.5 369.7 L400.5 369.7 L399.5 369.7 L398.5 369.6 L397.5 369.6 L396.5 369.5 L395.5 369.5 L394.5 369.4 L393.5 369.4 L392.5 369.3 L391.5 369.3 L390.5 369.2 L389.5 369.2 L388.5 369.1 L387.5 369.0 L386.5 369.0 L385.5 368.9 L384.5 368.9 L383.5 368.8 L382.5 368.8 L381.5 368.7 L380.5 368.7 L379.5 368.6 L378.5 368.6 L377.5 368.5 L376.5 368.5 L375.5 368.4 L374.5 368.4 L373.5 368.3 L372.5 368.3 L371.5 368.2 L370.5 368.2 L369.5 368.1 L368.5 368.1 L367.5 368.0 L366.5 367.9 L365.5 367.9 L364.5 367.8 L363.5 367.8 L362.5 367.7 L361.5 367.7 L360.5 367.6 L359.5 367.6 L358.5 367.5 L357.5 367.5 L356.5 367.4 L355.5 367.4 L354.5 367.3 L353.5 367.3 L352.5 367.2 L351.5 367.2 L350.5 367.1 L349.5 367.1 L348.5 367.0 L347.5 367.0 L346.5 366.9 L345.5 366.8 L344.5 366.8 L343.5 366.7 L342.5 366.7 L341.5 366.6 L340.5 366.6 L339.5 366.5 L338.5 366.5 L337.5 366.4 L336.5 366.4 L335.5 366.3 L334.5 366.3 L333.5 366.2 L332.5 366.2 Z" fill="#F7964B"/>
<path d="M386.5 368.6 L387.5 368.7 L388.5 368.7 L389.5 368.7 L390.5 368.8 L391.5 368.8 L392.5 368.8 L393.5 368.8 L394.5 368.8 L395.5 368.8 L396.5 368.8 L397.5 368.8 L398.5 368.7 L399.5 368.7 L400.5 368.6 L401.5 368.5 L402.5 368.3 L403.5 368.2 L404.5 368.0 L405.5 367.8 L406.5 367.5 L407.5 367.3 L408.5 367.0 L409.5 366.6 L410.5 366.3 L411.5 365.9 L412.5 365.4 L413.5 365.0 L414.5 364.5 L415.5 363.9 L416.5 363.4 L417.5 362.8 L418.5 362.2 L419.5 361.5 L420.5 360.9 L421.5 360.2 L422.5 359.6 L423.5 358.9 L424.5 358.5 L425.5 359.4 L426.5 360.2 L427.5 361.0 L428.5 361.7 L429.5 362.3 L430.5 362.9 L431.5 363.5 L432.5 364.0 L433.5 364.5 L434.5 364.9 L435.5 365.3 L436.5 365.6 L437.5 366.0 L438.5 366.3 L439.5 366.5 L440.5 366.8 L441.5 367.0 L442.5 367.2 L443.5 367.4 L444.5 367.6 L445.5 367.8 L446.5 368.0 L447.5 368.1 L448.5 368.2 L449.5 368.4 L450.5 368.5 L451.5 368.6 L452.5 368.7 L453.5 368.8 L454.5 368.9 L455.5 369.0 L456.5 369.0 L457.5 369.1 L458.5 369.2 L459.5 369.3 L460.5 369.3 L461.5 369.4 L462.5 369.4 L463.5 369.5 L464.5 369.6 L465.5 369.6 L466.5 369.7 L467.5 369.7 L468.5 369.8 L469.5 369.8 L470.5 369.9 L471.5 369.9 L472.5 370.1 L473.5 370.2 L474.5 370.4 L475.5 370.6 L476.5 370.7 L477.5 370.8 L478.5 370.9 L479.5 371.0 L480.5 371.1 L481.5 371.2 L482.5 371.2 L483.5 371.3 L484.5 371.3 L485.5 371.4 L486.5 371.4 L487.5 371.5 L488.5 371.5 L488.5 371.9 L487.5 371.8 L486.5 371.8 L485.5 371.8 L484.5 371.8 L483.5 371.7 L482.5 371.7 L481.5 371.7 L480.5 371.7 L479.5 371.7 L478.5 371.6 L477.5 371.6 L476.5 371.6 L475.5 371.6 L474.5 371.5 L473.5 371.5 L472.5 371.5 L471.5 371.5 L470.5 371.4 L469.5 371.4 L468.5 371.4 L467.5 371.4 L466.5 371.3 L465.5 371.3 L464.5 371.3 L463.5 371.3 L462.5 371.2 L461.5 371.2 L460.5 371.2 L459.5 371.2 L458.5 371.1 L457.5 371.1 L456.5 371.1 L455.5 371.1 L454.5 371.0 L453.5 371.0 L452.5 371.0 L451.5 371.0 L450.5 370.9 L449.5 370.9 L448.5 370.9 L447.5 370.9 L446.5 370.8 L445.5 370.8 L444.5 370.8 L443.5 370.8 L442.5 370.7 L441.5 370.7 L440.5 370.7 L439.5 370.7 L438.5 370.6 L437.5 370.6 L436.5 370.6 L435.5 370.6 L434.5 370.5 L433.5 370.5 L432.5 370.5 L431.5 370.5 L430.5 370.4 L429.5 370.4 L428.5 370.4 L427.5 370.4 L426.5 370.3 L425.5 370.3 L424.5 370.3 L423.5 370.3 L422.5 370.3 L421.5 370.2 L420.5 370.2 L419.5 370.2 L418.5 370.2 L417.5 370.1 L416.5 370.1 L415.5 370.1 L414.5 370.1 L413.5 370.0 L412.5 370.0 L411.5 370.0 L410.5 370.0 L409.5 369.9 L408.5 369.9 L407.5 369.9 L406.5 369.9 L405.5 369.8 L404.5 369.8 L403.5 369.8 L402.5 369.8 L401.5 369.7 L400.5 369.7 L399.5 369.7 L398.5 369.6 L397.5 369.6 L396.5 369.5 L395.5 369.5 L394.5 369.4 L393.5 369.4 L392.5 369.3 L391.5 369.3 L390.5 369.2 L389.5 369.2 L388.5 369.1 L387.5 369.0 L386.5 369.0 Z" fill="#E08C4C"/>
<path d="M293.5 364.1 L294.5 364.2 L295.5 364.2 L296.5 364.3 L297.5 364.3 L298.5 364.4 L299.5 364.4 L300.5 364.5 L301.5 364.5 L302.5 364.6 L303.5 364.6 L304.5 364.7 L305.5 364.8 L306.5 364.8 L307.5 364.9 L308.5 364.9 L309.5 365.0 L310.5 365.0 L311.5 365.1 L312.5 365.1 L313.5 365.2 L314.5 365.2 L315.5 365.3 L316.5 365.3 L317.5 365.4 L318.5 365.4 L319.5 365.5 L320.5 365.5 L321.5 365.6 L322.5 365.6 L323.5 365.7 L324.5 365.7 L325.5 365.8 L326.5 365.9 L327.5 365.9 L328.5 366.0 L329.5 366.0 L330.5 366.1 L331.5 366.1 L332.5 366.2 L333.5 366.2 L334.5 366.3 L335.5 366.3 L336.5 366.4 L337.5 366.4 L338.5 366.5 L339.5 366.5 L340.5 366.6 L341.5 366.6 L342.5 366.7 L343.5 366.7 L344.5 366.8 L345.5 366.8 L346.5 366.9 L347.5 367.0 L348.5 367.0 L349.5 367.1 L350.5 367.1 L351.5 367.2 L352.5 367.2 L353.5 367.3 L354.5 367.3 L355.5 367.4 L356.5 367.4 L357.5 367.5 L358.5 367.5 L359.5 367.6 L360.5 367.6 L361.5 367.7 L362.5 367.7 L363.5 367.8 L364.5 367.8 L365.5 367.9 L366.5 367.9 L367.5 368.0 L368.5 368.1 L369.5 368.1 L370.5 368.2 L371.5 368.2 L372.5 368.3 L373.5 368.3 L374.5 368.4 L375.5 368.4 L376.5 368.5 L377.5 368.5 L378.5 368.6 L379.5 368.6 L380.5 368.7 L381.5 368.7 L382.5 368.8 L383.5 368.8 L384.5 368.9 L385.5 368.9 L386.5 369.0 L387.5 369.0 L388.5 369.1 L389.5 369.2 L390.5 369.2 L391.5 369.3 L392.5 369.3 L393.5 369.4 L394.5 369.4 L395.5 369.5 L396.5 369.5 L397.5 369.6 L398.5 369.6 L399.5 369.7 L400.5 369.7 L401.5 369.7 L402.5 369.8 L403.5 369.8 L404.5 369.8 L405.5 369.8 L406.5 369.9 L407.5 369.9 L408.5 369.9 L409.5 369.9 L410.5 370.0 L411.5 370.0 L412.5 370.0 L413.5 370.0 L414.5 370.1 L415.5 370.1 L416.5 370.1 L417.5 370.1 L418.5 370.2 L419.5 370.2 L420.5 370.2 L421.5 370.2 L422.5 370.3 L423.5 370.3 L424.5 370.3 L425.5 370.3 L426.5 370.3 L427.5 370.4 L428.5 370.4 L429.5 370.4 L430.5 370.4 L431.5 370.5 L432.5 370.5 L433.5 370.5 L434.5 370.5 L435.5 370.6 L436.5 370.6 L437.5 370.6 L438.5 370.6 L439.5 370.7 L440.5 370.7 L441.5 370.7 L442.5 370.7 L443.5 370.8 L444.5 370.8 L445.5 370.8 L446.5 370.8 L447.5 370.9 L448.5 370.9 L449.5 370.9 L450.5 370.9 L451.5 371.0 L452.5 371.0 L453.5 371.0 L454.5 371.0 L455.5 371.1 L456.5 371.1 L457.5 371.1 L458.5 371.1 L459.5 371.2 L460.5 371.2 L461.5 371.2 L462.5 371.2 L463.5 371.3 L464.5 371.3 L465.5 371.3 L466.5 371.3 L467.5 371.4 L468.5 371.4 L469.5 371.4 L470.5 371.4 L471.5 371.5 L472.5 371.5 L473.5 371.5 L474.5 371.5 L475.5 371.6 L476.5 371.6 L477.5 371.6 L478.5 371.6 L479.5 371.7 L480.5 371.7 L481.5 371.7 L482.5 371.7 L483.5 371.7 L484.5 371.8 L485.5 371.8 L486.5 371.8 L487.5 371.8 L488.5 371.9 L489.5 371.9 L490.5 371.9 L491.5 371.9 L492.5 372.0 L493.5 372.0 L494.5 372.0 L495.5 372.0 L496.5 372.1 L497.5 372.1 L498.5 372.1 L499.5 372.1 L500.5 372.2 L501.5 372.2 L502.5 372.2 L503.5 372.2 L504.5 372.3 L505.5 372.3" fill="none" stroke="#8A8A8A" stroke-width="1.3"/>
<path d="M293.5 361.7 L294.5 361.7 L295.5 361.4 L296.5 361.3 L297.5 361.5 L298.5 361.4 L299.5 361.0 L300.5 360.8 L301.5 360.7 L302.5 360.2 L303.5 359.7 L304.5 359.5 L305.5 359.3 L306.5 358.8 L307.5 358.3 L308.5 358.1 L309.5 357.5 L310.5 356.6 L311.5 355.9 L312.5 355.2 L313.5 354.3 L314.5 353.2 L315.5 352.4 L316.5 351.6 L317.5 350.4 L318.5 349.1 L319.5 348.0 L320.5 346.6 L321.5 344.7 L322.5 343.0 L323.5 341.4 L324.5 339.5 L325.5 337.3 L326.5 335.3 L327.5 333.2 L328.5 330.7 L329.5 327.9 L330.5 325.3 L331.5 322.5 L332.5 319.2 L333.5 316.1 L334.5 313.2 L335.5 310.0 L336.5 306.6 L337.5 303.5 L338.5 300.3 L339.5 296.8 L340.5 293.2 L341.5 289.9 L342.5 286.6 L343.5 283.0 L344.5 279.7 L345.5 276.7 L346.5 273.6 L347.5 270.3 L348.5 267.3 L349.5 264.6 L350.5 261.5 L351.5 258.4 L352.5 255.8 L353.5 253.3 L354.5 250.7 L355.5 248.4 L356.5 246.5 L357.5 244.6 L358.5 242.5 L359.5 240.7 L360.5 239.1 L361.5 237.0 L362.5 235.2 L363.5 234.0 L364.5 233.2 L365.5 232.4 L366.5 231.9 L367.5 231.8 L368.5 231.6 L369.5 231.2 L370.5 231.3 L371.5 231.8 L372.5 232.3 L373.5 232.9 L374.5 234.1 L375.5 235.7 L376.5 237.1 L377.5 238.8 L378.5 241.1 L379.5 243.6 L380.5 246.2 L381.5 249.3 L382.5 252.6 L383.5 255.8 L384.5 259.0 L385.5 262.7 L386.5 266.4 L387.5 269.6 L388.5 272.8 L389.5 276.4 L390.5 279.9 L391.5 283.1 L392.5 286.4 L393.5 290.0 L394.5 293.5 L395.5 296.7 L396.5 300.3 L397.5 303.9 L398.5 307.1 L399.5 310.1 L400.5 313.3 L401.5 316.4 L402.5 319.1 L403.5 321.8 L404.5 324.7 L405.5 327.4 L406.5 329.6 L407.5 331.8 L408.5 334.1 L409.5 335.8 L410.5 337.1 L411.5 338.5 L412.5 339.9 L413.5 341.0 L414.5 342.1 L415.5 343.4 L416.5 344.5 L417.5 345.0 L418.5 345.5 L419.5 346.2 L420.5 346.4 L421.5 346.4 L422.5 346.7 L423.5 347.0 L424.5 347.0 L425.5 347.0 L426.5 347.3 L427.5 347.5 L428.5 347.2 L429.5 346.9 L430.5 346.8 L431.5 346.4 L432.5 346.0 L433.5 346.0 L434.5 346.2 L435.5 346.2 L436.5 346.1 L437.5 346.5 L438.5 346.8 L439.5 346.8 L440.5 346.9 L441.5 347.4 L442.5 347.9 L443.5 348.1 L444.5 348.8 L445.5 349.7 L446.5 350.5 L447.5 351.1 L448.5 352.2 L449.5 353.2 L450.5 353.8 L451.5 354.6 L452.5 355.7 L453.5 356.6 L454.5 357.4 L455.5 358.4 L456.5 359.6 L457.5 360.6 L458.5 361.2 L459.5 362.1 L460.5 363.0 L461.5 363.5 L462.5 364.0 L463.5 364.9 L464.5 365.7 L465.5 366.2 L466.5 366.8 L467.5 367.6 L468.5 368.0 L469.5 368.2 L470.5 368.5 L471.5 368.9 L472.5 369.0 L473.5 369.0 L474.5 369.4 L475.5 369.8 L476.5 369.8 L477.5 370.0 L478.5 370.3 L479.5 370.4 L480.5 370.3 L481.5 370.3 L482.5 370.5 L483.5 370.5 L484.5 370.4 L485.5 370.7 L486.5 371.0 L487.5 371.0 L488.5 370.9 L489.5 371.2 L490.5 371.2 L491.5 370.9 L492.5 370.9 L493.5 371.2 L494.5 371.2 L495.5 371.1 L496.5 371.3 L497.5 371.6 L498.5 371.5 L499.5 371.4 L500.5 371.6 L501.5 371.6 L502.5 371.4 L503.5 371.4 L504.5 371.7 L505.5 371.7" fill="none" stroke="#111" stroke-width="1.35" stroke-dasharray="6.5 2.6" stroke-linejoin="round"/>
<path d="M293.5 361.6 L294.5 361.5 L295.5 361.4 L296.5 361.3 L297.5 361.2 L298.5 361.1 L299.5 361.0 L300.5 360.8 L301.5 360.6 L302.5 360.4 L303.5 360.1 L304.5 359.8 L305.5 359.5 L306.5 359.1 L307.5 358.7 L308.5 358.3 L309.5 357.8 L310.5 357.2 L311.5 356.6 L312.5 356.0 L313.5 355.3 L314.5 354.5 L315.5 353.6 L316.5 352.7 L317.5 351.7 L318.5 350.6 L319.5 349.5 L320.5 348.2 L321.5 346.9 L322.5 345.4 L323.5 343.8 L324.5 342.1 L325.5 340.2 L326.5 338.2 L327.5 336.1 L328.5 333.9 L329.5 331.5 L330.5 328.9 L331.5 326.2 L332.5 323.4 L333.5 320.5 L334.5 317.5 L335.5 314.4 L336.5 311.2 L337.5 308.0 L338.5 304.7 L339.5 301.4 L340.5 298.0 L341.5 294.6 L342.5 291.3 L343.5 287.9 L344.5 284.6 L345.5 281.2 L346.5 278.0 L347.5 274.8 L348.5 271.6 L349.5 268.5 L350.5 265.5 L351.5 262.6 L352.5 259.7 L353.5 257.0 L354.5 254.4 L355.5 251.9 L356.5 249.5 L357.5 247.3 L358.5 245.2 L359.5 243.2 L360.5 241.4 L361.5 239.8 L362.5 238.2 L363.5 236.9 L364.5 235.7 L365.5 234.7 L366.5 233.9 L367.5 233.3 L368.5 232.9 L369.5 232.8 L370.5 232.9 L371.5 233.3 L372.5 233.9 L373.5 234.8 L374.5 235.9 L375.5 237.2 L376.5 238.7 L377.5 240.4 L378.5 242.3 L379.5 244.4 L380.5 246.6 L381.5 249.0 L382.5 251.5 L383.5 254.2 L384.5 257.1 L385.5 260.0 L386.5 263.1 L387.5 266.3 L388.5 269.6 L389.5 272.9 L390.5 276.3 L391.5 279.7 L392.5 283.2 L393.5 286.7 L394.5 290.1 L395.5 293.6 L396.5 297.0 L397.5 300.4 L398.5 303.7 L399.5 307.0 L400.5 310.2 L401.5 313.3 L402.5 316.3 L403.5 319.3 L404.5 322.1 L405.5 324.8 L406.5 327.3 L407.5 329.7 L408.5 331.9 L409.5 333.8 L410.5 335.6 L411.5 337.2 L412.5 338.6 L413.5 339.8 L414.5 340.9 L415.5 341.8 L416.5 342.7 L417.5 343.4 L418.5 344.1 L419.5 344.6 L420.5 345.1 L421.5 345.5 L422.5 345.8 L423.5 346.0 L424.5 346.2 L425.5 346.3 L426.5 346.4 L427.5 346.4 L428.5 346.3 L429.5 346.3 L430.5 346.2 L431.5 346.2 L432.5 346.1 L433.5 346.1 L434.5 346.1 L435.5 346.2 L436.5 346.3 L437.5 346.5 L438.5 346.7 L439.5 347.1 L440.5 347.4 L441.5 347.9 L442.5 348.5 L443.5 349.1 L444.5 349.8 L445.5 350.5 L446.5 351.3 L447.5 352.2 L448.5 353.0 L449.5 354.0 L450.5 354.9 L451.5 355.9 L452.5 356.8 L453.5 357.7 L454.5 358.7 L455.5 359.6 L456.5 360.4 L457.5 361.3 L458.5 362.1 L459.5 362.9 L460.5 363.6 L461.5 364.2 L462.5 364.9 L463.5 365.4 L464.5 366.0 L465.5 366.5 L466.5 366.9 L467.5 367.3 L468.5 367.7 L469.5 368.0 L470.5 368.3 L471.5 368.6 L472.5 368.8 L473.5 369.1 L474.5 369.3 L475.5 369.4 L476.5 369.6 L477.5 369.7 L478.5 369.8 L479.5 370.0 L480.5 370.1 L481.5 370.2 L482.5 370.2 L483.5 370.3 L484.5 370.4 L485.5 370.5 L486.5 370.5 L487.5 370.6 L488.5 370.6 L489.5 370.7 L490.5 370.7 L491.5 370.8 L492.5 370.8 L493.5 370.9 L494.5 370.9 L495.5 370.9 L496.5 371.0 L497.5 371.0 L498.5 371.0 L499.5 371.1 L500.5 371.1 L501.5 371.2 L502.5 371.2 L503.5 371.2 L504.5 371.3 L505.5 371.3" fill="none" stroke="#EE1C25" stroke-width="1.55" stroke-linejoin="round"/>
<text x="309.0" y="54.0" fill="#111" stroke="#111" stroke-width="0.24" font-size="12.0" text-anchor="start" >(b)</text>
<text x="309.5" y="81.5" fill="#111" stroke="#111" stroke-width="0.24" font-size="12.0" text-anchor="start" >T9</text>
<text x="307.4" y="238.5" fill="#111" stroke="#111" stroke-width="0.24" font-size="12.0" text-anchor="start" >Y3 Blank</text>
<text x="402.5" y="74.5" fill="#5FBBEA" stroke="#5FBBEA" stroke-width="0.06" font-size="12.2" text-anchor="start" >532.1</text>
<text x="405.5" y="90.0" fill="#5FBBEA" stroke="#5FBBEA" stroke-width="0.06" font-size="12.2" text-anchor="start" >LiO<tspan dy="-4.3" font-size="6.4">−</tspan><tspan dy="4.3" font-size="0.1"> </tspan></text>
<path d="M398.0 72.7 L379.2 78.1" stroke="#5FBBEA" stroke-width="1.15" fill="none"/><path d="M379.2 78.1 L383.5 74.8 L384.6 78.6 Z" fill="#5FBBEA"/>
<text x="307.0" y="128.4" fill="#7FC241" stroke="#7FC241" stroke-width="0.06" font-size="12.2" text-anchor="start" >533.0</text>
<text x="307.0" y="143.3" fill="#7FC241" stroke="#7FC241" stroke-width="0.06" font-size="12.2" text-anchor="start" >CO<tspan dy="4.2" font-size="8.0">3</tspan><tspan dy="-4.2" font-size="0.1"> </tspan><tspan dy="-4.3" font-size="6.4">2−</tspan><tspan dy="4.3" font-size="0.1"> </tspan></text>
<path d="M335.6 141.8 L356.2 150.8" stroke="#7FC241" stroke-width="1.15" fill="none"/><path d="M356.2 150.8 L350.8 150.6 L352.4 147.0 Z" fill="#7FC241"/>
<text x="432.8" y="151.7" fill="#F0812F" stroke="#F0812F" stroke-width="0.06" font-size="12.2" text-anchor="start" >529.1</text>
<text x="432.8" y="166.9" fill="#F0812F" stroke="#F0812F" stroke-width="0.06" font-size="12.2" text-anchor="start" >Co<tspan dy="4.2" font-size="8.0">2</tspan><tspan dy="-4.2" font-size="0.1"> </tspan>O<tspan dy="4.2" font-size="8.0">3</tspan><tspan dy="-4.2" font-size="0.1"> </tspan></text>
<path d="M441.2 170.8 L441.2 185.7" stroke="#F0812F" stroke-width="1.15" fill="none"/>
<text x="403.0" y="237.2" fill="#5FBBEA" stroke="#5FBBEA" stroke-width="0.06" font-size="12.2" text-anchor="start" >532.2</text>
<text x="405.7" y="251.5" fill="#5FBBEA" stroke="#5FBBEA" stroke-width="0.06" font-size="12.2" text-anchor="start" >LiO<tspan dy="-4.3" font-size="6.4">−</tspan><tspan dy="4.3" font-size="0.1"> </tspan></text>
<path d="M389.6 239.9 L374.4 248.5" stroke="#5FBBEA" stroke-width="1.15" fill="none"/>
<text x="300.0" y="302.0" fill="#7FC241" stroke="#7FC241" stroke-width="0.06" font-size="12.2" text-anchor="start" >533.4</text>
<text transform="translate(299.8 316.6) scale(1.150 1)" fill="#7FC241" stroke="#7FC241" stroke-width="0.06" font-size="12.2" text-anchor="start" >C═O</text>
<path d="M324.0 320.2 L348.1 333.6" stroke="#7FC241" stroke-width="1.15" fill="none"/><path d="M348.1 333.6 L342.8 332.9 L344.7 329.4 Z" fill="#7FC241"/>
<text x="429.5" y="315.8" fill="#F0812F" stroke="#F0812F" stroke-width="0.06" font-size="12.2" text-anchor="start" >529.2</text>
<text x="429.5" y="331.0" fill="#F0812F" stroke="#F0812F" stroke-width="0.06" font-size="12.2" text-anchor="start" >Co<tspan dy="4.2" font-size="8.0">2</tspan><tspan dy="-4.2" font-size="0.1"> </tspan>O<tspan dy="4.2" font-size="8.0">3</tspan><tspan dy="-4.2" font-size="0.1"> </tspan></text>
<path d="M437.5 337.5 L437.5 353.0" stroke="#F0812F" stroke-width="1.15" fill="none"/><path d="M437.5 353.0 L435.5 348.0 L439.5 348.0 Z" fill="#F0812F"/>
<path d="M549.3 391.0 V36" stroke="#111" stroke-width="1.1" fill="none"/>
<path d="M549.3 32.7 Q551.5 40 554.3 46.6 Q551.7 43 549.3 40.9 Q546.9 43 544.3 46.6 Q547.1 40 549.3 32.7 Z" fill="#111"/>
<path d="M548.8 390.9 H761.8" stroke="#111" stroke-width="1.25" fill="none"/>
<path d="M549.3 391.0 v-3.3" stroke="#111" stroke-width="1"/>
<text x="549.3" y="408.6" fill="#111" stroke="#111" stroke-width="0.24" font-size="11.5" text-anchor="middle" >692</text>
<path d="M570.5 391.0 v-1.6" stroke="#111" stroke-width="1"/>
<path d="M591.7 391.0 v-3.3" stroke="#111" stroke-width="1"/>
<text x="591.7" y="408.6" fill="#111" stroke="#111" stroke-width="0.24" font-size="11.5" text-anchor="middle" >690</text>
<path d="M612.9 391.0 v-1.6" stroke="#111" stroke-width="1"/>
<path d="M634.1 391.0 v-3.3" stroke="#111" stroke-width="1"/>
<text x="634.1" y="408.6" fill="#111" stroke="#111" stroke-width="0.24" font-size="11.5" text-anchor="middle" >688</text>
<path d="M655.3 391.0 v-1.6" stroke="#111" stroke-width="1"/>
<path d="M676.5 391.0 v-3.3" stroke="#111" stroke-width="1"/>
<text x="676.5" y="408.6" fill="#111" stroke="#111" stroke-width="0.24" font-size="11.5" text-anchor="middle" >686</text>
<path d="M697.7 391.0 v-1.6" stroke="#111" stroke-width="1"/>
<path d="M718.9 391.0 v-3.3" stroke="#111" stroke-width="1"/>
<text x="718.9" y="408.6" fill="#111" stroke="#111" stroke-width="0.24" font-size="11.5" text-anchor="middle" >684</text>
<path d="M740.1 391.0 v-1.6" stroke="#111" stroke-width="1"/>
<path d="M761.3 391.0 v-3.3" stroke="#111" stroke-width="1"/>
<text x="761.3" y="408.6" fill="#111" stroke="#111" stroke-width="0.24" font-size="11.5" text-anchor="middle" >682</text>
<text x="545.8" y="395.3" fill="#111" stroke="#111" stroke-width="0.24" font-size="11.5" text-anchor="end" font-style="italic">O</text>
<text transform="translate(655.0 425.3) scale(1.015 1)" fill="#111" stroke="#111" stroke-width="0.24" font-size="11.5" text-anchor="middle" >Binding energy / eV</text>
<text transform="translate(526.3 23.5) scale(1.056 1)" fill="#111" stroke="#111" stroke-width="0.24" font-size="11.5" text-anchor="start" >Intensity / a.u.</text>
<path d="M582.3 196.2 L583.3 196.2 L584.3 196.2 L585.3 196.2 L586.3 196.2 L587.3 196.2 L588.3 196.2 L589.3 196.2 L590.3 196.2 L591.3 196.2 L592.3 196.2 L593.3 196.2 L594.3 196.2 L595.3 196.2 L596.3 196.2 L597.3 196.2 L598.3 196.2 L599.3 196.2 L600.3 196.2 L601.3 196.2 L602.3 196.3 L603.3 196.3 L604.3 196.3 L605.3 196.3 L606.3 196.3 L607.3 196.3 L608.3 196.3 L609.3 196.3 L610.3 196.3 L611.3 196.3 L612.3 196.3 L613.3 196.3 L614.3 196.3 L615.3 196.3 L616.3 196.3 L617.3 196.3 L618.3 196.3 L619.3 196.3 L620.3 196.3 L621.3 196.3 L622.3 196.3 L623.3 196.3 L624.3 196.3 L625.3 196.3 L626.3 196.3 L627.3 196.3 L628.3 196.3 L629.3 196.3 L630.3 196.3 L631.3 196.3 L632.3 196.3 L633.3 196.3 L634.3 196.3 L635.3 196.2 L636.3 196.2 L637.3 196.2 L638.3 196.2 L639.3 196.2 L640.3 196.2 L641.3 196.1 L642.3 196.1 L643.3 196.0 L644.3 196.0 L645.3 195.9 L646.3 195.8 L647.3 195.7 L648.3 195.5 L649.3 195.4 L650.3 195.2 L651.3 194.9 L652.3 194.6 L653.3 194.3 L654.3 193.9 L655.3 193.4 L656.3 192.9 L657.3 192.3 L658.3 191.6 L659.3 190.7 L660.3 189.8 L661.3 188.7 L662.3 187.5 L663.3 186.1 L664.3 184.5 L665.3 182.8 L666.3 180.9 L667.3 178.8 L668.3 176.4 L669.3 173.8 L670.3 171.0 L671.3 168.0 L672.3 164.7 L673.3 161.2 L674.3 157.5 L675.3 153.5 L676.3 149.3 L677.3 144.8 L678.3 140.2 L679.3 135.4 L680.3 130.5 L681.3 125.5 L682.3 120.3 L683.3 115.1 L684.3 109.9 L685.3 104.8 L686.3 99.7 L687.3 94.7 L688.3 89.9 L689.3 85.3 L690.3 80.9 L691.3 76.9 L692.3 73.2 L693.3 69.9 L694.3 67.0 L695.3 64.6 L696.3 62.6 L697.3 61.2 L698.3 60.3 L699.3 59.9 L700.3 60.1 L701.3 60.7 L702.3 61.8 L703.3 63.3 L704.3 65.4 L705.3 67.8 L706.3 70.6 L707.3 73.8 L708.3 77.4 L709.3 81.3 L710.3 85.4 L711.3 89.7 L712.3 94.3 L713.3 99.0 L714.3 103.8 L715.3 108.7 L716.3 113.6 L717.3 118.5 L718.3 123.4 L719.3 128.2 L720.3 133.0 L721.3 137.6 L722.3 142.0 L723.3 146.3 L724.3 150.5 L725.3 154.4 L726.3 158.1 L727.3 161.7 L728.3 165.0 L729.3 168.1 L730.3 171.0 L731.3 173.6 L732.3 176.1 L733.3 178.3 L734.3 180.4 L735.3 182.3 L736.3 184.0 L737.3 185.5 L738.3 186.9 L739.3 188.1 L740.3 189.2 L741.3 190.2 L742.3 191.1 L743.3 191.8 L744.3 192.5 L745.3 193.1 L746.3 193.6 L747.3 194.0 L748.3 194.4 L749.3 194.7 L750.3 195.0 L751.3 195.2 L752.3 195.4 L753.3 195.6 L754.3 195.7 L755.3 195.8 L756.3 195.9 L757.3 196.0 L758.3 196.1 L759.3 196.2 L760.3 196.2 L761.3 196.2 L761.3 196.7 L760.3 196.7 L759.3 196.7 L758.3 196.7 L757.3 196.7 L756.3 196.7 L755.3 196.7 L754.3 196.7 L753.3 196.7 L752.3 196.7 L751.3 196.7 L750.3 196.7 L749.3 196.7 L748.3 196.7 L747.3 196.7 L746.3 196.7 L745.3 196.7 L744.3 196.7 L743.3 196.7 L742.3 196.7 L741.3 196.7 L740.3 196.7 L739.3 196.7 L738.3 196.7 L737.3 196.7 L736.3 196.7 L735.3 196.7 L734.3 196.7 L733.3 196.7 L732.3 196.7 L731.3 196.7 L730.3 196.7 L729.3 196.7 L728.3 196.7 L727.3 196.7 L726.3 196.7 L725.3 196.7 L724.3 196.7 L723.3 196.7 L722.3 196.7 L721.3 196.7 L720.3 196.7 L719.3 196.7 L718.3 196.7 L717.3 196.7 L716.3 196.7 L715.3 196.7 L714.3 196.7 L713.3 196.7 L712.3 196.7 L711.3 196.7 L710.3 196.7 L709.3 196.7 L708.3 196.7 L707.3 196.6 L706.3 196.6 L705.3 196.6 L704.3 196.6 L703.3 196.6 L702.3 196.6 L701.3 196.6 L700.3 196.6 L699.3 196.6 L698.3 196.6 L697.3 196.6 L696.3 196.6 L695.3 196.6 L694.3 196.6 L693.3 196.6 L692.3 196.6 L691.3 196.6 L690.3 196.6 L689.3 196.6 L688.3 196.6 L687.3 196.6 L686.3 196.6 L685.3 196.6 L684.3 196.6 L683.3 196.6 L682.3 196.6 L681.3 196.6 L680.3 196.6 L679.3 196.6 L678.3 196.6 L677.3 196.6 L676.3 196.6 L675.3 196.6 L674.3 196.6 L673.3 196.6 L672.3 196.6 L671.3 196.6 L670.3 196.6 L669.3 196.6 L668.3 196.6 L667.3 196.6 L666.3 196.6 L665.3 196.6 L664.3 196.6 L663.3 196.6 L662.3 196.6 L661.3 196.6 L660.3 196.6 L659.3 196.6 L658.3 196.6 L657.3 196.6 L656.3 196.6 L655.3 196.6 L654.3 196.6 L653.3 196.6 L652.3 196.6 L651.3 196.6 L650.3 196.6 L649.3 196.6 L648.3 196.6 L647.3 196.6 L646.3 196.6 L645.3 196.6 L644.3 196.6 L643.3 196.6 L642.3 196.6 L641.3 196.6 L640.3 196.6 L639.3 196.6 L638.3 196.6 L637.3 196.6 L636.3 196.6 L635.3 196.6 L634.3 196.6 L633.3 196.6 L632.3 196.6 L631.3 196.6 L630.3 196.6 L629.3 196.6 L628.3 196.6 L627.3 196.6 L626.3 196.6 L625.3 196.6 L624.3 196.6 L623.3 196.6 L622.3 196.6 L621.3 196.6 L620.3 196.6 L619.3 196.6 L618.3 196.6 L617.3 196.6 L616.3 196.6 L615.3 196.6 L614.3 196.6 L613.3 196.6 L612.3 196.6 L611.3 196.6 L610.3 196.6 L609.3 196.6 L608.3 196.6 L607.3 196.6 L606.3 196.6 L605.3 196.6 L604.3 196.6 L603.3 196.6 L602.3 196.6 L601.3 196.5 L600.3 196.5 L599.3 196.5 L598.3 196.5 L597.3 196.5 L596.3 196.5 L595.3 196.5 L594.3 196.5 L593.3 196.5 L592.3 196.5 L591.3 196.5 L590.3 196.5 L589.3 196.5 L588.3 196.5 L587.3 196.5 L586.3 196.5 L585.3 196.5 L584.3 196.5 L583.3 196.5 L582.3 196.5 Z" fill="#8AD0F1"/>
<path d="M549.3 196.2 L550.3 196.2 L551.3 196.2 L552.3 196.2 L553.3 196.2 L554.3 196.2 L555.3 196.2 L556.3 196.2 L557.3 196.2 L558.3 196.2 L559.3 196.2 L560.3 196.2 L561.3 196.2 L562.3 196.2 L563.3 196.2 L564.3 196.2 L565.3 196.2 L566.3 196.2 L567.3 196.2 L568.3 196.2 L569.3 196.2 L570.3 196.2 L571.3 196.2 L572.3 196.1 L573.3 196.1 L574.3 196.1 L575.3 196.1 L576.3 196.1 L577.3 196.1 L578.3 196.0 L579.3 196.0 L580.3 196.0 L581.3 195.9 L582.3 195.9 L583.3 195.8 L584.3 195.8 L585.3 195.7 L586.3 195.6 L587.3 195.6 L588.3 195.5 L589.3 195.4 L590.3 195.3 L591.3 195.1 L592.3 195.0 L593.3 194.8 L594.3 194.6 L595.3 194.5 L596.3 194.2 L597.3 194.0 L598.3 193.7 L599.3 193.5 L600.3 193.1 L601.3 192.8 L602.3 192.4 L603.3 192.0 L604.3 191.6 L605.3 191.1 L606.3 190.6 L607.3 190.1 L608.3 189.5 L609.3 188.8 L610.3 188.1 L611.3 187.4 L612.3 186.6 L613.3 185.8 L614.3 184.9 L615.3 184.0 L616.3 183.0 L617.3 182.0 L618.3 180.9 L619.3 179.8 L620.3 178.6 L621.3 177.4 L622.3 176.1 L623.3 174.8 L624.3 173.4 L625.3 172.0 L626.3 170.5 L627.3 169.0 L628.3 167.5 L629.3 165.9 L630.3 164.4 L631.3 162.7 L632.3 161.1 L633.3 159.5 L634.3 157.8 L635.3 156.2 L636.3 154.6 L637.3 152.9 L638.3 151.3 L639.3 149.8 L640.3 148.2 L641.3 146.7 L642.3 145.3 L643.3 143.9 L644.3 142.5 L645.3 141.3 L646.3 140.1 L647.3 139.0 L648.3 137.9 L649.3 137.0 L650.3 136.1 L651.3 135.4 L652.3 134.7 L653.3 134.2 L654.3 133.8 L655.3 133.5 L656.3 133.3 L657.3 133.2 L658.3 133.2 L659.3 133.4 L660.3 133.7 L661.3 134.1 L662.3 134.6 L663.3 135.3 L664.3 136.1 L665.3 137.0 L666.3 137.9 L667.3 139.0 L668.3 140.2 L669.3 141.5 L670.3 142.8 L671.3 144.2 L672.3 145.7 L673.3 147.2 L674.3 148.8 L675.3 150.4 L676.3 152.1 L677.3 153.8 L678.3 155.5 L679.3 157.2 L680.3 158.9 L681.3 160.6 L682.3 162.3 L683.3 164.0 L684.3 165.7 L685.3 167.3 L686.3 168.9 L687.3 170.5 L688.3 172.0 L689.3 173.5 L690.3 174.9 L691.3 176.3 L692.3 177.7 L693.3 178.9 L694.3 180.2 L695.3 181.3 L696.3 182.4 L697.3 183.5 L698.3 184.5 L699.3 185.5 L700.3 186.3 L701.3 187.2 L702.3 188.0 L703.3 188.7 L704.3 189.4 L705.3 190.0 L706.3 190.6 L707.3 191.1 L708.3 191.6 L709.3 192.1 L710.3 192.5 L711.3 192.9 L712.3 193.3 L713.3 193.6 L714.3 193.9 L715.3 194.2 L716.3 194.4 L717.3 194.6 L718.3 194.8 L719.3 195.0 L720.3 195.2 L721.3 195.3 L722.3 195.4 L723.3 195.6 L724.3 195.7 L725.3 195.7 L726.3 195.8 L727.3 195.9 L728.3 196.0 L729.3 196.0 L730.3 196.1 L731.3 196.1 L732.3 196.1 L733.3 196.2 L734.3 196.2 L735.3 196.2 L736.3 196.3 L737.3 196.3 L738.3 196.3 L739.3 196.3 L740.3 196.3 L741.3 196.3 L742.3 196.3 L743.3 196.3 L744.3 196.4 L745.3 196.4 L746.3 196.4 L747.3 196.4 L748.3 196.4 L749.3 196.4 L750.3 196.4 L751.3 196.4 L752.3 196.4 L753.3 196.4 L754.3 196.4 L755.3 196.4 L756.3 196.4 L757.3 196.4 L758.3 196.4 L759.3 196.4 L760.3 196.4 L761.3 196.4 L761.3 196.7 L760.3 196.7 L759.3 196.7 L758.3 196.7 L757.3 196.7 L756.3 196.7 L755.3 196.7 L754.3 196.7 L753.3 196.7 L752.3 196.7 L751.3 196.7 L750.3 196.7 L749.3 196.7 L748.3 196.7 L747.3 196.7 L746.3 196.7 L745.3 196.7 L744.3 196.7 L743.3 196.7 L742.3 196.7 L741.3 196.7 L740.3 196.7 L739.3 196.7 L738.3 196.7 L737.3 196.7 L736.3 196.7 L735.3 196.7 L734.3 196.7 L733.3 196.7 L732.3 196.7 L731.3 196.7 L730.3 196.7 L729.3 196.7 L728.3 196.7 L727.3 196.7 L726.3 196.7 L725.3 196.7 L724.3 196.7 L723.3 196.7 L722.3 196.7 L721.3 196.7 L720.3 196.7 L719.3 196.7 L718.3 196.7 L717.3 196.7 L716.3 196.7 L715.3 196.7 L714.3 196.7 L713.3 196.7 L712.3 196.7 L711.3 196.7 L710.3 196.7 L709.3 196.7 L708.3 196.7 L707.3 196.6 L706.3 196.6 L705.3 196.6 L704.3 196.6 L703.3 196.6 L702.3 196.6 L701.3 196.6 L700.3 196.6 L699.3 196.6 L698.3 196.6 L697.3 196.6 L696.3 196.6 L695.3 196.6 L694.3 196.6 L693.3 196.6 L692.3 196.6 L691.3 196.6 L690.3 196.6 L689.3 196.6 L688.3 196.6 L687.3 196.6 L686.3 196.6 L685.3 196.6 L684.3 196.6 L683.3 196.6 L682.3 196.6 L681.3 196.6 L680.3 196.6 L679.3 196.6 L678.3 196.6 L677.3 196.6 L676.3 196.6 L675.3 196.6 L674.3 196.6 L673.3 196.6 L672.3 196.6 L671.3 196.6 L670.3 196.6 L669.3 196.6 L668.3 196.6 L667.3 196.6 L666.3 196.6 L665.3 196.6 L664.3 196.6 L663.3 196.6 L662.3 196.6 L661.3 196.6 L660.3 196.6 L659.3 196.6 L658.3 196.6 L657.3 196.6 L656.3 196.6 L655.3 196.6 L654.3 196.6 L653.3 196.6 L652.3 196.6 L651.3 196.6 L650.3 196.6 L649.3 196.6 L648.3 196.6 L647.3 196.6 L646.3 196.6 L645.3 196.6 L644.3 196.6 L643.3 196.6 L642.3 196.6 L641.3 196.6 L640.3 196.6 L639.3 196.6 L638.3 196.6 L637.3 196.6 L636.3 196.6 L635.3 196.6 L634.3 196.6 L633.3 196.6 L632.3 196.6 L631.3 196.6 L630.3 196.6 L629.3 196.6 L628.3 196.6 L627.3 196.6 L626.3 196.6 L625.3 196.6 L624.3 196.6 L623.3 196.6 L622.3 196.6 L621.3 196.6 L620.3 196.6 L619.3 196.6 L618.3 196.6 L617.3 196.6 L616.3 196.6 L615.3 196.6 L614.3 196.6 L613.3 196.6 L612.3 196.6 L611.3 196.6 L610.3 196.6 L609.3 196.6 L608.3 196.6 L607.3 196.6 L606.3 196.6 L605.3 196.6 L604.3 196.6 L603.3 196.6 L602.3 196.6 L601.3 196.5 L600.3 196.5 L599.3 196.5 L598.3 196.5 L597.3 196.5 L596.3 196.5 L595.3 196.5 L594.3 196.5 L593.3 196.5 L592.3 196.5 L591.3 196.5 L590.3 196.5 L589.3 196.5 L588.3 196.5 L587.3 196.5 L586.3 196.5 L585.3 196.5 L584.3 196.5 L583.3 196.5 L582.3 196.5 L581.3 196.5 L580.3 196.5 L579.3 196.5 L578.3 196.5 L577.3 196.5 L576.3 196.5 L575.3 196.5 L574.3 196.5 L573.3 196.5 L572.3 196.5 L571.3 196.5 L570.3 196.5 L569.3 196.5 L568.3 196.5 L567.3 196.5 L566.3 196.5 L565.3 196.5 L564.3 196.5 L563.3 196.5 L562.3 196.5 L561.3 196.5 L560.3 196.5 L559.3 196.5 L558.3 196.5 L557.3 196.5 L556.3 196.5 L555.3 196.5 L554.3 196.5 L553.3 196.5 L552.3 196.5 L551.3 196.5 L550.3 196.5 L549.3 196.5 Z" fill="#C8A3CD"/>
<path d="M636.3 196.2 L637.3 196.2 L638.3 196.2 L639.3 196.2 L640.3 196.2 L641.3 196.1 L642.3 196.1 L643.3 196.0 L644.3 196.0 L645.3 195.9 L646.3 195.8 L647.3 195.7 L648.3 195.5 L649.3 195.4 L650.3 195.2 L651.3 194.9 L652.3 194.6 L653.3 194.3 L654.3 193.9 L655.3 193.4 L656.3 192.9 L657.3 192.3 L658.3 191.6 L659.3 190.7 L660.3 189.8 L661.3 188.7 L662.3 187.5 L663.3 186.1 L664.3 184.5 L665.3 182.8 L666.3 180.9 L667.3 178.8 L668.3 176.4 L669.3 173.8 L670.3 171.0 L671.3 168.0 L672.3 164.7 L673.3 161.2 L674.3 157.5 L675.3 153.5 L676.3 152.1 L677.3 153.8 L678.3 155.5 L679.3 157.2 L680.3 158.9 L681.3 160.6 L682.3 162.3 L683.3 164.0 L684.3 165.7 L685.3 167.3 L686.3 168.9 L687.3 170.5 L688.3 172.0 L689.3 173.5 L690.3 174.9 L691.3 176.3 L692.3 177.7 L693.3 178.9 L694.3 180.2 L695.3 181.3 L696.3 182.4 L697.3 183.5 L698.3 184.5 L699.3 185.5 L700.3 186.3 L701.3 187.2 L702.3 188.0 L703.3 188.7 L704.3 189.4 L705.3 190.0 L706.3 190.6 L707.3 191.1 L708.3 191.6 L709.3 192.1 L710.3 192.5 L711.3 192.9 L712.3 193.3 L713.3 193.6 L714.3 193.9 L715.3 194.2 L716.3 194.4 L717.3 194.6 L718.3 194.8 L719.3 195.0 L720.3 195.2 L721.3 195.3 L722.3 195.4 L723.3 195.6 L724.3 195.7 L725.3 195.7 L726.3 195.8 L727.3 195.9 L728.3 196.0 L729.3 196.0 L730.3 196.1 L731.3 196.1 L732.3 196.1 L733.3 196.2 L734.3 196.2 L735.3 196.2 L736.3 196.3 L737.3 196.3 L738.3 196.3 L739.3 196.3 L740.3 196.3 L741.3 196.3 L741.3 196.7 L740.3 196.7 L739.3 196.7 L738.3 196.7 L737.3 196.7 L736.3 196.7 L735.3 196.7 L734.3 196.7 L733.3 196.7 L732.3 196.7 L731.3 196.7 L730.3 196.7 L729.3 196.7 L728.3 196.7 L727.3 196.7 L726.3 196.7 L725.3 196.7 L724.3 196.7 L723.3 196.7 L722.3 196.7 L721.3 196.7 L720.3 196.7 L719.3 196.7 L718.3 196.7 L717.3 196.7 L716.3 196.7 L715.3 196.7 L714.3 196.7 L713.3 196.7 L712.3 196.7 L711.3 196.7 L710.3 196.7 L709.3 196.7 L708.3 196.7 L707.3 196.6 L706.3 196.6 L705.3 196.6 L704.3 196.6 L703.3 196.6 L702.3 196.6 L701.3 196.6 L700.3 196.6 L699.3 196.6 L698.3 196.6 L697.3 196.6 L696.3 196.6 L695.3 196.6 L694.3 196.6 L693.3 196.6 L692.3 196.6 L691.3 196.6 L690.3 196.6 L689.3 196.6 L688.3 196.6 L687.3 196.6 L686.3 196.6 L685.3 196.6 L684.3 196.6 L683.3 196.6 L682.3 196.6 L681.3 196.6 L680.3 196.6 L679.3 196.6 L678.3 196.6 L677.3 196.6 L676.3 196.6 L675.3 196.6 L674.3 196.6 L673.3 196.6 L672.3 196.6 L671.3 196.6 L670.3 196.6 L669.3 196.6 L668.3 196.6 L667.3 196.6 L666.3 196.6 L665.3 196.6 L664.3 196.6 L663.3 196.6 L662.3 196.6 L661.3 196.6 L660.3 196.6 L659.3 196.6 L658.3 196.6 L657.3 196.6 L656.3 196.6 L655.3 196.6 L654.3 196.6 L653.3 196.6 L652.3 196.6 L651.3 196.6 L650.3 196.6 L649.3 196.6 L648.3 196.6 L647.3 196.6 L646.3 196.6 L645.3 196.6 L644.3 196.6 L643.3 196.6 L642.3 196.6 L641.3 196.6 L640.3 196.6 L639.3 196.6 L638.3 196.6 L637.3 196.6 L636.3 196.6 Z" fill="#8ABAE3"/>
<path d="M549.3 196.5 L550.3 196.5 L551.3 196.5 L552.3 196.5 L553.3 196.5 L554.3 196.5 L555.3 196.5 L556.3 196.5 L557.3 196.5 L558.3 196.5 L559.3 196.5 L560.3 196.5 L561.3 196.5 L562.3 196.5 L563.3 196.5 L564.3 196.5 L565.3 196.5 L566.3 196.5 L567.3 196.5 L568.3 196.5 L569.3 196.5 L570.3 196.5 L571.3 196.5 L572.3 196.5 L573.3 196.5 L574.3 196.5 L575.3 196.5 L576.3 196.5 L577.3 196.5 L578.3 196.5 L579.3 196.5 L580.3 196.5 L581.3 196.5 L582.3 196.5 L583.3 196.5 L584.3 196.5 L585.3 196.5 L586.3 196.5 L587.3 196.5 L588.3 196.5 L589.3 196.5 L590.3 196.5 L591.3 196.5 L592.3 196.5 L593.3 196.5 L594.3 196.5 L595.3 196.5 L596.3 196.5 L597.3 196.5 L598.3 196.5 L599.3 196.5 L600.3 196.5 L601.3 196.5 L602.3 196.6 L603.3 196.6 L604.3 196.6 L605.3 196.6 L606.3 196.6 L607.3 196.6 L608.3 196.6 L609.3 196.6 L610.3 196.6 L611.3 196.6 L612.3 196.6 L613.3 196.6 L614.3 196.6 L615.3 196.6 L616.3 196.6 L617.3 196.6 L618.3 196.6 L619.3 196.6 L620.3 196.6 L621.3 196.6 L622.3 196.6 L623.3 196.6 L624.3 196.6 L625.3 196.6 L626.3 196.6 L627.3 196.6 L628.3 196.6 L629.3 196.6 L630.3 196.6 L631.3 196.6 L632.3 196.6 L633.3 196.6 L634.3 196.6 L635.3 196.6 L636.3 196.6 L637.3 196.6 L638.3 196.6 L639.3 196.6 L640.3 196.6 L641.3 196.6 L642.3 196.6 L643.3 196.6 L644.3 196.6 L645.3 196.6 L646.3 196.6 L647.3 196.6 L648.3 196.6 L649.3 196.6 L650.3 196.6 L651.3 196.6 L652.3 196.6 L653.3 196.6 L654.3 196.6 L655.3 196.6 L656.3 196.6 L657.3 196.6 L658.3 196.6 L659.3 196.6 L660.3 196.6 L661.3 196.6 L662.3 196.6 L663.3 196.6 L664.3 196.6 L665.3 196.6 L666.3 196.6 L667.3 196.6 L668.3 196.6 L669.3 196.6 L670.3 196.6 L671.3 196.6 L672.3 196.6 L673.3 196.6 L674.3 196.6 L675.3 196.6 L676.3 196.6 L677.3 196.6 L678.3 196.6 L679.3 196.6 L680.3 196.6 L681.3 196.6 L682.3 196.6 L683.3 196.6 L684.3 196.6 L685.3 196.6 L686.3 196.6 L687.3 196.6 L688.3 196.6 L689.3 196.6 L690.3 196.6 L691.3 196.6 L692.3 196.6 L693.3 196.6 L694.3 196.6 L695.3 196.6 L696.3 196.6 L697.3 196.6 L698.3 196.6 L699.3 196.6 L700.3 196.6 L701.3 196.6 L702.3 196.6 L703.3 196.6 L704.3 196.6 L705.3 196.6 L706.3 196.6 L707.3 196.6 L708.3 196.7 L709.3 196.7 L710.3 196.7 L711.3 196.7 L712.3 196.7 L713.3 196.7 L714.3 196.7 L715.3 196.7 L716.3 196.7 L717.3 196.7 L718.3 196.7 L719.3 196.7 L720.3 196.7 L721.3 196.7 L722.3 196.7 L723.3 196.7 L724.3 196.7 L725.3 196.7 L726.3 196.7 L727.3 196.7 L728.3 196.7 L729.3 196.7 L730.3 196.7 L731.3 196.7 L732.3 196.7 L733.3 196.7 L734.3 196.7 L735.3 196.7 L736.3 196.7 L737.3 196.7 L738.3 196.7 L739.3 196.7 L740.3 196.7 L741.3 196.7 L742.3 196.7 L743.3 196.7 L744.3 196.7 L745.3 196.7 L746.3 196.7 L747.3 196.7 L748.3 196.7 L749.3 196.7 L750.3 196.7 L751.3 196.7 L752.3 196.7 L753.3 196.7 L754.3 196.7 L755.3 196.7 L756.3 196.7 L757.3 196.7 L758.3 196.7 L759.3 196.7 L760.3 196.7 L761.3 196.7" fill="none" stroke="#8A8A8A" stroke-width="1.3"/>
<path d="M549.3 196.4 L550.3 196.2 L551.3 196.4 L552.3 196.6 L553.3 196.6 L554.3 196.5 L555.3 196.7 L556.3 196.8 L557.3 196.5 L558.3 196.3 L559.3 196.5 L560.3 196.4 L561.3 196.3 L562.3 196.4 L563.3 196.7 L564.3 196.6 L565.3 196.5 L566.3 196.6 L567.3 196.7 L568.3 196.4 L569.3 196.2 L570.3 196.4 L571.3 196.5 L572.3 196.3 L573.3 196.4 L574.3 196.7 L575.3 196.6 L576.3 196.3 L577.3 196.4 L578.3 196.4 L579.3 196.1 L580.3 196.0 L581.3 196.2 L582.3 196.3 L583.3 196.1 L584.3 196.1 L585.3 196.3 L586.3 196.1 L587.3 195.7 L588.3 195.7 L589.3 195.7 L590.3 195.4 L591.3 195.2 L592.3 195.3 L593.3 195.3 L594.3 195.0 L595.3 194.8 L596.3 194.8 L597.3 194.4 L598.3 193.8 L599.3 193.6 L600.3 193.4 L601.3 193.0 L602.3 192.6 L603.3 192.4 L604.3 192.2 L605.3 191.5 L606.3 190.9 L607.3 190.5 L608.3 189.8 L609.3 188.9 L610.3 188.3 L611.3 187.9 L612.3 187.2 L613.3 186.4 L614.3 185.8 L615.3 185.2 L616.3 184.1 L617.3 183.1 L618.3 182.3 L619.3 181.3 L620.3 180.1 L621.3 179.0 L622.3 178.1 L623.3 176.9 L624.3 175.4 L625.3 174.2 L626.3 173.0 L627.3 171.3 L628.3 169.6 L629.3 168.2 L630.3 166.8 L631.3 165.0 L632.3 163.5 L633.3 162.3 L634.3 160.7 L635.3 158.8 L636.3 157.2 L637.3 155.7 L638.3 153.9 L639.3 152.1 L640.3 150.7 L641.3 149.2 L642.3 147.6 L643.3 146.1 L644.3 144.9 L645.3 143.4 L646.3 141.8 L647.3 140.5 L648.3 139.3 L649.3 137.9 L650.3 136.6 L651.3 135.7 L652.3 134.9 L653.3 133.8 L654.3 132.8 L655.3 132.1 L656.3 131.1 L657.3 129.9 L658.3 128.9 L659.3 128.1 L660.3 127.0 L661.3 125.8 L662.3 125.0 L663.3 124.3 L664.3 123.1 L665.3 122.1 L666.3 121.3 L667.3 120.5 L668.3 119.3 L669.3 118.4 L670.3 117.7 L671.3 116.7 L672.3 115.4 L673.3 114.2 L674.3 112.8 L675.3 110.9 L676.3 108.6 L677.3 106.4 L678.3 103.8 L679.3 100.8 L680.3 97.8 L681.3 95.0 L682.3 91.8 L683.3 88.3 L684.3 85.0 L685.3 81.6 L686.3 77.9 L687.3 74.1 L688.3 70.8 L689.3 67.5 L690.3 64.1 L691.3 61.0 L692.3 58.6 L693.3 56.1 L694.3 53.5 L695.3 51.2 L696.3 49.6 L697.3 48.5 L698.3 48.2 L699.3 48.6 L700.3 49.6 L701.3 50.6 L702.3 52.3 L703.3 55.2 L704.3 58.6 L705.3 62.4 L706.3 66.7 L707.3 70.9 L708.3 75.1 L709.3 79.6 L710.3 84.8 L711.3 90.4 L712.3 95.8 L713.3 101.3 L714.3 107.1 L715.3 112.7 L716.3 117.8 L717.3 123.0 L718.3 128.3 L719.3 133.2 L720.3 137.8 L721.3 142.5 L722.3 147.2 L723.3 151.4 L724.3 155.2 L725.3 159.2 L726.3 162.7 L727.3 165.8 L728.3 168.7 L729.3 171.7 L730.3 174.4 L731.3 176.7 L732.3 179.0 L733.3 181.4 L734.3 183.2 L735.3 184.6 L736.3 186.2 L737.3 187.6 L738.3 188.6 L739.3 189.5 L740.3 190.7 L741.3 191.6 L742.3 192.2 L743.3 193.0 L744.3 193.8 L745.3 194.1 L746.3 194.2 L747.3 194.6 L748.3 194.9 L749.3 195.0 L750.3 195.1 L751.3 195.5 L752.3 195.9 L753.3 195.9 L754.3 196.1 L755.3 196.4 L756.3 196.4 L757.3 196.2 L758.3 196.3 L759.3 196.5 L760.3 196.4 L761.3 196.3" fill="none" stroke="#111" stroke-width="1.35" stroke-dasharray="6.5 2.6" stroke-linejoin="round"/>
<path d="M549.3 196.2 L550.3 196.2 L551.3 196.2 L552.3 196.2 L553.3 196.2 L554.3 196.2 L555.3 196.2 L556.3 196.2 L557.3 196.2 L558.3 196.2 L559.3 196.2 L560.3 196.2 L561.3 196.2 L562.3 196.2 L563.3 196.2 L564.3 196.2 L565.3 196.2 L566.3 196.2 L567.3 196.2 L568.3 196.2 L569.3 196.2 L570.3 196.2 L571.3 196.2 L572.3 196.1 L573.3 196.1 L574.3 196.1 L575.3 196.1 L576.3 196.1 L577.3 196.1 L578.3 196.0 L579.3 196.0 L580.3 196.0 L581.3 195.9 L582.3 195.9 L583.3 195.8 L584.3 195.8 L585.3 195.7 L586.3 195.6 L587.3 195.6 L588.3 195.5 L589.3 195.4 L590.3 195.3 L591.3 195.1 L592.3 195.0 L593.3 194.8 L594.3 194.6 L595.3 194.5 L596.3 194.2 L597.3 194.0 L598.3 193.7 L599.3 193.5 L600.3 193.1 L601.3 192.8 L602.3 192.4 L603.3 192.0 L604.3 191.6 L605.3 191.1 L606.3 190.6 L607.3 190.1 L608.3 189.5 L609.3 188.8 L610.3 188.1 L611.3 187.4 L612.3 186.6 L613.3 185.8 L614.3 184.9 L615.3 184.0 L616.3 183.0 L617.3 182.0 L618.3 180.9 L619.3 179.8 L620.3 178.6 L621.3 177.4 L622.3 176.1 L623.3 174.8 L624.3 173.4 L625.3 172.0 L626.3 170.5 L627.3 169.0 L628.3 167.5 L629.3 165.9 L630.3 164.3 L631.3 162.7 L632.3 161.1 L633.3 159.5 L634.3 157.8 L635.3 156.2 L636.3 154.5 L637.3 152.9 L638.3 151.3 L639.3 149.7 L640.3 148.1 L641.3 146.6 L642.3 145.1 L643.3 143.6 L644.3 142.2 L645.3 140.9 L646.3 139.6 L647.3 138.3 L648.3 137.1 L649.3 136.0 L650.3 135.0 L651.3 133.9 L652.3 133.0 L653.3 132.0 L654.3 131.1 L655.3 130.2 L656.3 129.2 L657.3 128.3 L658.3 127.3 L659.3 126.3 L660.3 125.2 L661.3 124.2 L662.3 123.2 L663.3 122.3 L664.3 121.3 L665.3 120.5 L666.3 119.6 L667.3 118.8 L668.3 117.9 L669.3 116.9 L670.3 115.8 L671.3 114.5 L672.3 113.1 L673.3 111.4 L674.3 109.4 L675.3 107.2 L676.3 104.8 L677.3 102.2 L678.3 99.3 L679.3 96.3 L680.3 93.1 L681.3 89.7 L682.3 86.3 L683.3 82.8 L684.3 79.3 L685.3 75.7 L686.3 72.3 L687.3 68.8 L688.3 65.6 L689.3 62.4 L690.3 59.5 L691.3 56.9 L692.3 54.5 L693.3 52.5 L694.3 50.8 L695.3 49.5 L696.3 48.6 L697.3 48.1 L698.3 48.1 L699.3 48.5 L700.3 49.3 L701.3 50.4 L702.3 52.0 L703.3 53.9 L704.3 56.1 L705.3 58.8 L706.3 61.9 L707.3 65.3 L708.3 69.2 L709.3 73.5 L710.3 78.2 L711.3 83.2 L712.3 88.4 L713.3 93.8 L714.3 99.3 L715.3 104.9 L716.3 110.4 L717.3 115.9 L718.3 121.3 L719.3 126.5 L720.3 131.5 L721.3 136.3 L722.3 141.0 L723.3 145.5 L724.3 149.7 L725.3 153.8 L726.3 157.6 L727.3 161.2 L728.3 164.6 L729.3 167.7 L730.3 170.6 L731.3 173.4 L732.3 175.9 L733.3 178.1 L734.3 180.2 L735.3 182.1 L736.3 183.9 L737.3 185.4 L738.3 186.8 L739.3 188.1 L740.3 189.2 L741.3 190.2 L742.3 191.0 L743.3 191.8 L744.3 192.5 L745.3 193.0 L746.3 193.5 L747.3 194.0 L748.3 194.4 L749.3 194.7 L750.3 195.0 L751.3 195.2 L752.3 195.4 L753.3 195.6 L754.3 195.7 L755.3 195.8 L756.3 195.9 L757.3 196.0 L758.3 196.1 L759.3 196.2 L760.3 196.2 L761.3 196.2" fill="none" stroke="#EE1C25" stroke-width="1.55" stroke-linejoin="round"/>
<path d="M549.3 375.6 L550.3 375.5 L551.3 375.5 L552.3 375.5 L553.3 375.5 L554.3 375.4 L555.3 375.4 L556.3 375.4 L557.3 375.3 L558.3 375.3 L559.3 375.3 L560.3 375.3 L561.3 375.2 L562.3 375.2 L563.3 375.1 L564.3 375.1 L565.3 375.1 L566.3 375.0 L567.3 375.0 L568.3 374.9 L569.3 374.9 L570.3 374.8 L571.3 374.8 L572.3 374.7 L573.3 374.7 L574.3 374.6 L575.3 374.6 L576.3 374.5 L577.3 374.4 L578.3 374.4 L579.3 374.3 L580.3 374.2 L581.3 374.1 L582.3 374.0 L583.3 373.9 L584.3 373.8 L585.3 373.7 L586.3 373.6 L587.3 373.5 L588.3 373.4 L589.3 373.2 L590.3 373.0 L591.3 372.9 L592.3 372.7 L593.3 372.5 L594.3 372.2 L595.3 371.9 L596.3 371.6 L597.3 371.3 L598.3 370.9 L599.3 370.5 L600.3 370.0 L601.3 369.5 L602.3 368.9 L603.3 368.3 L604.3 367.5 L605.3 366.7 L606.3 365.8 L607.3 364.8 L608.3 363.6 L609.3 362.4 L610.3 361.0 L611.3 359.5 L612.3 357.8 L613.3 355.9 L614.3 353.9 L615.3 351.7 L616.3 349.3 L617.3 346.7 L618.3 343.9 L619.3 340.9 L620.3 337.6 L621.3 334.2 L622.3 330.5 L623.3 326.7 L624.3 322.6 L625.3 318.3 L626.3 313.9 L627.3 309.2 L628.3 304.4 L629.3 299.5 L630.3 294.5 L631.3 289.5 L632.3 284.5 L633.3 279.5 L634.3 274.6 L635.3 269.9 L636.3 265.4 L637.3 261.0 L638.3 256.8 L639.3 252.7 L640.3 248.7 L641.3 244.8 L642.3 240.9 L643.3 237.3 L644.3 234.0 L645.3 231.1 L646.3 228.8 L647.3 227.2 L648.3 226.3 L649.3 226.0 L650.3 226.5 L651.3 227.5 L652.3 229.1 L653.3 231.4 L654.3 234.1 L655.3 237.4 L656.3 241.1 L657.3 245.1 L658.3 249.5 L659.3 254.0 L660.3 258.7 L661.3 263.4 L662.3 268.1 L663.3 272.8 L664.3 277.6 L665.3 282.4 L666.3 287.2 L667.3 292.1 L668.3 296.9 L669.3 301.8 L670.3 306.6 L671.3 311.3 L672.3 315.9 L673.3 320.3 L674.3 324.6 L675.3 328.7 L676.3 332.6 L677.3 336.3 L678.3 339.7 L679.3 343.0 L680.3 346.1 L681.3 348.9 L682.3 351.6 L683.3 354.0 L684.3 356.3 L685.3 358.3 L686.3 360.2 L687.3 362.0 L688.3 363.5 L689.3 365.0 L690.3 366.3 L691.3 367.4 L692.3 368.5 L693.3 369.4 L694.3 370.2 L695.3 371.0 L696.3 371.6 L697.3 372.2 L698.3 372.7 L699.3 373.2 L700.3 373.6 L701.3 374.0 L702.3 374.3 L703.3 374.6 L704.3 374.8 L705.3 375.0 L706.3 375.2 L707.3 375.4 L708.3 375.5 L709.3 375.7 L710.3 375.8 L711.3 375.9 L712.3 376.0 L713.3 376.1 L714.3 376.2 L715.3 376.3 L716.3 376.3 L717.3 376.4 L718.3 376.4 L719.3 376.5 L720.3 376.5 L721.3 376.6 L722.3 376.6 L723.3 376.7 L724.3 376.7 L725.3 376.8 L726.3 376.8 L727.3 376.8 L728.3 376.9 L729.3 376.9 L730.3 376.9 L731.3 377.0 L732.3 377.0 L733.3 377.0 L734.3 377.0 L735.3 377.1 L736.3 377.1 L737.3 377.1 L738.3 377.2 L739.3 377.2 L740.3 377.2 L741.3 377.2 L742.3 377.3 L743.3 377.3 L744.3 377.3 L745.3 377.3 L746.3 377.3 L747.3 377.4 L748.3 377.4 L749.3 377.4 L750.3 377.4 L751.3 377.4 L752.3 377.5 L753.3 377.5 L754.3 377.5 L755.3 377.5 L756.3 377.5 L757.3 377.5 L758.3 377.6 L759.3 377.6 L760.3 377.6 L761.3 377.6 L761.3 378.5 L760.3 378.5 L759.3 378.5 L758.3 378.5 L757.3 378.5 L756.3 378.5 L755.3 378.5 L754.3 378.5 L753.3 378.5 L752.3 378.5 L751.3 378.4 L750.3 378.4 L749.3 378.4 L748.3 378.4 L747.3 378.4 L746.3 378.4 L745.3 378.4 L744.3 378.4 L743.3 378.4 L742.3 378.4 L741.3 378.4 L740.3 378.4 L739.3 378.4 L738.3 378.4 L737.3 378.4 L736.3 378.4 L735.3 378.4 L734.3 378.3 L733.3 378.3 L732.3 378.3 L731.3 378.3 L730.3 378.3 L729.3 378.3 L728.3 378.3 L727.3 378.3 L726.3 378.3 L725.3 378.3 L724.3 378.3 L723.3 378.3 L722.3 378.3 L721.3 378.3 L720.3 378.3 L719.3 378.3 L718.3 378.3 L717.3 378.3 L716.3 378.2 L715.3 378.2 L714.3 378.2 L713.3 378.2 L712.3 378.2 L711.3 378.2 L710.3 378.2 L709.3 378.2 L708.3 378.2 L707.3 378.2 L706.3 378.2 L705.3 378.2 L704.3 378.2 L703.3 378.2 L702.3 378.2 L701.3 378.2 L700.3 378.2 L699.3 378.2 L698.3 378.1 L697.3 378.1 L696.3 378.1 L695.3 378.1 L694.3 378.1 L693.3 378.1 L692.3 378.1 L691.3 378.1 L690.3 378.1 L689.3 378.1 L688.3 378.1 L687.3 378.1 L686.3 378.1 L685.3 378.1 L684.3 378.1 L683.3 378.1 L682.3 378.1 L681.3 378.0 L680.3 378.0 L679.3 378.0 L678.3 378.0 L677.3 378.0 L676.3 378.0 L675.3 378.0 L674.3 378.0 L673.3 378.0 L672.3 378.0 L671.3 378.0 L670.3 378.0 L669.3 378.0 L668.3 378.0 L667.3 378.0 L666.3 378.0 L665.3 378.0 L664.3 378.0 L663.3 377.9 L662.3 377.9 L661.3 377.9 L660.3 377.9 L659.3 377.9 L658.3 377.9 L657.3 377.9 L656.3 377.9 L655.3 377.9 L654.3 377.9 L653.3 377.9 L652.3 377.9 L651.3 377.9 L650.3 377.9 L649.3 377.9 L648.3 377.9 L647.3 377.9 L646.3 377.9 L645.3 377.8 L644.3 377.8 L643.3 377.8 L642.3 377.8 L641.3 377.8 L640.3 377.8 L639.3 377.8 L638.3 377.8 L637.3 377.8 L636.3 377.8 L635.3 377.8 L634.3 377.8 L633.3 377.8 L632.3 377.8 L631.3 377.8 L630.3 377.8 L629.3 377.8 L628.3 377.7 L627.3 377.7 L626.3 377.7 L625.3 377.7 L624.3 377.7 L623.3 377.7 L622.3 377.7 L621.3 377.7 L620.3 377.7 L619.3 377.7 L618.3 377.7 L617.3 377.7 L616.3 377.7 L615.3 377.7 L614.3 377.7 L613.3 377.7 L612.3 377.7 L611.3 377.7 L610.3 377.6 L609.3 377.6 L608.3 377.6 L607.3 377.6 L606.3 377.6 L605.3 377.6 L604.3 377.6 L603.3 377.6 L602.3 377.6 L601.3 377.6 L600.3 377.6 L599.3 377.6 L598.3 377.6 L597.3 377.6 L596.3 377.6 L595.3 377.6 L594.3 377.6 L593.3 377.6 L592.3 377.5 L591.3 377.5 L590.3 377.5 L589.3 377.5 L588.3 377.5 L587.3 377.5 L586.3 377.5 L585.3 377.5 L584.3 377.5 L583.3 377.5 L582.3 377.5 L581.3 377.5 L580.3 377.5 L579.3 377.5 L578.3 377.5 L577.3 377.5 L576.3 377.5 L575.3 377.4 L574.3 377.4 L573.3 377.4 L572.3 377.4 L571.3 377.4 L570.3 377.4 L569.3 377.4 L568.3 377.4 L567.3 377.4 L566.3 377.4 L565.3 377.4 L564.3 377.4 L563.3 377.4 L562.3 377.4 L561.3 377.4 L560.3 377.4 L559.3 377.4 L558.3 377.4 L557.3 377.3 L556.3 377.3 L555.3 377.3 L554.3 377.3 L553.3 377.3 L552.3 377.3 L551.3 377.3 L550.3 377.3 L549.3 377.3 Z" fill="#D7B4D5"/>
<path d="M609.3 377.3 L610.3 377.3 L611.3 377.4 L612.3 377.4 L613.3 377.4 L614.3 377.4 L615.3 377.4 L616.3 377.4 L617.3 377.4 L618.3 377.4 L619.3 377.4 L620.3 377.4 L621.3 377.4 L622.3 377.4 L623.3 377.4 L624.3 377.4 L625.3 377.4 L626.3 377.4 L627.3 377.4 L628.3 377.4 L629.3 377.5 L630.3 377.5 L631.3 377.5 L632.3 377.5 L633.3 377.5 L634.3 377.5 L635.3 377.5 L636.3 377.5 L637.3 377.5 L638.3 377.5 L639.3 377.5 L640.3 377.5 L641.3 377.5 L642.3 377.5 L643.3 377.5 L644.3 377.5 L645.3 377.5 L646.3 377.6 L647.3 377.6 L648.3 377.6 L649.3 377.6 L650.3 377.6 L651.3 377.6 L652.3 377.6 L653.3 377.6 L654.3 377.6 L655.3 377.6 L656.3 377.6 L657.3 377.6 L658.3 377.6 L659.3 377.6 L660.3 377.6 L661.3 377.6 L662.3 377.6 L663.3 377.6 L664.3 377.6 L665.3 377.6 L666.3 377.6 L667.3 377.5 L668.3 377.5 L669.3 377.5 L670.3 377.4 L671.3 377.4 L672.3 377.3 L673.3 377.2 L674.3 377.1 L675.3 376.9 L676.3 376.7 L677.3 376.5 L678.3 376.3 L679.3 376.0 L680.3 375.7 L681.3 375.4 L682.3 375.0 L683.3 374.6 L684.3 374.1 L685.3 373.7 L686.3 373.1 L687.3 372.6 L688.3 372.1 L689.3 371.5 L690.3 371.0 L691.3 370.5 L692.3 369.9 L693.3 369.5 L694.3 369.0 L695.3 368.7 L696.3 368.3 L697.3 368.1 L698.3 367.9 L699.3 367.8 L700.3 367.8 L701.3 367.9 L702.3 368.0 L703.3 368.1 L704.3 368.4 L705.3 368.6 L706.3 368.9 L707.3 369.3 L708.3 369.7 L709.3 370.1 L710.3 370.6 L711.3 371.0 L712.3 371.5 L713.3 372.0 L714.3 372.4 L715.3 372.9 L716.3 373.4 L717.3 373.8 L718.3 374.2 L719.3 374.6 L720.3 375.0 L721.3 375.3 L722.3 375.7 L723.3 376.0 L724.3 376.2 L725.3 376.5 L726.3 376.7 L727.3 376.9 L728.3 377.1 L729.3 377.2 L730.3 377.4 L731.3 377.5 L732.3 377.6 L733.3 377.7 L734.3 377.7 L735.3 377.8 L736.3 377.9 L737.3 377.9 L738.3 377.9 L739.3 378.0 L740.3 378.0 L741.3 378.0 L742.3 378.0 L743.3 378.1 L744.3 378.1 L745.3 378.1 L746.3 378.1 L747.3 378.1 L748.3 378.1 L749.3 378.1 L750.3 378.1 L751.3 378.1 L752.3 378.1 L753.3 378.2 L754.3 378.2 L755.3 378.2 L756.3 378.2 L757.3 378.2 L758.3 378.2 L759.3 378.2 L760.3 378.2 L761.3 378.2 L761.3 378.5 L760.3 378.5 L759.3 378.5 L758.3 378.5 L757.3 378.5 L756.3 378.5 L755.3 378.5 L754.3 378.5 L753.3 378.5 L752.3 378.5 L751.3 378.4 L750.3 378.4 L749.3 378.4 L748.3 378.4 L747.3 378.4 L746.3 378.4 L745.3 378.4 L744.3 378.4 L743.3 378.4 L742.3 378.4 L741.3 378.4 L740.3 378.4 L739.3 378.4 L738.3 378.4 L737.3 378.4 L736.3 378.4 L735.3 378.4 L734.3 378.3 L733.3 378.3 L732.3 378.3 L731.3 378.3 L730.3 378.3 L729.3 378.3 L728.3 378.3 L727.3 378.3 L726.3 378.3 L725.3 378.3 L724.3 378.3 L723.3 378.3 L722.3 378.3 L721.3 378.3 L720.3 378.3 L719.3 378.3 L718.3 378.3 L717.3 378.3 L716.3 378.2 L715.3 378.2 L714.3 378.2 L713.3 378.2 L712.3 378.2 L711.3 378.2 L710.3 378.2 L709.3 378.2 L708.3 378.2 L707.3 378.2 L706.3 378.2 L705.3 378.2 L704.3 378.2 L703.3 378.2 L702.3 378.2 L701.3 378.2 L700.3 378.2 L699.3 378.2 L698.3 378.1 L697.3 378.1 L696.3 378.1 L695.3 378.1 L694.3 378.1 L693.3 378.1 L692.3 378.1 L691.3 378.1 L690.3 378.1 L689.3 378.1 L688.3 378.1 L687.3 378.1 L686.3 378.1 L685.3 378.1 L684.3 378.1 L683.3 378.1 L682.3 378.1 L681.3 378.0 L680.3 378.0 L679.3 378.0 L678.3 378.0 L677.3 378.0 L676.3 378.0 L675.3 378.0 L674.3 378.0 L673.3 378.0 L672.3 378.0 L671.3 378.0 L670.3 378.0 L669.3 378.0 L668.3 378.0 L667.3 378.0 L666.3 378.0 L665.3 378.0 L664.3 378.0 L663.3 377.9 L662.3 377.9 L661.3 377.9 L660.3 377.9 L659.3 377.9 L658.3 377.9 L657.3 377.9 L656.3 377.9 L655.3 377.9 L654.3 377.9 L653.3 377.9 L652.3 377.9 L651.3 377.9 L650.3 377.9 L649.3 377.9 L648.3 377.9 L647.3 377.9 L646.3 377.9 L645.3 377.8 L644.3 377.8 L643.3 377.8 L642.3 377.8 L641.3 377.8 L640.3 377.8 L639.3 377.8 L638.3 377.8 L637.3 377.8 L636.3 377.8 L635.3 377.8 L634.3 377.8 L633.3 377.8 L632.3 377.8 L631.3 377.8 L630.3 377.8 L629.3 377.8 L628.3 377.7 L627.3 377.7 L626.3 377.7 L625.3 377.7 L624.3 377.7 L623.3 377.7 L622.3 377.7 L621.3 377.7 L620.3 377.7 L619.3 377.7 L618.3 377.7 L617.3 377.7 L616.3 377.7 L615.3 377.7 L614.3 377.7 L613.3 377.7 L612.3 377.7 L611.3 377.7 L610.3 377.6 L609.3 377.6 Z" fill="#7CC6EE"/>
<path d="M549.3 377.3 L550.3 377.3 L551.3 377.3 L552.3 377.3 L553.3 377.3 L554.3 377.3 L555.3 377.3 L556.3 377.3 L557.3 377.3 L558.3 377.4 L559.3 377.4 L560.3 377.4 L561.3 377.4 L562.3 377.4 L563.3 377.4 L564.3 377.4 L565.3 377.4 L566.3 377.4 L567.3 377.4 L568.3 377.4 L569.3 377.4 L570.3 377.4 L571.3 377.4 L572.3 377.4 L573.3 377.4 L574.3 377.4 L575.3 377.4 L576.3 377.5 L577.3 377.5 L578.3 377.5 L579.3 377.5 L580.3 377.5 L581.3 377.5 L582.3 377.5 L583.3 377.5 L584.3 377.5 L585.3 377.5 L586.3 377.5 L587.3 377.5 L588.3 377.5 L589.3 377.5 L590.3 377.5 L591.3 377.5 L592.3 377.5 L593.3 377.6 L594.3 377.6 L595.3 377.6 L596.3 377.6 L597.3 377.6 L598.3 377.6 L599.3 377.6 L600.3 377.6 L601.3 377.6 L602.3 377.6 L603.3 377.6 L604.3 377.6 L605.3 377.6 L606.3 377.6 L607.3 377.6 L608.3 377.6 L609.3 377.6 L610.3 377.6 L611.3 377.7 L612.3 377.7 L613.3 377.7 L614.3 377.7 L615.3 377.7 L616.3 377.7 L617.3 377.7 L618.3 377.7 L619.3 377.7 L620.3 377.7 L621.3 377.7 L622.3 377.7 L623.3 377.7 L624.3 377.7 L625.3 377.7 L626.3 377.7 L627.3 377.7 L628.3 377.7 L629.3 377.8 L630.3 377.8 L631.3 377.8 L632.3 377.8 L633.3 377.8 L634.3 377.8 L635.3 377.8 L636.3 377.8 L637.3 377.8 L638.3 377.8 L639.3 377.8 L640.3 377.8 L641.3 377.8 L642.3 377.8 L643.3 377.8 L644.3 377.8 L645.3 377.8 L646.3 377.9 L647.3 377.9 L648.3 377.9 L649.3 377.9 L650.3 377.9 L651.3 377.9 L652.3 377.9 L653.3 377.9 L654.3 377.9 L655.3 377.9 L656.3 377.9 L657.3 377.9 L658.3 377.9 L659.3 377.9 L660.3 377.9 L661.3 377.9 L662.3 377.9 L663.3 377.9 L664.3 378.0 L665.3 378.0 L666.3 378.0 L667.3 378.0 L668.3 378.0 L669.3 378.0 L670.3 378.0 L671.3 378.0 L672.3 378.0 L673.3 378.0 L674.3 378.0 L675.3 378.0 L676.3 378.0 L677.3 378.0 L678.3 378.0 L679.3 378.0 L680.3 378.0 L681.3 378.0 L682.3 378.1 L683.3 378.1 L684.3 378.1 L685.3 378.1 L686.3 378.1 L687.3 378.1 L688.3 378.1 L689.3 378.1 L690.3 378.1 L691.3 378.1 L692.3 378.1 L693.3 378.1 L694.3 378.1 L695.3 378.1 L696.3 378.1 L697.3 378.1 L698.3 378.1 L699.3 378.2 L700.3 378.2 L701.3 378.2 L702.3 378.2 L703.3 378.2 L704.3 378.2 L705.3 378.2 L706.3 378.2 L707.3 378.2 L708.3 378.2 L709.3 378.2 L710.3 378.2 L711.3 378.2 L712.3 378.2 L713.3 378.2 L714.3 378.2 L715.3 378.2 L716.3 378.2 L717.3 378.3 L718.3 378.3 L719.3 378.3 L720.3 378.3 L721.3 378.3 L722.3 378.3 L723.3 378.3 L724.3 378.3 L725.3 378.3 L726.3 378.3 L727.3 378.3 L728.3 378.3 L729.3 378.3 L730.3 378.3 L731.3 378.3 L732.3 378.3 L733.3 378.3 L734.3 378.3 L735.3 378.4 L736.3 378.4 L737.3 378.4 L738.3 378.4 L739.3 378.4 L740.3 378.4 L741.3 378.4 L742.3 378.4 L743.3 378.4 L744.3 378.4 L745.3 378.4 L746.3 378.4 L747.3 378.4 L748.3 378.4 L749.3 378.4 L750.3 378.4 L751.3 378.4 L752.3 378.5 L753.3 378.5 L754.3 378.5 L755.3 378.5 L756.3 378.5 L757.3 378.5 L758.3 378.5 L759.3 378.5 L760.3 378.5 L761.3 378.5" fill="none" stroke="#8A8A8A" stroke-width="1.3"/>
<path d="M549.3 375.9 L550.3 375.9 L551.3 376.1 L552.3 376.1 L553.3 375.8 L554.3 375.8 L555.3 375.8 L556.3 375.6 L557.3 375.4 L558.3 375.6 L559.3 375.8 L560.3 375.6 L561.3 375.6 L562.3 375.8 L563.3 375.7 L564.3 375.4 L565.3 375.2 L566.3 375.4 L567.3 375.2 L568.3 375.0 L569.3 375.2 L570.3 375.4 L571.3 375.2 L572.3 375.1 L573.3 375.2 L574.3 375.1 L575.3 374.7 L576.3 374.6 L577.3 374.7 L578.3 374.6 L579.3 374.4 L580.3 374.6 L581.3 374.7 L582.3 374.4 L583.3 374.1 L584.3 374.0 L585.3 373.9 L586.3 373.4 L587.3 373.2 L588.3 373.3 L589.3 373.1 L590.3 372.8 L591.3 372.7 L592.3 372.7 L593.3 372.2 L594.3 371.7 L595.3 371.5 L596.3 371.2 L597.3 370.6 L598.3 370.2 L599.3 370.0 L600.3 369.5 L601.3 368.8 L602.3 368.1 L603.3 367.5 L604.3 366.5 L605.3 365.3 L606.3 364.3 L607.3 363.3 L608.3 361.9 L609.3 360.4 L610.3 359.1 L611.3 357.5 L612.3 355.4 L613.3 353.2 L614.3 351.1 L615.3 348.5 L616.3 345.6 L617.3 342.8 L618.3 340.0 L619.3 336.6 L620.3 333.1 L621.3 329.6 L622.3 325.7 L623.3 321.3 L624.3 316.9 L625.3 312.5 L626.3 307.7 L627.3 302.7 L628.3 298.1 L629.3 294.1 L630.3 289.7 L631.3 285.2 L632.3 281.1 L633.3 276.9 L634.3 272.5 L635.3 268.3 L636.3 264.4 L637.3 260.0 L638.3 255.6 L639.3 251.6 L640.3 247.9 L641.3 243.8 L642.3 239.8 L643.3 236.3 L644.3 233.1 L645.3 230.1 L646.3 227.9 L647.3 226.7 L648.3 226.1 L649.3 226.1 L650.3 227.3 L651.3 229.5 L652.3 232.0 L653.3 234.6 L654.3 238.0 L655.3 241.9 L656.3 245.8 L657.3 250.1 L658.3 254.9 L659.3 259.7 L660.3 264.3 L661.3 269.0 L662.3 274.0 L663.3 278.6 L664.3 283.1 L665.3 287.9 L666.3 292.9 L667.3 297.6 L668.3 302.3 L669.3 307.3 L670.3 312.1 L671.3 316.4 L672.3 320.7 L673.3 324.9 L674.3 328.7 L675.3 332.1 L676.3 335.5 L677.3 338.9 L678.3 341.8 L679.3 344.4 L680.3 347.1 L681.3 349.5 L682.3 351.2 L683.3 352.5 L684.3 353.9 L685.3 355.0 L686.3 355.7 L687.3 356.5 L688.3 357.5 L689.3 358.2 L690.3 358.7 L691.3 359.3 L692.3 359.9 L693.3 360.1 L694.3 360.3 L695.3 360.8 L696.3 361.1 L697.3 361.2 L698.3 361.6 L699.3 362.3 L700.3 362.7 L701.3 363.0 L702.3 363.5 L703.3 364.0 L704.3 364.3 L705.3 364.5 L706.3 365.2 L707.3 365.8 L708.3 366.2 L709.3 366.8 L710.3 367.7 L711.3 368.3 L712.3 368.6 L713.3 369.2 L714.3 369.8 L715.3 370.1 L716.3 370.4 L717.3 371.1 L718.3 371.8 L719.3 372.1 L720.3 372.6 L721.3 373.2 L722.3 373.6 L723.3 373.6 L724.3 373.9 L725.3 374.3 L726.3 374.4 L727.3 374.4 L728.3 374.9 L729.3 375.5 L730.3 375.7 L731.3 376.0 L732.3 376.5 L733.3 376.7 L734.3 376.7 L735.3 376.9 L736.3 377.3 L737.3 377.3 L738.3 377.2 L739.3 377.5 L740.3 377.8 L741.3 377.7 L742.3 377.6 L743.3 377.7 L744.3 377.8 L745.3 377.5 L746.3 377.5 L747.3 377.7 L748.3 377.8 L749.3 377.7 L750.3 377.9 L751.3 378.1 L752.3 378.0 L753.3 377.8 L754.3 377.9 L755.3 377.9 L756.3 377.7 L757.3 377.7 L758.3 378.0 L759.3 378.1 L760.3 378.0 L761.3 378.1" fill="none" stroke="#111" stroke-width="1.35" stroke-dasharray="6.5 2.6" stroke-linejoin="round"/>
<path d="M549.3 375.6 L550.3 375.5 L551.3 375.5 L552.3 375.5 L553.3 375.5 L554.3 375.4 L555.3 375.4 L556.3 375.4 L557.3 375.3 L558.3 375.3 L559.3 375.3 L560.3 375.3 L561.3 375.2 L562.3 375.2 L563.3 375.1 L564.3 375.1 L565.3 375.1 L566.3 375.0 L567.3 375.0 L568.3 374.9 L569.3 374.9 L570.3 374.8 L571.3 374.8 L572.3 374.7 L573.3 374.7 L574.3 374.6 L575.3 374.6 L576.3 374.5 L577.3 374.4 L578.3 374.4 L579.3 374.3 L580.3 374.2 L581.3 374.1 L582.3 374.0 L583.3 373.9 L584.3 373.8 L585.3 373.7 L586.3 373.6 L587.3 373.5 L588.3 373.4 L589.3 373.2 L590.3 373.0 L591.3 372.9 L592.3 372.7 L593.3 372.5 L594.3 372.2 L595.3 371.9 L596.3 371.6 L597.3 371.3 L598.3 370.9 L599.3 370.5 L600.3 370.0 L601.3 369.5 L602.3 368.9 L603.3 368.3 L604.3 367.5 L605.3 366.7 L606.3 365.8 L607.3 364.8 L608.3 363.6 L609.3 362.4 L610.3 361.0 L611.3 359.5 L612.3 357.8 L613.3 355.9 L614.3 353.9 L615.3 351.7 L616.3 349.3 L617.3 346.7 L618.3 343.9 L619.3 340.9 L620.3 337.6 L621.3 334.2 L622.3 330.5 L623.3 326.7 L624.3 322.6 L625.3 318.3 L626.3 313.9 L627.3 309.2 L628.3 304.4 L629.3 299.5 L630.3 294.5 L631.3 289.5 L632.3 284.5 L633.3 279.5 L634.3 274.6 L635.3 269.9 L636.3 265.4 L637.3 261.0 L638.3 256.8 L639.3 252.7 L640.3 248.7 L641.3 244.8 L642.3 240.9 L643.3 237.3 L644.3 234.0 L645.3 231.1 L646.3 228.8 L647.3 227.2 L648.3 226.3 L649.3 226.0 L650.3 226.5 L651.3 227.5 L652.3 229.1 L653.3 231.4 L654.3 234.1 L655.3 237.4 L656.3 241.1 L657.3 245.1 L658.3 249.5 L659.3 254.0 L660.3 258.7 L661.3 263.3 L662.3 268.1 L663.3 272.8 L664.3 277.5 L665.3 282.3 L666.3 287.1 L667.3 291.9 L668.3 296.8 L669.3 301.6 L670.3 306.3 L671.3 311.0 L672.3 315.5 L673.3 319.8 L674.3 323.9 L675.3 327.9 L676.3 331.6 L677.3 335.1 L678.3 338.3 L679.3 341.3 L680.3 344.0 L681.3 346.5 L682.3 348.8 L683.3 350.8 L684.3 352.6 L685.3 354.2 L686.3 355.6 L687.3 356.8 L688.3 357.8 L689.3 358.7 L690.3 359.4 L691.3 360.1 L692.3 360.6 L693.3 361.0 L694.3 361.4 L695.3 361.8 L696.3 362.1 L697.3 362.5 L698.3 362.8 L699.3 363.2 L700.3 363.6 L701.3 364.0 L702.3 364.4 L703.3 364.8 L704.3 365.3 L705.3 365.8 L706.3 366.3 L707.3 366.8 L708.3 367.3 L709.3 367.9 L710.3 368.5 L711.3 369.0 L712.3 369.6 L713.3 370.1 L714.3 370.7 L715.3 371.2 L716.3 371.7 L717.3 372.2 L718.3 372.7 L719.3 373.2 L720.3 373.6 L721.3 374.0 L722.3 374.3 L723.3 374.7 L724.3 375.0 L725.3 375.2 L726.3 375.5 L727.3 375.7 L728.3 375.9 L729.3 376.1 L730.3 376.3 L731.3 376.4 L732.3 376.5 L733.3 376.6 L734.3 376.7 L735.3 376.8 L736.3 376.9 L737.3 377.0 L738.3 377.0 L739.3 377.1 L740.3 377.1 L741.3 377.2 L742.3 377.2 L743.3 377.2 L744.3 377.3 L745.3 377.3 L746.3 377.3 L747.3 377.3 L748.3 377.4 L749.3 377.4 L750.3 377.4 L751.3 377.4 L752.3 377.5 L753.3 377.5 L754.3 377.5 L755.3 377.5 L756.3 377.5 L757.3 377.5 L758.3 377.6 L759.3 377.6 L760.3 377.6 L761.3 377.6" fill="none" stroke="#EE1C25" stroke-width="1.55" stroke-linejoin="round"/>
<text x="565.0" y="54.0" fill="#111" stroke="#111" stroke-width="0.24" font-size="12.0" text-anchor="start" >(c)</text>
<text x="566.0" y="81.7" fill="#111" stroke="#111" stroke-width="0.24" font-size="12.0" text-anchor="start" >T9</text>
<text x="565.0" y="238.2" fill="#111" stroke="#111" stroke-width="0.24" font-size="12.0" text-anchor="start" >Y3 Blank</text>
<text x="653.6" y="50.0" fill="#5FBBEA" stroke="#5FBBEA" stroke-width="0.06" font-size="12.2" text-anchor="start" >684.9</text>
<text x="659.7" y="65.3" fill="#5FBBEA" stroke="#5FBBEA" stroke-width="0.06" font-size="12.2" text-anchor="start" >LiF</text>
<path d="M680.8 57.2 L697.8 60.8" stroke="#5FBBEA" stroke-width="1.15" fill="none"/>
<text x="611.5" y="118.6" fill="#BD95CB" stroke="#BD95CB" stroke-width="0.06" font-size="12.2" text-anchor="start" >687.0</text>
<text transform="translate(612.2 133.5) scale(0.950 1)" fill="#BD95CB" stroke="#BD95CB" stroke-width="0.06" font-size="12.2" text-anchor="start" >C—F</text>
<path d="M641.7 122.5 L659.0 133.0" stroke="#BD95CB" stroke-width="1.15" fill="none"/>
<text x="674.1" y="235.8" fill="#C59DCC" stroke="#C59DCC" stroke-width="0.06" font-size="12.2" text-anchor="start" >687.3</text>
<text transform="translate(675.0 251.2) scale(0.950 1)" fill="#C59DCC" stroke="#C59DCC" stroke-width="0.06" font-size="12.2" text-anchor="start" >C—F</text>
<path d="M670.5 232.5 L651.7 227.2" stroke="#C9A2CF" stroke-width="1.15" fill="none"/><path d="M651.7 227.2 L657.1 226.6 L656.0 230.5 Z" fill="#C9A2CF"/>
<text x="688.0" y="335.9" fill="#5FBBEA" stroke="#5FBBEA" stroke-width="0.06" font-size="12.2" text-anchor="start" >684.9</text>
<text x="694.1" y="351.4" fill="#5FBBEA" stroke="#5FBBEA" stroke-width="0.06" font-size="12.2" text-anchor="start" >LiF</text>
<path d="M701.4 353.8 L701.4 367.1" stroke="#5FBBEA" stroke-width="1.15" fill="none"/><path d="M701.4 367.1 L699.4 362.1 L703.4 362.1 Z" fill="#5FBBEA"/>
</svg>
</body></html>
